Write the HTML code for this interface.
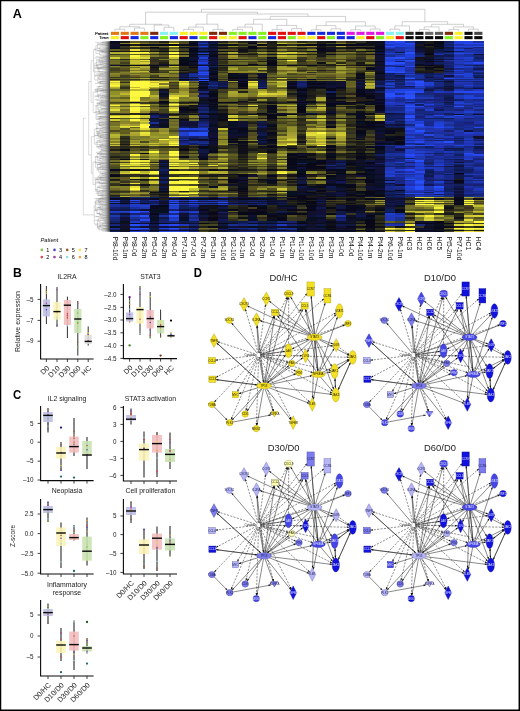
<!DOCTYPE html>
<html><head><meta charset="utf-8"><title>Figure</title>
<style>html,body{margin:0;padding:0;background:#fff;}body{width:520px;height:711px;overflow:hidden;font-family:"Liberation Sans",sans-serif;}svg{display:block;position:absolute;left:0;top:0;will-change:transform;}</style>
</head><body>
<svg width="520" height="711" viewBox="0 0 520 711" font-family="'Liberation Sans', sans-serif">
<rect x="0" y="0" width="520" height="711" fill="#fff"/>
<path d="M114.91 31.20V29.25H124.73V31.20M134.55 31.20V28.00H144.37V31.20M119.82 29.25V26.75H139.46V28.00M164.02 31.20V27.25H173.84V31.20M154.19 31.20V25.00H168.93V27.25M129.64 26.75V24.25H161.56V25.00M183.66 31.20V29.40H193.48V31.20M188.57 29.40V27.10H203.30V31.20M213.12 31.20V29.40H222.94V31.20M195.93 27.10V24.20H218.03V29.40M232.76 31.20V29.40H242.58V31.20M237.67 29.40V27.10H252.41V31.20M245.04 27.10V24.20H262.23V31.20M272.05 31.20V29.60H281.87V31.20M291.69 31.20V28.60H301.51V31.20M276.96 29.60V25.40H296.60V28.60M253.63 24.20V19.30H286.78V25.40M311.33 31.20V29.80H321.15V31.20M330.97 31.20V28.80H340.79V31.20M316.24 29.80V25.60H335.88V28.80M350.62 31.20V29.80H360.44V31.20M370.26 31.20V29.00H380.08V31.20M355.53 29.80V26.00H375.17V29.00M326.06 25.60V21.80H365.35V26.00M270.21 19.30V16.40H345.71V21.80M206.98 24.20V14.00H307.96V16.40M145.60 24.25V12.20H257.47V14.00M389.90 31.20V29.20H399.72V31.20M394.81 29.20V25.90H409.54V31.20M419.36 31.20V29.40H429.18V31.20M424.27 29.40V26.90H439.01V31.20M448.83 31.20V29.60H458.65V31.20M468.47 31.20V29.20H478.29V31.20M453.74 29.60V26.90H473.38V29.20M431.64 26.90V24.30H463.56V26.90M402.18 25.90V21.70H447.60V24.30M201.54 12.20V9.25H424.89V21.70" fill="none" stroke="#a9a9a9" stroke-width="0.55"/>
<defs><linearGradient id="rg" x1="0" x2="1" y1="0" y2="0"><stop offset="0" stop-color="#fff" stop-opacity="0"/><stop offset="0.5" stop-color="#aaa" stop-opacity="0.35"/><stop offset="1" stop-color="#2a2a2a" stop-opacity="0.95"/></linearGradient></defs>
<path d="M103.5 42.7H101.0V44.5H103.5M103.5 46.8H99.8V49.5H103.5M101.0 43.6H97.6V48.2H99.8M103.5 54.1H100.7V55.9H103.5M103.5 52.0H99.5V55.0H100.7M97.6 45.9H95.9V53.5H99.5M103.5 58.1H99.6V60.9H103.5M103.5 63.1H100.8V64.9H103.5M103.5 68.2H99.0V71.8H103.5M100.8 64.0H97.8V70.0H99.0M99.6 59.5H96.6V67.0H97.8M103.5 74.6H100.1V77.0H103.5M100.1 75.8H98.9V79.2H103.5M103.5 81.4H100.6V83.5H103.5M98.9 77.5H97.7V82.5H100.6M96.6 63.2H94.7V80.0H97.7M95.9 49.7H93.5V71.6H94.7M103.5 88.7H100.1V90.7H103.5M103.5 86.3H98.9V89.7H100.1M103.5 93.2H100.1V95.2H103.5M103.5 97.1H100.5V98.9H103.5M100.1 94.2H98.6V98.0H100.5M98.9 88.0H97.4V96.1H98.6M103.5 100.5H101.0V102.5H103.5M101.0 101.5H99.8V104.3H103.5M103.5 106.2H100.7V108.1H103.5M103.5 109.9H99.6V112.8H103.5M100.7 107.2H98.4V111.4H99.6M99.8 102.9H97.2V109.3H98.4M103.5 116.1H100.4V118.6H103.5M100.4 117.3H99.2V120.7H103.5M97.2 106.1H96.0V119.0H99.2M97.4 92.1H93.2V112.5H96.0M93.5 60.7H91.1V102.3H93.2M103.5 124.6H100.6V126.4H103.5M103.5 122.8H99.4V125.5H100.6M103.5 128.4H100.5V130.9H103.5M100.5 129.6H99.3V133.8H103.5M103.5 135.6H100.4V137.4H103.5M99.3 131.7H98.1V136.5H100.4M99.4 124.1H96.9V134.1H98.1M103.5 141.7H100.8V143.3H103.5M103.5 139.6H99.6V142.5H100.8M103.5 144.8H100.6V146.9H103.5M100.6 145.9H98.8V149.0H103.5M99.6 141.1H96.9V147.4H98.8M96.9 129.1H94.4V144.2H96.9M103.5 151.0H100.6V152.7H103.5M103.5 154.2H100.6V155.9H103.5M100.6 151.9H99.4V155.1H100.6M103.5 158.4H99.9V161.3H103.5M99.4 153.5H97.2V159.8H99.9M103.5 163.7H100.1V165.5H103.5M103.5 167.0H100.2V169.0H103.5M103.5 171.2H100.5V172.9H103.5M100.2 168.0H98.7V172.1H100.5M100.1 164.6H97.5V170.1H98.7M97.2 156.6H95.4V167.3H97.5M103.5 177.2H100.4V179.2H103.5M103.5 174.9H99.2V178.2H100.4M103.5 180.9H99.5V183.1H103.5M99.2 176.5H98.0V182.0H99.5M103.5 185.4H99.0V188.2H103.5M103.5 190.6H99.8V192.6H103.5M103.5 194.2H100.8V195.9H103.5M99.8 191.6H98.4V195.0H100.8M99.0 186.8H97.2V193.3H98.4M98.0 179.3H95.6V190.1H97.2M95.4 162.0H93.0V184.7H95.6M94.4 136.7H91.4V173.3H93.0M91.1 81.5H88.7V155.0H91.4M103.5 198.3H100.1V199.9H103.5M103.5 201.5H100.1V203.9H103.5M100.1 199.1H98.9V202.7H100.1M103.5 206.6H100.0V209.2H103.5M103.5 214.3H100.6V216.3H103.5M103.5 211.9H99.4V215.3H100.6M100.0 207.9H97.0V213.6H99.4M98.9 200.9H95.5V210.8H97.0M103.5 220.5H99.9V222.7H103.5M103.5 218.5H98.6V221.6H99.9M103.5 224.9H100.3V227.2H103.5M100.3 226.1H99.1V229.9H103.5M98.6 220.0H97.4V228.0H99.1M95.5 205.8H94.2V224.0H97.4M85.6 118.2H83.3V214.9H94.2" fill="none" stroke="#b4b4b4" stroke-width="0.5"/>
<path d="M102.1 42.6L110 41.9M102.1 41.8L110 42.6M95.3 42.3L110 43.4M101.9 43.0L110 44.1M97.5 44.4L110 44.9M98.2 45.1L110 45.6M103.2 44.6L110 46.4M94.0 49.3L110 47.1M102.8 50.3L110 47.9M98.3 50.9L110 48.6M103.3 48.0L110 49.4M101.5 51.8L110 50.1M100.6 50.9L110 50.9M96.9 50.8L110 51.6M96.3 50.2L110 52.4M99.9 52.0L110 53.1M102.1 51.6L110 53.9M103.0 55.6L110 54.6M103.2 57.3L110 55.4M103.0 56.5L110 56.1M94.1 58.1L110 56.9M95.7 56.6L110 57.6M100.6 58.5L110 58.4M98.1 61.3L110 59.1M100.1 59.1L110 59.9M96.5 62.4L110 60.6M98.8 62.8L110 61.4M97.5 60.6L110 62.1M99.3 64.4L110 62.9M95.7 65.1L110 63.6M103.2 65.9L110 64.3M102.2 62.6L110 65.1M100.3 67.7L110 65.8M94.5 65.5L110 66.6M96.7 67.5L110 67.3M98.2 68.0L110 68.1M101.8 66.4L110 68.8M94.5 67.7L110 69.6M95.2 68.2L110 70.3M103.7 72.9L110 71.1M94.9 71.9L110 71.8M97.2 71.7L110 72.6M97.5 74.1L110 73.3M99.9 73.4L110 74.1M95.9 74.0L110 74.8M95.2 75.9L110 75.6M101.2 75.8L110 76.3M94.8 75.5L110 77.1M97.7 78.4L110 77.8M101.8 78.0L110 78.6M102.0 80.0L110 79.3M98.3 79.5L110 80.1M99.0 81.9L110 80.8M98.2 82.6L110 81.6M98.6 81.1L110 82.3M99.4 84.1L110 83.1M94.7 83.5L110 83.8M98.3 86.5L110 84.6M103.4 84.7L110 85.3M103.0 87.6L110 86.1M96.6 86.7L110 86.8M95.2 89.2L110 87.6M100.6 90.3L110 88.3M101.9 89.9L110 89.1M101.3 90.2L110 89.8M95.0 91.0L110 90.6M94.0 89.6L110 91.3M101.7 89.8L110 92.1M94.9 90.8L110 92.8M102.8 92.0L110 93.6M94.2 96.1L110 94.3M95.2 96.8L110 95.1M100.7 97.5L110 95.8M103.5 97.0L110 96.6M102.0 95.0L110 97.3M101.7 98.2L110 98.1M101.2 96.9L110 98.8M101.5 101.8L110 99.6M94.6 99.5L110 100.3M99.6 102.7L110 101.1M96.4 100.2L110 101.8M96.5 103.2L110 102.6M101.5 102.8L110 103.3M97.7 103.6L110 104.1M97.5 104.4L110 104.8M94.8 105.6L110 105.6M103.7 105.9L110 106.3M101.5 105.4L110 107.1M100.9 109.1L110 107.8M100.7 108.7L110 108.6M98.8 110.1L110 109.3M103.0 108.3L110 110.1M95.0 112.1L110 110.8M103.2 111.7L110 111.6M98.4 113.4L110 112.3M95.9 111.9L110 113.1M96.0 114.3L110 113.8M97.1 113.3L110 114.6M100.9 117.6L110 115.3M97.0 117.1L110 116.1M98.1 118.6L110 116.8M99.8 116.4L110 117.6M96.2 116.0L110 118.3M98.8 118.5L110 119.1M95.7 119.2L110 119.8M97.2 122.0L110 120.6M95.4 123.8L110 121.3M98.8 122.6L110 122.1M98.7 124.5L110 122.8M102.2 123.9L110 123.6M98.8 125.5L110 124.3M102.6 124.6L110 125.1M101.3 128.2L110 125.8M98.7 125.2L110 126.6M96.3 128.4L110 127.3M100.8 130.4L110 128.1M102.5 127.6L110 128.8M95.9 128.4L110 129.6M95.9 131.4L110 130.3M102.6 133.1L110 131.1M96.6 133.7L110 131.8M97.1 132.2L110 132.6M101.3 131.3L110 133.3M94.9 135.8L110 134.1M96.9 134.1L110 134.8M99.8 136.5L110 135.6M94.1 135.5L110 136.3M98.4 137.0L110 137.1M96.1 138.3L110 137.8M103.6 138.1L110 138.6M99.4 137.4L110 139.3M96.7 140.9L110 140.1M95.1 142.8L110 140.8M103.1 139.6L110 141.6M103.4 141.7L110 142.3M101.7 144.4L110 143.1M97.0 144.7L110 143.8M100.5 146.1L110 144.6M96.7 146.6L110 145.3M103.6 147.0L110 146.1M99.4 144.9L110 146.8M98.9 146.9L110 147.6M101.2 149.2L110 148.3M99.7 147.5L110 149.1M100.5 150.5L110 149.8M95.8 152.5L110 150.6M100.6 149.5L110 151.3M103.3 150.3L110 152.1M97.3 154.0L110 152.8M100.0 153.9L110 153.6M100.5 154.1L110 154.3M97.1 153.5L110 155.1M94.7 156.9L110 155.8M101.5 156.8L110 156.6M101.4 156.6L110 157.3M96.7 157.5L110 158.1M102.7 156.6L110 158.8M99.0 158.3L110 159.6M101.7 159.6L110 160.3M97.3 160.6L110 161.1M99.4 163.2L110 161.8M97.5 164.3L110 162.6M95.1 162.2L110 163.3M95.0 162.2L110 164.1M101.8 166.0L110 164.8M95.8 164.0L110 165.6M98.2 167.6L110 166.3M102.2 168.3L110 167.1M99.9 166.1L110 167.8M98.0 167.1L110 168.6M99.3 169.7L110 169.3M96.0 168.9L110 170.1M101.8 168.5L110 170.8M102.0 173.6L110 171.6M103.5 171.8L110 172.3M99.5 173.5L110 173.1M100.3 176.2L110 173.8M100.9 173.6L110 174.6M102.6 175.3L110 175.3M100.0 177.2L110 176.1M94.0 178.2L110 176.8M100.6 177.6L110 177.6M99.2 178.2L110 178.3M95.9 179.2L110 179.1M94.4 179.9L110 179.8M100.5 180.3L110 180.6M99.7 183.6L110 181.3M102.9 180.3L110 182.1M101.9 183.5L110 182.8M94.5 182.9L110 183.6M96.3 182.2L110 184.3M99.4 187.2L110 185.1M97.2 187.7L110 185.8M100.9 184.8L110 186.6M102.6 187.9L110 187.3M103.3 189.2L110 188.1M101.4 188.1L110 188.8M102.1 191.8L110 189.6M102.6 190.0L110 190.3M101.6 191.0L110 191.1M95.1 189.6L110 191.8M94.8 191.1L110 192.6M95.6 193.3L110 193.3M101.0 194.3L110 194.1M98.2 195.6L110 194.8M97.0 195.4L110 195.6M101.6 195.9L110 196.3M95.8 199.1L110 197.1M101.2 197.2L110 197.8M97.7 198.7L110 198.6M100.0 198.0L110 199.3M94.0 198.6L110 200.1M101.8 199.1L110 200.8M98.6 200.1L110 201.6M96.1 200.7L110 202.3M98.0 201.4L110 203.1M94.3 201.9L110 203.8M95.7 204.6L110 204.6M94.6 203.0L110 205.3M98.5 205.6L110 206.1M101.0 204.6L110 206.8M98.0 207.1L110 207.6M94.3 210.7L110 208.3M96.2 207.1L110 209.1M98.7 208.2L110 209.8M100.2 209.8L110 210.6M95.2 209.1L110 211.3M101.3 211.0L110 212.1M101.9 212.7L110 212.8M103.3 212.6L110 213.6M96.5 213.2L110 214.3M102.1 215.7L110 215.1M97.4 213.8L110 215.8M100.8 218.9L110 216.6M99.9 214.9L110 217.3M94.3 216.1L110 218.1M95.7 216.5L110 218.8M94.5 220.4L110 219.6M103.0 218.9L110 220.3M103.7 221.0L110 221.1M102.0 223.9L110 221.8M103.4 220.3L110 222.6M97.0 223.9L110 223.3M103.5 222.0L110 224.1M96.9 226.6L110 224.8M95.1 225.0L110 225.6M97.3 227.3L110 226.3M103.3 225.5L110 227.1M101.4 229.0L110 227.8M102.4 228.9L110 228.6M103.2 228.7L110 229.3M98.1 228.7L110 230.1M101.8 230.8L110 230.8" fill="none" stroke="#444" stroke-width="0.35" opacity="0.6"/>
<rect x="99" y="41.25" width="11" height="190.5" fill="url(#rg)"/>
<g shape-rendering="crispEdges">
<rect x="110.0" y="41.25" width="373.20" height="190.50" fill="#101018"/>
<path fill="#080820" d="M110.0 41.25h10.1v2.20h-10.1zM188.6 43.25h10.1v3.20h-10.1zM335.9 44.25h10.1v2.20h-10.1zM355.5 44.25h10.1v2.20h-10.1zM375.2 46.25h10.1v1.20h-10.1zM434.1 46.25h10.1v1.20h-10.1zM247.5 47.25h10.1v1.20h-10.1zM110.0 48.25h10.1v1.20h-10.1zM188.6 49.25h10.1v2.20h-10.1zM316.2 49.25h10.1v2.20h-10.1zM306.4 51.25h10.1v1.20h-10.1zM424.3 61.25h10.1v1.20h-10.1zM149.3 65.25h10.1v1.20h-10.1zM267.1 65.25h10.1v1.20h-10.1zM414.5 65.25h10.1v1.20h-10.1zM365.3 68.25h10.1v2.20h-10.1zM208.2 78.25h10.1v1.20h-10.1zM355.5 78.25h10.1v1.20h-10.1zM306.4 79.25h10.1v1.20h-10.1zM286.8 81.25h10.1v1.20h-10.1zM286.8 83.25h10.1v2.20h-10.1zM286.8 86.25h10.1v1.20h-10.1zM335.9 87.25h10.1v1.20h-10.1zM198.4 88.25h10.1v1.20h-10.1zM355.5 89.25h10.1v4.20h-10.1zM355.5 95.25h10.1v2.20h-10.1zM335.9 97.25h10.1v2.20h-10.1zM365.3 97.25h10.1v2.20h-10.1zM375.2 99.25h10.1v2.20h-10.1zM208.2 101.25h10.1v1.20h-10.1zM355.5 102.25h10.1v1.20h-10.1zM375.2 102.25h10.1v2.20h-10.1zM326.1 103.25h10.1v2.20h-10.1zM267.1 107.25h10.1v2.20h-10.1zM375.2 109.25h10.1v2.20h-10.1zM326.1 113.25h10.1v1.20h-10.1zM267.1 114.25h10.1v1.20h-10.1zM355.5 115.25h10.1v1.20h-10.1zM198.4 118.25h10.1v1.20h-10.1zM355.5 118.25h10.1v1.20h-10.1zM227.9 121.25h10.1v1.20h-10.1zM355.5 121.25h10.1v1.20h-10.1zM365.3 124.25h10.1v2.20h-10.1zM326.1 127.25h10.1v1.20h-10.1zM365.3 127.25h10.1v1.20h-10.1zM227.9 128.25h10.1v2.20h-10.1zM237.7 130.25h10.1v2.20h-10.1zM385.0 130.25h10.1v4.20h-10.1zM267.1 132.25h10.1v2.20h-10.1zM394.8 138.25h10.1v1.20h-10.1zM208.2 140.25h10.1v1.20h-10.1zM227.9 141.25h10.1v2.20h-10.1zM375.2 143.25h10.1v1.20h-10.1zM394.8 144.25h10.1v1.20h-10.1zM237.7 145.25h10.1v1.20h-10.1zM365.3 146.25h10.1v2.20h-10.1zM375.2 146.25h10.1v2.20h-10.1zM198.4 148.25h10.1v1.20h-10.1zM286.8 148.25h10.1v1.20h-10.1zM296.6 153.25h10.1v1.20h-10.1zM326.1 153.25h10.1v1.20h-10.1zM198.4 158.25h10.1v1.20h-10.1zM316.2 160.25h10.1v2.20h-10.1zM286.8 162.25h10.1v1.20h-10.1zM365.3 162.25h10.1v1.20h-10.1zM365.3 166.25h10.1v1.20h-10.1zM286.8 167.25h10.1v2.20h-10.1zM110.0 169.25h10.1v2.20h-10.1zM326.1 169.25h10.1v2.20h-10.1zM365.3 174.25h10.1v1.20h-10.1zM267.1 175.25h10.1v2.20h-10.1zM296.6 175.25h10.1v2.20h-10.1zM365.3 179.25h10.1v1.20h-10.1zM227.9 180.25h10.1v1.20h-10.1zM335.9 180.25h10.1v1.20h-10.1zM453.7 181.25h10.1v2.20h-10.1zM326.1 184.25h10.1v2.20h-10.1zM345.7 184.25h10.1v2.20h-10.1zM316.2 186.25h10.1v2.20h-10.1zM316.2 190.25h10.1v1.20h-10.1zM375.2 190.25h10.1v1.20h-10.1zM296.6 195.25h10.1v1.20h-10.1zM355.5 196.25h10.1v1.20h-10.1zM110.0 198.25h10.1v2.20h-10.1zM149.3 198.25h10.1v2.20h-10.1zM208.2 198.25h10.1v2.20h-10.1zM237.7 198.25h10.1v2.20h-10.1zM286.8 198.25h10.1v2.20h-10.1zM119.8 203.25h10.1v1.20h-10.1zM453.7 203.25h10.1v2.20h-10.1zM149.3 205.25h10.1v4.20h-10.1zM345.7 205.25h10.1v4.20h-10.1zM306.4 207.25h10.1v2.20h-10.1zM355.5 207.25h10.1v2.20h-10.1zM335.9 209.25h10.1v2.20h-10.1zM394.8 209.25h10.1v3.20h-10.1zM247.5 213.25h10.1v2.20h-10.1zM277.0 213.25h10.1v2.20h-10.1zM326.1 221.25h10.1v2.20h-10.1zM414.5 223.25h10.1v1.20h-10.1zM434.1 223.25h10.1v1.20h-10.1zM345.7 226.25h10.1v2.20h-10.1zM434.1 226.25h10.1v2.20h-10.1zM443.9 226.25h10.1v2.20h-10.1zM296.6 229.25h10.1v1.20h-10.1zM129.6 230.25h10.1v1.20h-10.1zM316.2 230.25h10.1v1.20h-10.1zM335.9 230.25h10.1v1.20h-10.1zM345.7 230.25h10.1v1.20h-10.1zM424.3 230.25h10.1v1.20h-10.1zM434.1 231.25h10.1v0.70h-10.1z"/>
<path fill="#181818" d="M119.8 41.25h10.1v2.20h-10.1zM267.1 41.25h10.1v2.20h-10.1zM316.2 41.25h10.1v2.20h-10.1zM424.3 41.25h10.1v3.20h-10.1zM355.5 43.25h10.1v1.20h-10.1zM129.6 44.25h10.1v2.20h-10.1zM277.0 44.25h10.1v2.20h-10.1zM414.5 44.25h10.1v2.20h-10.1zM316.2 46.25h10.1v1.20h-10.1zM267.1 47.25h10.1v1.20h-10.1zM424.3 47.25h10.1v1.20h-10.1zM149.3 48.25h10.1v1.20h-10.1zM159.1 48.25h10.1v1.20h-10.1zM237.7 48.25h10.1v1.20h-10.1zM335.9 48.25h10.1v1.20h-10.1zM355.5 48.25h10.1v1.20h-10.1zM227.9 51.25h10.1v1.20h-10.1zM247.5 51.25h10.1v1.20h-10.1zM286.8 51.25h10.1v1.20h-10.1zM296.6 51.25h10.1v1.20h-10.1zM355.5 51.25h10.1v1.20h-10.1zM316.2 53.25h10.1v1.20h-10.1zM178.7 54.25h10.1v1.20h-10.1zM247.5 54.25h10.1v1.20h-10.1zM365.3 54.25h10.1v1.20h-10.1zM316.2 55.25h10.1v2.20h-10.1zM424.3 55.25h10.1v2.20h-10.1zM227.9 59.25h10.1v1.20h-10.1zM414.5 59.25h10.1v1.20h-10.1zM355.5 62.25h10.1v2.20h-10.1zM168.9 65.25h10.1v1.20h-10.1zM247.5 65.25h10.1v1.20h-10.1zM257.3 65.25h10.1v1.20h-10.1zM296.6 65.25h10.1v1.20h-10.1zM316.2 65.25h10.1v1.20h-10.1zM414.5 71.25h10.1v2.20h-10.1zM188.6 72.25h10.1v1.20h-10.1zM424.3 72.25h10.1v1.20h-10.1zM237.7 73.25h10.1v1.20h-10.1zM149.3 79.25h10.1v1.20h-10.1zM227.9 79.25h10.1v1.20h-10.1zM257.3 79.25h10.1v1.20h-10.1zM237.7 87.25h10.1v1.20h-10.1zM208.2 89.25h10.1v2.20h-10.1zM306.4 89.25h10.1v2.20h-10.1zM286.8 93.25h10.1v2.20h-10.1zM306.4 95.25h10.1v2.20h-10.1zM355.5 101.25h10.1v1.20h-10.1zM247.5 102.25h10.1v1.20h-10.1zM355.5 103.25h10.1v1.20h-10.1zM188.6 106.25h10.1v3.20h-10.1zM218.0 106.25h10.1v1.20h-10.1zM237.7 106.25h10.1v1.20h-10.1zM218.0 109.25h10.1v2.20h-10.1zM326.1 109.25h10.1v2.20h-10.1zM188.6 111.25h10.1v2.20h-10.1zM119.8 114.25h10.1v1.20h-10.1zM326.1 114.25h10.1v1.20h-10.1zM326.1 118.25h10.1v1.20h-10.1zM335.9 118.25h10.1v1.20h-10.1zM345.7 118.25h10.1v1.20h-10.1zM365.3 118.25h10.1v1.20h-10.1zM267.1 119.25h10.1v2.20h-10.1zM355.5 119.25h10.1v2.20h-10.1zM218.0 121.25h10.1v1.20h-10.1zM218.0 126.25h10.1v1.20h-10.1zM267.1 127.25h10.1v1.20h-10.1zM355.5 128.25h10.1v2.20h-10.1zM267.1 136.25h10.1v2.20h-10.1zM296.6 136.25h10.1v2.20h-10.1zM237.7 139.25h10.1v1.20h-10.1zM227.9 140.25h10.1v1.20h-10.1zM394.8 140.25h10.1v1.20h-10.1zM355.5 141.25h10.1v2.20h-10.1zM119.8 144.25h10.1v1.20h-10.1zM237.7 144.25h10.1v1.20h-10.1zM178.7 146.25h10.1v2.20h-10.1zM306.4 146.25h10.1v2.20h-10.1zM355.5 146.25h10.1v2.20h-10.1zM257.3 148.25h10.1v1.20h-10.1zM326.1 148.25h10.1v1.20h-10.1zM247.5 149.25h10.1v2.20h-10.1zM345.7 149.25h10.1v2.20h-10.1zM355.5 151.25h10.1v2.20h-10.1zM237.7 156.25h10.1v2.20h-10.1zM345.7 156.25h10.1v2.20h-10.1zM296.6 158.25h10.1v1.20h-10.1zM326.1 158.25h10.1v1.20h-10.1zM365.3 158.25h10.1v1.20h-10.1zM139.5 159.25h10.1v1.20h-10.1zM237.7 159.25h10.1v1.20h-10.1zM237.7 169.25h10.1v2.20h-10.1zM247.5 169.25h10.1v2.20h-10.1zM316.2 169.25h10.1v2.20h-10.1zM345.7 169.25h10.1v2.20h-10.1zM326.1 171.25h10.1v2.20h-10.1zM286.8 174.25h10.1v1.20h-10.1zM316.2 174.25h10.1v1.20h-10.1zM198.4 175.25h10.1v2.20h-10.1zM208.2 175.25h10.1v2.20h-10.1zM227.9 177.25h10.1v2.20h-10.1zM110.0 179.25h10.1v1.20h-10.1zM247.5 179.25h10.1v1.20h-10.1zM257.3 180.25h10.1v1.20h-10.1zM277.0 180.25h10.1v1.20h-10.1zM296.6 180.25h10.1v1.20h-10.1zM286.8 181.25h10.1v2.20h-10.1zM119.8 184.25h10.1v2.20h-10.1zM316.2 188.25h10.1v2.20h-10.1zM345.7 188.25h10.1v2.20h-10.1zM267.1 191.25h10.1v1.20h-10.1zM345.7 191.25h10.1v1.20h-10.1zM149.3 194.25h10.1v1.20h-10.1zM159.1 195.25h10.1v1.20h-10.1zM237.7 196.25h10.1v1.20h-10.1zM345.7 196.25h10.1v1.20h-10.1zM306.4 197.25h10.1v1.20h-10.1zM335.9 198.25h10.1v2.20h-10.1zM355.5 198.25h10.1v2.20h-10.1zM404.6 198.25h10.1v2.20h-10.1zM414.5 198.25h10.1v2.20h-10.1zM286.8 201.25h10.1v1.20h-10.1zM326.1 201.25h10.1v1.20h-10.1zM286.8 203.25h10.1v1.20h-10.1zM316.2 203.25h10.1v1.20h-10.1zM404.6 203.25h10.1v1.20h-10.1zM237.7 207.25h10.1v5.20h-10.1zM208.2 209.25h10.1v2.20h-10.1zM267.1 209.25h10.1v3.20h-10.1zM277.0 209.25h10.1v2.20h-10.1zM404.6 213.25h10.1v2.20h-10.1zM443.9 213.25h10.1v2.20h-10.1zM326.1 219.25h10.1v2.20h-10.1zM208.2 230.25h10.1v1.20h-10.1zM375.2 230.25h10.1v1.70h-10.1z"/>
<path fill="#605820" d="M129.6 41.25h10.1v2.20h-10.1zM159.1 55.25h10.1v2.20h-10.1zM247.5 57.25h10.1v2.20h-10.1zM306.4 57.25h10.1v2.20h-10.1zM119.8 61.25h10.1v1.20h-10.1zM227.9 61.25h10.1v1.20h-10.1zM326.1 71.25h10.1v1.20h-10.1zM345.7 74.25h10.1v1.20h-10.1zM326.1 75.25h10.1v2.20h-10.1zM316.2 78.25h10.1v1.20h-10.1zM218.0 80.25h10.1v1.20h-10.1zM188.6 87.25h10.1v1.20h-10.1zM345.7 101.25h10.1v1.20h-10.1zM227.9 109.25h10.1v2.20h-10.1zM247.5 111.25h10.1v2.20h-10.1zM306.4 127.25h10.1v1.20h-10.1zM149.3 130.25h10.1v2.20h-10.1zM326.1 130.25h10.1v2.20h-10.1zM119.8 132.25h10.1v2.20h-10.1zM247.5 136.25h10.1v2.20h-10.1zM110.0 151.25h10.1v2.20h-10.1zM208.2 158.25h10.1v1.20h-10.1zM247.5 158.25h10.1v1.20h-10.1zM227.9 163.25h10.1v1.20h-10.1zM257.3 164.25h10.1v1.20h-10.1zM168.9 166.25h10.1v1.20h-10.1zM119.8 177.25h10.1v3.20h-10.1zM306.4 177.25h10.1v2.20h-10.1zM218.0 180.25h10.1v1.20h-10.1zM277.0 181.25h10.1v2.20h-10.1zM218.0 183.25h10.1v1.20h-10.1zM129.6 191.25h10.1v1.20h-10.1zM129.6 195.25h10.1v1.20h-10.1zM404.6 215.25h10.1v2.20h-10.1zM463.6 223.25h10.1v1.20h-10.1z"/>
<path fill="#484820" d="M139.5 41.25h10.1v2.20h-10.1zM178.7 41.25h10.1v2.20h-10.1zM326.1 43.25h10.1v1.20h-10.1zM345.7 43.25h10.1v1.20h-10.1zM365.3 49.25h10.1v2.20h-10.1zM326.1 52.25h10.1v1.20h-10.1zM247.5 59.25h10.1v1.20h-10.1zM286.8 59.25h10.1v1.20h-10.1zM335.9 59.25h10.1v1.20h-10.1zM365.3 59.25h10.1v1.20h-10.1zM237.7 61.25h10.1v1.20h-10.1zM257.3 64.25h10.1v1.20h-10.1zM345.7 64.25h10.1v1.20h-10.1zM365.3 66.25h10.1v1.20h-10.1zM326.1 67.25h10.1v1.20h-10.1zM168.9 70.25h10.1v1.20h-10.1zM159.1 71.25h10.1v1.20h-10.1zM296.6 71.25h10.1v1.20h-10.1zM316.2 71.25h10.1v1.20h-10.1zM286.8 74.25h10.1v1.20h-10.1zM306.4 74.25h10.1v1.20h-10.1zM139.5 77.25h10.1v1.20h-10.1zM168.9 79.25h10.1v1.20h-10.1zM267.1 79.25h10.1v1.20h-10.1zM119.8 86.25h10.1v1.20h-10.1zM345.7 89.25h10.1v2.20h-10.1zM218.0 97.25h10.1v2.20h-10.1zM110.0 102.25h10.1v1.20h-10.1zM267.1 104.25h10.1v1.20h-10.1zM375.2 113.25h10.1v1.20h-10.1zM296.6 116.25h10.1v2.20h-10.1zM345.7 116.25h10.1v2.20h-10.1zM286.8 121.25h10.1v1.20h-10.1zM247.5 128.25h10.1v2.20h-10.1zM168.9 130.25h10.1v2.20h-10.1zM296.6 132.25h10.1v2.20h-10.1zM365.3 134.25h10.1v2.20h-10.1zM139.5 141.25h10.1v2.20h-10.1zM227.9 143.25h10.1v1.20h-10.1zM218.0 145.25h10.1v1.20h-10.1zM139.5 148.25h10.1v1.20h-10.1zM277.0 149.25h10.1v2.20h-10.1zM119.8 151.25h10.1v2.20h-10.1zM345.7 151.25h10.1v2.20h-10.1zM365.3 151.25h10.1v2.20h-10.1zM208.2 153.25h10.1v1.20h-10.1zM227.9 153.25h10.1v1.20h-10.1zM119.8 154.25h10.1v2.20h-10.1zM178.7 154.25h10.1v2.20h-10.1zM267.1 154.25h10.1v2.20h-10.1zM188.6 156.25h10.1v2.20h-10.1zM178.7 158.25h10.1v2.20h-10.1zM227.9 159.25h10.1v1.20h-10.1zM237.7 163.25h10.1v1.20h-10.1zM149.3 166.25h10.1v1.20h-10.1zM110.0 167.25h10.1v2.20h-10.1zM247.5 167.25h10.1v2.20h-10.1zM227.9 171.25h10.1v3.20h-10.1zM237.7 171.25h10.1v2.20h-10.1zM178.7 175.25h10.1v2.20h-10.1zM168.9 179.25h10.1v1.20h-10.1zM188.6 179.25h10.1v1.20h-10.1zM119.8 180.25h10.1v1.20h-10.1zM208.2 180.25h10.1v1.20h-10.1zM247.5 180.25h10.1v1.20h-10.1zM208.2 183.25h10.1v1.20h-10.1zM277.0 183.25h10.1v3.20h-10.1zM149.3 184.25h10.1v2.20h-10.1zM188.6 184.25h10.1v2.20h-10.1zM139.5 186.25h10.1v2.20h-10.1zM267.1 190.25h10.1v1.20h-10.1zM267.1 192.25h10.1v1.20h-10.1zM257.3 194.25h10.1v1.20h-10.1zM277.0 194.25h10.1v1.20h-10.1zM119.8 195.25h10.1v1.20h-10.1zM227.9 196.25h10.1v1.20h-10.1zM463.6 198.25h10.1v2.20h-10.1zM404.6 201.25h10.1v1.20h-10.1zM473.4 201.25h10.1v1.20h-10.1zM375.2 203.25h10.1v1.20h-10.1zM237.7 219.25h10.1v2.20h-10.1zM394.8 221.25h10.1v2.20h-10.1zM198.4 224.25h10.1v2.20h-10.1zM208.2 224.25h10.1v2.20h-10.1zM198.4 231.25h10.1v0.70h-10.1z"/>
<path fill="#383820" d="M149.3 41.25h10.1v2.20h-10.1zM306.4 41.25h10.1v2.20h-10.1zM247.5 44.25h10.1v2.20h-10.1zM119.8 46.25h10.1v1.20h-10.1zM326.1 46.25h10.1v1.20h-10.1zM365.3 46.25h10.1v1.20h-10.1zM159.1 47.25h10.1v1.20h-10.1zM296.6 47.25h10.1v1.20h-10.1zM306.4 48.25h10.1v1.20h-10.1zM345.7 49.25h10.1v2.20h-10.1zM110.0 54.25h10.1v1.20h-10.1zM149.3 54.25h10.1v1.20h-10.1zM335.9 54.25h10.1v1.20h-10.1zM149.3 57.25h10.1v2.20h-10.1zM159.1 57.25h10.1v2.20h-10.1zM218.0 57.25h10.1v2.20h-10.1zM296.6 57.25h10.1v2.20h-10.1zM237.7 59.25h10.1v1.20h-10.1zM257.3 59.25h10.1v1.20h-10.1zM316.2 59.25h10.1v1.20h-10.1zM345.7 59.25h10.1v1.20h-10.1zM355.5 60.25h10.1v1.20h-10.1zM365.3 60.25h10.1v2.20h-10.1zM296.6 64.25h10.1v1.20h-10.1zM316.2 64.25h10.1v1.20h-10.1zM178.7 71.25h10.1v1.20h-10.1zM355.5 71.25h10.1v1.20h-10.1zM159.1 72.25h10.1v1.20h-10.1zM218.0 72.25h10.1v1.20h-10.1zM247.5 74.25h10.1v1.20h-10.1zM110.0 77.25h10.1v1.20h-10.1zM277.0 77.25h10.1v1.20h-10.1zM345.7 78.25h10.1v1.20h-10.1zM119.8 79.25h10.1v1.20h-10.1zM326.1 79.25h10.1v1.20h-10.1zM218.0 91.25h10.1v2.20h-10.1zM286.8 91.25h10.1v2.20h-10.1zM267.1 97.25h10.1v4.20h-10.1zM257.3 101.25h10.1v1.20h-10.1zM139.5 103.25h10.1v1.20h-10.1zM257.3 103.25h10.1v1.20h-10.1zM286.8 103.25h10.1v1.20h-10.1zM306.4 104.25h10.1v1.20h-10.1zM355.5 104.25h10.1v1.20h-10.1zM365.3 106.25h10.1v1.20h-10.1zM335.9 111.25h10.1v2.20h-10.1zM139.5 113.25h10.1v1.20h-10.1zM247.5 113.25h10.1v1.20h-10.1zM178.7 115.25h10.1v3.20h-10.1zM365.3 116.25h10.1v2.20h-10.1zM110.0 118.25h10.1v1.20h-10.1zM188.6 118.25h10.1v1.20h-10.1zM227.9 118.25h10.1v1.20h-10.1zM345.7 119.25h10.1v2.20h-10.1zM296.6 127.25h10.1v1.20h-10.1zM345.7 130.25h10.1v2.20h-10.1zM345.7 139.25h10.1v1.20h-10.1zM119.8 140.25h10.1v1.20h-10.1zM326.1 141.25h10.1v2.20h-10.1zM296.6 143.25h10.1v1.20h-10.1zM345.7 143.25h10.1v1.20h-10.1zM110.0 146.25h10.1v2.20h-10.1zM188.6 148.25h10.1v1.20h-10.1zM277.0 148.25h10.1v1.20h-10.1zM227.9 149.25h10.1v2.20h-10.1zM296.6 149.25h10.1v2.20h-10.1zM316.2 149.25h10.1v2.20h-10.1zM218.0 151.25h10.1v2.20h-10.1zM110.0 153.25h10.1v1.20h-10.1zM119.8 153.25h10.1v1.20h-10.1zM119.8 158.25h10.1v1.20h-10.1zM267.1 158.25h10.1v1.20h-10.1zM247.5 159.25h10.1v1.20h-10.1zM335.9 159.25h10.1v1.20h-10.1zM218.0 162.25h10.1v1.20h-10.1zM227.9 162.25h10.1v1.20h-10.1zM267.1 162.25h10.1v1.20h-10.1zM267.1 165.25h10.1v1.20h-10.1zM227.9 167.25h10.1v2.20h-10.1zM257.3 169.25h10.1v2.20h-10.1zM110.0 171.25h10.1v2.20h-10.1zM188.6 174.25h10.1v1.20h-10.1zM149.3 175.25h10.1v2.20h-10.1zM257.3 175.25h10.1v2.20h-10.1zM286.8 177.25h10.1v2.20h-10.1zM178.7 179.25h10.1v1.20h-10.1zM168.9 180.25h10.1v1.20h-10.1zM286.8 180.25h10.1v1.20h-10.1zM208.2 181.25h10.1v2.20h-10.1zM110.0 183.25h10.1v1.20h-10.1zM286.8 183.25h10.1v1.20h-10.1zM129.6 184.25h10.1v2.20h-10.1zM257.3 190.25h10.1v1.20h-10.1zM149.3 191.25h10.1v1.20h-10.1zM227.9 192.25h10.1v1.20h-10.1zM149.3 195.25h10.1v1.20h-10.1zM267.1 196.25h10.1v1.20h-10.1zM404.6 197.25h10.1v1.20h-10.1zM277.0 198.25h10.1v2.20h-10.1zM326.1 202.25h10.1v1.20h-10.1zM335.9 202.25h10.1v1.20h-10.1zM443.9 203.25h10.1v1.20h-10.1zM453.7 205.25h10.1v2.20h-10.1zM345.7 213.25h10.1v2.20h-10.1zM414.5 213.25h10.1v2.20h-10.1zM237.7 215.25h10.1v2.20h-10.1zM286.8 217.25h10.1v4.20h-10.1zM326.1 217.25h10.1v2.20h-10.1zM257.3 219.25h10.1v2.20h-10.1zM198.4 221.25h10.1v2.20h-10.1zM443.9 221.25h10.1v2.20h-10.1zM473.4 223.25h10.1v1.20h-10.1zM414.5 226.25h10.1v2.20h-10.1zM375.2 228.25h10.1v1.20h-10.1z"/>
<path fill="#202018" d="M159.1 41.25h10.1v2.20h-10.1zM218.0 41.25h10.1v2.20h-10.1zM237.7 41.25h10.1v2.20h-10.1zM345.7 41.25h10.1v2.20h-10.1zM267.1 43.25h10.1v3.20h-10.1zM316.2 43.25h10.1v1.20h-10.1zM218.0 47.25h10.1v1.20h-10.1zM237.7 47.25h10.1v1.20h-10.1zM119.8 48.25h10.1v1.20h-10.1zM257.3 48.25h10.1v1.20h-10.1zM345.7 51.25h10.1v1.20h-10.1zM237.7 52.25h10.1v1.20h-10.1zM159.1 54.25h10.1v1.20h-10.1zM296.6 54.25h10.1v1.20h-10.1zM306.4 54.25h10.1v1.20h-10.1zM316.2 54.25h10.1v1.20h-10.1zM355.5 54.25h10.1v1.20h-10.1zM218.0 59.25h10.1v1.20h-10.1zM267.1 59.25h10.1v1.20h-10.1zM257.3 61.25h10.1v1.20h-10.1zM159.1 62.25h10.1v2.20h-10.1zM326.1 64.25h10.1v2.20h-10.1zM355.5 64.25h10.1v1.20h-10.1zM277.0 65.25h10.1v1.20h-10.1zM335.9 65.25h10.1v1.20h-10.1zM149.3 66.25h10.1v1.20h-10.1zM188.6 66.25h10.1v1.20h-10.1zM424.3 66.25h10.1v1.20h-10.1zM218.0 67.25h10.1v1.20h-10.1zM267.1 67.25h10.1v1.20h-10.1zM149.3 68.25h10.1v3.20h-10.1zM188.6 68.25h10.1v2.20h-10.1zM267.1 70.25h10.1v1.20h-10.1zM316.2 70.25h10.1v1.20h-10.1zM424.3 70.25h10.1v1.20h-10.1zM188.6 71.25h10.1v1.20h-10.1zM149.3 72.25h10.1v1.20h-10.1zM178.7 72.25h10.1v1.20h-10.1zM159.1 77.25h10.1v1.20h-10.1zM247.5 77.25h10.1v1.20h-10.1zM247.5 79.25h10.1v1.20h-10.1zM286.8 79.25h10.1v1.20h-10.1zM345.7 79.25h10.1v1.20h-10.1zM355.5 79.25h10.1v1.20h-10.1zM286.8 89.25h10.1v2.20h-10.1zM237.7 91.25h10.1v2.20h-10.1zM306.4 91.25h10.1v4.20h-10.1zM335.9 93.25h10.1v2.20h-10.1zM159.1 97.25h10.1v2.20h-10.1zM306.4 97.25h10.1v2.20h-10.1zM345.7 97.25h10.1v2.20h-10.1zM355.5 97.25h10.1v2.20h-10.1zM247.5 99.25h10.1v2.20h-10.1zM365.3 99.25h10.1v2.20h-10.1zM267.1 101.25h10.1v1.20h-10.1zM178.7 102.25h10.1v1.20h-10.1zM237.7 102.25h10.1v1.20h-10.1zM306.4 103.25h10.1v1.20h-10.1zM355.5 105.25h10.1v1.20h-10.1zM178.7 106.25h10.1v1.20h-10.1zM326.1 107.25h10.1v2.20h-10.1zM218.0 111.25h10.1v2.20h-10.1zM178.7 113.25h10.1v1.20h-10.1zM296.6 113.25h10.1v1.20h-10.1zM227.9 114.25h10.1v1.20h-10.1zM237.7 114.25h10.1v1.20h-10.1zM316.2 114.25h10.1v1.20h-10.1zM326.1 115.25h10.1v1.20h-10.1zM178.7 118.25h10.1v1.20h-10.1zM257.3 118.25h10.1v1.20h-10.1zM296.6 118.25h10.1v1.20h-10.1zM218.0 122.25h10.1v4.20h-10.1zM247.5 122.25h10.1v2.20h-10.1zM267.1 122.25h10.1v2.20h-10.1zM345.7 124.25h10.1v2.20h-10.1zM247.5 130.25h10.1v2.20h-10.1zM267.1 130.25h10.1v2.20h-10.1zM394.8 132.25h10.1v4.20h-10.1zM119.8 138.25h10.1v1.20h-10.1zM267.1 138.25h10.1v1.20h-10.1zM296.6 138.25h10.1v1.20h-10.1zM345.7 138.25h10.1v1.20h-10.1zM355.5 138.25h10.1v1.20h-10.1zM375.2 140.25h10.1v1.20h-10.1zM247.5 141.25h10.1v2.20h-10.1zM345.7 141.25h10.1v2.20h-10.1zM365.3 141.25h10.1v2.20h-10.1zM355.5 143.25h10.1v2.20h-10.1zM365.3 144.25h10.1v1.20h-10.1zM178.7 145.25h10.1v1.20h-10.1zM188.6 146.25h10.1v2.20h-10.1zM277.0 146.25h10.1v2.20h-10.1zM286.8 146.25h10.1v2.20h-10.1zM218.0 148.25h10.1v1.20h-10.1zM247.5 148.25h10.1v1.20h-10.1zM267.1 148.25h10.1v1.20h-10.1zM110.0 149.25h10.1v2.20h-10.1zM257.3 149.25h10.1v4.20h-10.1zM365.3 149.25h10.1v2.20h-10.1zM237.7 154.25h10.1v2.20h-10.1zM335.9 154.25h10.1v2.20h-10.1zM345.7 154.25h10.1v2.20h-10.1zM365.3 154.25h10.1v2.20h-10.1zM110.0 156.25h10.1v2.20h-10.1zM306.4 156.25h10.1v2.20h-10.1zM365.3 159.25h10.1v1.20h-10.1zM149.3 162.25h10.1v1.20h-10.1zM237.7 162.25h10.1v1.20h-10.1zM227.9 166.25h10.1v1.20h-10.1zM267.1 166.25h10.1v1.20h-10.1zM345.7 166.25h10.1v1.20h-10.1zM237.7 167.25h10.1v2.20h-10.1zM119.8 169.25h10.1v2.20h-10.1zM139.5 169.25h10.1v2.20h-10.1zM168.9 169.25h10.1v2.20h-10.1zM218.0 169.25h10.1v2.20h-10.1zM208.2 174.25h10.1v1.20h-10.1zM267.1 174.25h10.1v1.20h-10.1zM139.5 175.25h10.1v2.20h-10.1zM227.9 175.25h10.1v2.20h-10.1zM267.1 177.25h10.1v2.20h-10.1zM218.0 179.25h10.1v1.20h-10.1zM453.7 179.25h10.1v1.20h-10.1zM139.5 180.25h10.1v1.20h-10.1zM345.7 180.25h10.1v3.20h-10.1zM257.3 181.25h10.1v2.20h-10.1zM227.9 183.25h10.1v1.20h-10.1zM198.4 184.25h10.1v2.20h-10.1zM218.0 184.25h10.1v2.20h-10.1zM267.1 184.25h10.1v2.20h-10.1zM286.8 184.25h10.1v2.20h-10.1zM306.4 184.25h10.1v2.20h-10.1zM227.9 188.25h10.1v2.20h-10.1zM178.7 191.25h10.1v1.20h-10.1zM218.0 191.25h10.1v1.20h-10.1zM277.0 191.25h10.1v1.20h-10.1zM306.4 191.25h10.1v1.20h-10.1zM237.7 194.25h10.1v1.20h-10.1zM355.5 194.25h10.1v1.20h-10.1zM110.0 195.25h10.1v1.20h-10.1zM208.2 195.25h10.1v1.20h-10.1zM267.1 195.25h10.1v1.20h-10.1zM316.2 195.25h10.1v1.20h-10.1zM326.1 197.25h10.1v1.20h-10.1zM345.7 197.25h10.1v1.20h-10.1zM355.5 197.25h10.1v1.20h-10.1zM159.1 198.25h10.1v2.20h-10.1zM286.8 200.25h10.1v1.20h-10.1zM306.4 200.25h10.1v1.20h-10.1zM227.9 201.25h10.1v1.20h-10.1zM345.7 201.25h10.1v2.20h-10.1zM355.5 201.25h10.1v2.20h-10.1zM365.3 201.25h10.1v1.20h-10.1zM296.6 202.25h10.1v1.20h-10.1zM326.1 203.25h10.1v1.20h-10.1zM335.9 203.25h10.1v1.20h-10.1zM286.8 204.25h10.1v1.20h-10.1zM345.7 204.25h10.1v1.20h-10.1zM355.5 204.25h10.1v1.20h-10.1zM237.7 205.25h10.1v2.20h-10.1zM326.1 205.25h10.1v2.20h-10.1zM375.2 205.25h10.1v2.20h-10.1zM443.9 205.25h10.1v2.20h-10.1zM267.1 207.25h10.1v2.20h-10.1zM365.3 207.25h10.1v4.20h-10.1zM394.8 207.25h10.1v2.20h-10.1zM326.1 209.25h10.1v3.20h-10.1zM286.8 211.25h10.1v1.20h-10.1zM227.9 212.25h10.1v1.20h-10.1zM267.1 212.25h10.1v1.20h-10.1zM375.2 212.25h10.1v1.20h-10.1zM453.7 213.25h10.1v2.20h-10.1zM404.6 217.25h10.1v2.20h-10.1zM375.2 219.25h10.1v2.20h-10.1zM208.2 223.25h10.1v1.20h-10.1zM198.4 226.25h10.1v2.20h-10.1zM404.6 230.25h10.1v1.20h-10.1z"/>
<path fill="#706828" d="M168.9 41.25h10.1v2.20h-10.1zM365.3 57.25h10.1v2.20h-10.1zM129.6 73.25h10.1v1.20h-10.1zM119.8 74.25h10.1v1.20h-10.1zM326.1 74.25h10.1v1.20h-10.1zM149.3 78.25h10.1v1.20h-10.1zM267.1 85.25h10.1v1.20h-10.1zM345.7 86.25h10.1v1.20h-10.1zM188.6 95.25h10.1v2.20h-10.1zM247.5 104.25h10.1v1.20h-10.1zM237.7 105.25h10.1v1.20h-10.1zM149.3 107.25h10.1v2.20h-10.1zM335.9 107.25h10.1v2.20h-10.1zM237.7 109.25h10.1v2.20h-10.1zM257.3 119.25h10.1v2.20h-10.1zM335.9 141.25h10.1v2.20h-10.1zM129.6 144.25h10.1v1.20h-10.1zM218.0 149.25h10.1v2.20h-10.1zM149.3 165.25h10.1v1.20h-10.1zM129.6 166.25h10.1v1.20h-10.1zM257.3 186.25h10.1v2.20h-10.1zM110.0 188.25h10.1v2.20h-10.1zM168.9 191.25h10.1v1.20h-10.1zM129.6 194.25h10.1v1.20h-10.1zM188.6 194.25h10.1v1.20h-10.1zM198.4 196.25h10.1v1.20h-10.1zM218.0 196.25h10.1v1.20h-10.1zM375.2 197.25h10.1v1.20h-10.1zM473.4 197.25h10.1v1.20h-10.1zM365.3 204.25h10.1v1.20h-10.1zM414.5 207.25h10.1v2.20h-10.1z"/>
<path fill="#101018" d="M188.6 41.25h10.1v2.20h-10.1zM326.1 41.25h10.1v2.20h-10.1zM365.3 41.25h10.1v5.20h-10.1zM110.0 43.25h10.1v1.20h-10.1zM178.7 44.25h10.1v2.20h-10.1zM227.9 44.25h10.1v2.20h-10.1zM296.6 44.25h10.1v2.20h-10.1zM316.2 47.25h10.1v1.20h-10.1zM345.7 47.25h10.1v2.20h-10.1zM365.3 47.25h10.1v1.20h-10.1zM434.1 47.25h10.1v1.20h-10.1zM218.0 48.25h10.1v1.20h-10.1zM267.1 48.25h10.1v1.20h-10.1zM296.6 48.25h10.1v1.20h-10.1zM424.3 48.25h10.1v5.20h-10.1zM237.7 49.25h10.1v3.20h-10.1zM326.1 49.25h10.1v2.20h-10.1zM110.0 51.25h10.1v1.20h-10.1zM149.3 51.25h10.1v1.20h-10.1zM178.7 51.25h10.1v1.20h-10.1zM316.2 51.25h10.1v2.20h-10.1zM218.0 54.25h10.1v1.20h-10.1zM237.7 54.25h10.1v1.20h-10.1zM267.1 61.25h10.1v1.20h-10.1zM316.2 62.25h10.1v2.20h-10.1zM247.5 64.25h10.1v1.20h-10.1zM159.1 65.25h10.1v1.20h-10.1zM218.0 65.25h10.1v1.20h-10.1zM237.7 65.25h10.1v1.20h-10.1zM365.3 65.25h10.1v1.20h-10.1zM375.2 65.25h10.1v1.20h-10.1zM434.1 65.25h10.1v2.20h-10.1zM149.3 67.25h10.1v1.20h-10.1zM365.3 67.25h10.1v1.20h-10.1zM414.5 67.25h10.1v1.20h-10.1zM424.3 68.25h10.1v2.20h-10.1zM178.7 70.25h10.1v1.20h-10.1zM355.5 73.25h10.1v1.20h-10.1zM355.5 75.25h10.1v2.20h-10.1zM375.2 79.25h10.1v1.20h-10.1zM306.4 88.25h10.1v1.20h-10.1zM316.2 88.25h10.1v1.20h-10.1zM159.1 89.25h10.1v2.20h-10.1zM365.3 93.25h10.1v2.20h-10.1zM198.4 99.25h10.1v2.20h-10.1zM296.6 99.25h10.1v2.20h-10.1zM326.1 99.25h10.1v3.20h-10.1zM188.6 102.25h10.1v1.20h-10.1zM257.3 102.25h10.1v1.20h-10.1zM267.1 102.25h10.1v2.20h-10.1zM286.8 102.25h10.1v1.20h-10.1zM159.1 103.25h10.1v1.20h-10.1zM208.2 103.25h10.1v1.20h-10.1zM345.7 103.25h10.1v2.20h-10.1zM335.9 104.25h10.1v1.20h-10.1zM188.6 105.25h10.1v1.20h-10.1zM159.1 106.25h10.1v1.20h-10.1zM345.7 106.25h10.1v1.20h-10.1zM355.5 106.25h10.1v3.20h-10.1zM267.1 109.25h10.1v2.20h-10.1zM355.5 111.25h10.1v2.20h-10.1zM218.0 113.25h10.1v1.20h-10.1zM345.7 113.25h10.1v1.20h-10.1zM365.3 113.25h10.1v1.20h-10.1zM168.9 114.25h10.1v1.20h-10.1zM178.7 114.25h10.1v1.20h-10.1zM188.6 114.25h10.1v1.20h-10.1zM257.3 114.25h10.1v1.20h-10.1zM277.0 114.25h10.1v2.20h-10.1zM218.0 115.25h10.1v1.20h-10.1zM168.9 118.25h10.1v1.20h-10.1zM218.0 118.25h10.1v1.20h-10.1zM178.7 119.25h10.1v2.20h-10.1zM326.1 121.25h10.1v1.20h-10.1zM355.5 124.25h10.1v2.20h-10.1zM218.0 127.25h10.1v1.20h-10.1zM267.1 128.25h10.1v2.20h-10.1zM365.3 128.25h10.1v2.20h-10.1zM385.0 128.25h10.1v2.20h-10.1zM394.8 128.25h10.1v4.20h-10.1zM267.1 134.25h10.1v2.20h-10.1zM237.7 136.25h10.1v2.20h-10.1zM227.9 138.25h10.1v1.20h-10.1zM326.1 138.25h10.1v1.20h-10.1zM375.2 138.25h10.1v1.20h-10.1zM296.6 141.25h10.1v2.20h-10.1zM237.7 143.25h10.1v1.20h-10.1zM267.1 143.25h10.1v1.20h-10.1zM326.1 145.25h10.1v1.20h-10.1zM208.2 146.25h10.1v3.20h-10.1zM237.7 146.25h10.1v8.20h-10.1zM257.3 146.25h10.1v2.20h-10.1zM345.7 146.25h10.1v2.20h-10.1zM267.1 149.25h10.1v2.20h-10.1zM355.5 149.25h10.1v2.20h-10.1zM286.8 153.25h10.1v1.20h-10.1zM306.4 153.25h10.1v3.20h-10.1zM345.7 153.25h10.1v1.20h-10.1zM355.5 154.25h10.1v2.20h-10.1zM286.8 156.25h10.1v2.20h-10.1zM365.3 156.25h10.1v2.20h-10.1zM306.4 158.25h10.1v1.20h-10.1zM326.1 159.25h10.1v1.20h-10.1zM355.5 159.25h10.1v1.20h-10.1zM306.4 160.25h10.1v2.20h-10.1zM345.7 160.25h10.1v2.20h-10.1zM296.6 164.25h10.1v1.20h-10.1zM345.7 165.25h10.1v1.20h-10.1zM355.5 166.25h10.1v1.20h-10.1zM345.7 167.25h10.1v2.20h-10.1zM129.6 169.25h10.1v2.20h-10.1zM227.9 169.25h10.1v2.20h-10.1zM286.8 169.25h10.1v2.20h-10.1zM306.4 169.25h10.1v2.20h-10.1zM110.0 174.25h10.1v1.20h-10.1zM218.0 174.25h10.1v1.20h-10.1zM227.9 174.25h10.1v1.20h-10.1zM247.5 174.25h10.1v1.20h-10.1zM306.4 174.25h10.1v1.20h-10.1zM129.6 179.25h10.1v1.20h-10.1zM139.5 179.25h10.1v1.20h-10.1zM208.2 179.25h10.1v1.20h-10.1zM345.7 179.25h10.1v1.20h-10.1zM267.1 183.25h10.1v1.20h-10.1zM139.5 184.25h10.1v2.20h-10.1zM237.7 184.25h10.1v2.20h-10.1zM316.2 184.25h10.1v2.20h-10.1zM365.3 184.25h10.1v2.20h-10.1zM227.9 190.25h10.1v1.20h-10.1zM237.7 190.25h10.1v1.20h-10.1zM365.3 190.25h10.1v1.20h-10.1zM296.6 191.25h10.1v1.20h-10.1zM149.3 192.25h10.1v1.20h-10.1zM159.1 192.25h10.1v1.20h-10.1zM345.7 192.25h10.1v1.20h-10.1zM237.7 193.25h10.1v1.20h-10.1zM159.1 194.25h10.1v1.20h-10.1zM267.1 194.25h10.1v1.20h-10.1zM296.6 194.25h10.1v1.20h-10.1zM375.2 194.25h10.1v1.20h-10.1zM237.7 195.25h10.1v1.20h-10.1zM306.4 195.25h10.1v1.20h-10.1zM316.2 196.25h10.1v1.20h-10.1zM375.2 198.25h10.1v2.20h-10.1zM434.1 198.25h10.1v2.20h-10.1zM473.4 198.25h10.1v2.20h-10.1zM296.6 200.25h10.1v2.20h-10.1zM345.7 200.25h10.1v1.20h-10.1zM453.7 202.25h10.1v1.20h-10.1zM345.7 203.25h10.1v1.20h-10.1zM296.6 204.25h10.1v1.20h-10.1zM306.4 204.25h10.1v1.20h-10.1zM198.4 205.25h10.1v2.20h-10.1zM208.2 205.25h10.1v4.20h-10.1zM375.2 207.25h10.1v2.20h-10.1zM443.9 207.25h10.1v2.20h-10.1zM257.3 209.25h10.1v2.20h-10.1zM296.6 209.25h10.1v2.20h-10.1zM208.2 211.25h10.1v1.20h-10.1zM247.5 211.25h10.1v1.20h-10.1zM277.0 215.25h10.1v2.20h-10.1zM237.7 217.25h10.1v2.20h-10.1zM267.1 217.25h10.1v2.20h-10.1zM453.7 217.25h10.1v2.20h-10.1zM119.8 223.25h10.1v1.20h-10.1zM227.9 223.25h10.1v1.20h-10.1zM306.4 223.25h10.1v1.20h-10.1zM326.1 223.25h10.1v3.20h-10.1zM345.7 223.25h10.1v1.20h-10.1zM355.5 223.25h10.1v1.20h-10.1zM375.2 223.25h10.1v1.20h-10.1zM257.3 226.25h10.1v2.20h-10.1zM355.5 226.25h10.1v2.20h-10.1zM375.2 226.25h10.1v2.20h-10.1zM394.8 226.25h10.1v2.20h-10.1zM424.3 226.25h10.1v2.20h-10.1zM326.1 228.25h10.1v1.20h-10.1zM335.9 228.25h10.1v1.20h-10.1zM365.3 228.25h10.1v1.20h-10.1zM434.1 229.25h10.1v1.20h-10.1zM119.8 230.25h10.1v1.20h-10.1zM326.1 230.25h10.1v1.20h-10.1zM443.9 230.25h10.1v1.20h-10.1zM473.4 230.25h10.1v1.20h-10.1z"/>
<path fill="#102068" d="M198.4 41.25h10.1v2.20h-10.1zM443.9 44.25h10.1v2.20h-10.1zM443.9 49.25h10.1v2.20h-10.1zM443.9 52.25h10.1v1.20h-10.1zM414.5 54.25h10.1v1.20h-10.1zM443.9 54.25h10.1v1.20h-10.1zM473.4 57.25h10.1v2.20h-10.1zM443.9 65.25h10.1v1.20h-10.1zM385.0 74.25h10.1v3.20h-10.1zM434.1 74.25h10.1v1.20h-10.1zM178.7 78.25h10.1v1.20h-10.1zM424.3 79.25h10.1v1.20h-10.1zM208.2 83.25h10.1v2.20h-10.1zM394.8 83.25h10.1v2.20h-10.1zM257.3 85.25h10.1v1.20h-10.1zM218.0 86.25h10.1v1.20h-10.1zM424.3 88.25h10.1v1.20h-10.1zM326.1 91.25h10.1v2.20h-10.1zM404.6 102.25h10.1v1.20h-10.1zM414.5 105.25h10.1v1.20h-10.1zM443.9 106.25h10.1v1.20h-10.1zM149.3 115.25h10.1v1.20h-10.1zM394.8 115.25h10.1v1.20h-10.1zM424.3 118.25h10.1v1.20h-10.1zM385.0 119.25h10.1v2.20h-10.1zM178.7 127.25h10.1v1.20h-10.1zM453.7 138.25h10.1v1.20h-10.1zM434.1 140.25h10.1v1.20h-10.1zM473.4 140.25h10.1v1.20h-10.1zM188.6 143.25h10.1v2.20h-10.1zM473.4 144.25h10.1v1.20h-10.1zM198.4 145.25h10.1v1.20h-10.1zM375.2 145.25h10.1v1.20h-10.1zM385.0 146.25h10.1v2.20h-10.1zM424.3 146.25h10.1v2.20h-10.1zM443.9 149.25h10.1v2.20h-10.1zM385.0 151.25h10.1v2.20h-10.1zM385.0 159.25h10.1v1.20h-10.1zM443.9 159.25h10.1v1.20h-10.1zM335.9 163.25h10.1v1.20h-10.1zM424.3 169.25h10.1v2.20h-10.1zM453.7 171.25h10.1v2.20h-10.1zM463.6 175.25h10.1v2.20h-10.1zM159.1 181.25h10.1v2.20h-10.1zM385.0 184.25h10.1v2.20h-10.1zM443.9 191.25h10.1v1.20h-10.1zM385.0 193.25h10.1v1.20h-10.1zM385.0 196.25h10.1v1.20h-10.1zM110.0 197.25h10.1v1.20h-10.1zM149.3 197.25h10.1v1.20h-10.1zM257.3 197.25h10.1v1.20h-10.1zM227.9 202.25h10.1v1.20h-10.1zM257.3 202.25h10.1v1.20h-10.1zM188.6 207.25h10.1v2.20h-10.1zM129.6 209.25h10.1v2.20h-10.1zM385.0 211.25h10.1v1.20h-10.1zM119.8 215.25h10.1v2.20h-10.1zM335.9 217.25h10.1v2.20h-10.1zM237.7 223.25h10.1v1.20h-10.1zM267.1 224.25h10.1v2.20h-10.1z"/>
<path fill="#101038" d="M208.2 41.25h10.1v2.20h-10.1zM188.6 47.25h10.1v1.20h-10.1zM198.4 48.25h10.1v1.20h-10.1zM414.5 49.25h10.1v2.20h-10.1zM375.2 55.25h10.1v2.20h-10.1zM188.6 59.25h10.1v1.20h-10.1zM375.2 60.25h10.1v1.20h-10.1zM414.5 60.25h10.1v1.20h-10.1zM424.3 62.25h10.1v2.20h-10.1zM110.0 65.25h10.1v1.20h-10.1zM198.4 65.25h10.1v1.20h-10.1zM375.2 66.25h10.1v2.20h-10.1zM257.3 75.25h10.1v2.20h-10.1zM443.9 75.25h10.1v2.20h-10.1zM424.3 77.25h10.1v1.20h-10.1zM375.2 80.25h10.1v1.20h-10.1zM335.9 82.25h10.1v1.20h-10.1zM286.8 85.25h10.1v1.20h-10.1zM335.9 85.25h10.1v1.20h-10.1zM326.1 86.25h10.1v1.20h-10.1zM355.5 86.25h10.1v1.20h-10.1zM443.9 86.25h10.1v1.20h-10.1zM375.2 89.25h10.1v2.20h-10.1zM365.3 91.25h10.1v2.20h-10.1zM198.4 93.25h10.1v2.20h-10.1zM198.4 97.25h10.1v2.20h-10.1zM375.2 97.25h10.1v2.20h-10.1zM296.6 101.25h10.1v1.20h-10.1zM375.2 101.25h10.1v1.20h-10.1zM335.9 102.25h10.1v1.20h-10.1zM198.4 106.25h10.1v1.20h-10.1zM375.2 111.25h10.1v2.20h-10.1zM277.0 113.25h10.1v1.20h-10.1zM149.3 114.25h10.1v1.20h-10.1zM159.1 114.25h10.1v2.20h-10.1zM159.1 121.25h10.1v1.20h-10.1zM178.7 122.25h10.1v4.20h-10.1zM188.6 122.25h10.1v2.20h-10.1zM394.8 124.25h10.1v2.20h-10.1zM208.2 127.25h10.1v1.20h-10.1zM463.6 130.25h10.1v2.20h-10.1zM375.2 132.25h10.1v2.20h-10.1zM188.6 139.25h10.1v1.20h-10.1zM375.2 141.25h10.1v2.20h-10.1zM385.0 141.25h10.1v2.20h-10.1zM198.4 154.25h10.1v2.20h-10.1zM375.2 156.25h10.1v2.20h-10.1zM159.1 160.25h10.1v2.20h-10.1zM326.1 160.25h10.1v2.20h-10.1zM375.2 160.25h10.1v2.20h-10.1zM326.1 163.25h10.1v1.20h-10.1zM375.2 165.25h10.1v1.20h-10.1zM335.9 166.25h10.1v1.20h-10.1zM453.7 166.25h10.1v1.20h-10.1zM296.6 167.25h10.1v2.20h-10.1zM375.2 167.25h10.1v2.20h-10.1zM375.2 171.25h10.1v2.20h-10.1zM453.7 174.25h10.1v1.20h-10.1zM247.5 175.25h10.1v2.20h-10.1zM355.5 175.25h10.1v2.20h-10.1zM375.2 175.25h10.1v2.20h-10.1zM326.1 180.25h10.1v1.20h-10.1zM335.9 183.25h10.1v1.20h-10.1zM394.8 184.25h10.1v2.20h-10.1zM335.9 188.25h10.1v2.20h-10.1zM453.7 188.25h10.1v2.20h-10.1zM326.1 190.25h10.1v1.20h-10.1zM385.0 191.25h10.1v1.20h-10.1zM453.7 191.25h10.1v1.20h-10.1zM326.1 193.25h10.1v1.20h-10.1zM453.7 194.25h10.1v1.20h-10.1zM335.9 196.25h10.1v1.20h-10.1zM365.3 196.25h10.1v1.20h-10.1zM453.7 196.25h10.1v1.20h-10.1zM208.2 197.25h10.1v1.20h-10.1zM237.7 197.25h10.1v1.20h-10.1zM316.2 197.25h10.1v1.20h-10.1zM129.6 198.25h10.1v2.20h-10.1zM139.5 198.25h10.1v2.20h-10.1zM267.1 200.25h10.1v1.20h-10.1zM385.0 200.25h10.1v1.20h-10.1zM227.9 203.25h10.1v1.20h-10.1zM394.8 203.25h10.1v1.20h-10.1zM267.1 204.25h10.1v1.20h-10.1zM286.8 207.25h10.1v2.20h-10.1zM198.4 211.25h10.1v1.20h-10.1zM218.0 211.25h10.1v1.20h-10.1zM316.2 211.25h10.1v1.20h-10.1zM355.5 211.25h10.1v1.20h-10.1zM345.7 212.25h10.1v1.20h-10.1zM178.7 215.25h10.1v2.20h-10.1zM306.4 215.25h10.1v2.20h-10.1zM119.8 217.25h10.1v4.20h-10.1zM198.4 219.25h10.1v2.20h-10.1zM316.2 219.25h10.1v2.20h-10.1zM168.9 223.25h10.1v1.20h-10.1zM119.8 224.25h10.1v2.20h-10.1zM227.9 226.25h10.1v2.20h-10.1zM335.9 226.25h10.1v2.20h-10.1zM414.5 228.25h10.1v1.20h-10.1zM335.9 229.25h10.1v1.20h-10.1zM168.9 230.25h10.1v1.20h-10.1z"/>
<path fill="#484020" d="M227.9 41.25h10.1v2.20h-10.1zM335.9 41.25h10.1v2.20h-10.1zM345.7 46.25h10.1v1.20h-10.1zM277.0 47.25h10.1v1.20h-10.1zM326.1 53.25h10.1v1.20h-10.1zM218.0 55.25h10.1v2.20h-10.1zM247.5 62.25h10.1v2.20h-10.1zM316.2 67.25h10.1v1.20h-10.1zM119.8 70.25h10.1v1.20h-10.1zM355.5 70.25h10.1v1.20h-10.1zM345.7 73.25h10.1v1.20h-10.1zM286.8 97.25h10.1v2.20h-10.1zM159.1 99.25h10.1v2.20h-10.1zM316.2 106.25h10.1v1.20h-10.1zM326.1 119.25h10.1v2.20h-10.1zM188.6 145.25h10.1v1.20h-10.1zM267.1 160.25h10.1v2.20h-10.1zM208.2 166.25h10.1v1.20h-10.1zM247.5 192.25h10.1v1.20h-10.1zM326.1 200.25h10.1v1.20h-10.1zM404.6 200.25h10.1v1.20h-10.1zM463.6 205.25h10.1v2.20h-10.1zM247.5 207.25h10.1v2.20h-10.1zM463.6 209.25h10.1v2.20h-10.1z"/>
<path fill="#101028" d="M247.5 41.25h10.1v2.20h-10.1zM375.2 43.25h10.1v1.20h-10.1zM110.0 44.25h10.1v3.20h-10.1zM208.2 48.25h10.1v1.20h-10.1zM414.5 48.25h10.1v1.20h-10.1zM208.2 52.25h10.1v2.20h-10.1zM208.2 59.25h10.1v1.20h-10.1zM375.2 59.25h10.1v1.20h-10.1zM188.6 62.25h10.1v2.20h-10.1zM375.2 71.25h10.1v1.20h-10.1zM375.2 74.25h10.1v1.20h-10.1zM208.2 75.25h10.1v3.20h-10.1zM375.2 77.25h10.1v2.20h-10.1zM188.6 79.25h10.1v1.20h-10.1zM355.5 80.25h10.1v2.20h-10.1zM335.9 81.25h10.1v1.20h-10.1zM286.8 82.25h10.1v1.20h-10.1zM335.9 83.25h10.1v2.20h-10.1zM355.5 83.25h10.1v2.20h-10.1zM306.4 85.25h10.1v1.20h-10.1zM198.4 86.25h10.1v1.20h-10.1zM218.0 87.25h10.1v2.20h-10.1zM257.3 88.25h10.1v1.20h-10.1zM355.5 88.25h10.1v1.20h-10.1zM375.2 93.25h10.1v2.20h-10.1zM208.2 97.25h10.1v2.20h-10.1zM237.7 101.25h10.1v1.20h-10.1zM129.6 102.25h10.1v1.20h-10.1zM326.1 102.25h10.1v1.20h-10.1zM365.3 102.25h10.1v1.20h-10.1zM375.2 104.25h10.1v1.20h-10.1zM208.2 105.25h10.1v1.20h-10.1zM178.7 111.25h10.1v2.20h-10.1zM198.4 113.25h10.1v1.20h-10.1zM296.6 114.25h10.1v1.20h-10.1zM149.3 118.25h10.1v1.20h-10.1zM208.2 119.25h10.1v2.20h-10.1zM159.1 122.25h10.1v2.20h-10.1zM326.1 122.25h10.1v2.20h-10.1zM227.9 127.25h10.1v1.20h-10.1zM257.3 128.25h10.1v2.20h-10.1zM375.2 134.25h10.1v2.20h-10.1zM227.9 136.25h10.1v2.20h-10.1zM355.5 136.25h10.1v2.20h-10.1zM375.2 139.25h10.1v1.20h-10.1zM227.9 144.25h10.1v1.20h-10.1zM375.2 144.25h10.1v1.20h-10.1zM208.2 145.25h10.1v1.20h-10.1zM267.1 145.25h10.1v1.20h-10.1zM198.4 153.25h10.1v1.20h-10.1zM296.6 154.25h10.1v2.20h-10.1zM355.5 160.25h10.1v3.20h-10.1zM326.1 162.25h10.1v1.20h-10.1zM316.2 164.25h10.1v1.20h-10.1zM365.3 164.25h10.1v1.20h-10.1zM296.6 165.25h10.1v1.20h-10.1zM159.1 175.25h10.1v2.20h-10.1zM335.9 175.25h10.1v4.20h-10.1zM237.7 179.25h10.1v1.20h-10.1zM159.1 180.25h10.1v1.20h-10.1zM237.7 181.25h10.1v2.20h-10.1zM365.3 183.25h10.1v1.20h-10.1zM227.9 184.25h10.1v2.20h-10.1zM306.4 194.25h10.1v1.20h-10.1zM316.2 194.25h10.1v1.20h-10.1zM227.9 198.25h10.1v2.20h-10.1zM316.2 198.25h10.1v2.20h-10.1zM110.0 203.25h10.1v1.20h-10.1zM159.1 203.25h10.1v1.20h-10.1zM316.2 205.25h10.1v2.20h-10.1zM198.4 207.25h10.1v2.20h-10.1zM306.4 211.25h10.1v1.20h-10.1zM149.3 212.25h10.1v1.20h-10.1zM198.4 212.25h10.1v1.20h-10.1zM355.5 212.25h10.1v1.20h-10.1zM306.4 213.25h10.1v2.20h-10.1zM365.3 213.25h10.1v2.20h-10.1zM345.7 215.25h10.1v2.20h-10.1zM198.4 217.25h10.1v2.20h-10.1zM345.7 219.25h10.1v2.20h-10.1zM306.4 221.25h10.1v2.20h-10.1zM110.0 223.25h10.1v1.20h-10.1zM178.7 223.25h10.1v1.20h-10.1zM286.8 223.25h10.1v1.20h-10.1zM119.8 226.25h10.1v3.20h-10.1zM139.5 226.25h10.1v2.20h-10.1zM237.7 226.25h10.1v2.20h-10.1zM277.0 226.25h10.1v2.20h-10.1zM306.4 226.25h10.1v2.20h-10.1zM345.7 228.25h10.1v2.20h-10.1zM306.4 229.25h10.1v1.20h-10.1zM316.2 229.25h10.1v1.20h-10.1zM178.7 230.25h10.1v1.20h-10.1zM237.7 230.25h10.1v1.20h-10.1zM247.5 230.25h10.1v1.20h-10.1zM286.8 230.25h10.1v1.20h-10.1zM424.3 231.25h10.1v0.70h-10.1z"/>
<path fill="#403820" d="M257.3 41.25h10.1v2.20h-10.1zM218.0 46.25h10.1v1.20h-10.1zM277.0 48.25h10.1v1.20h-10.1zM286.8 48.25h10.1v1.20h-10.1zM316.2 57.25h10.1v2.20h-10.1zM326.1 59.25h10.1v1.20h-10.1zM218.0 60.25h10.1v1.20h-10.1zM345.7 61.25h10.1v1.20h-10.1zM355.5 61.25h10.1v1.20h-10.1zM149.3 62.25h10.1v2.20h-10.1zM355.5 67.25h10.1v1.20h-10.1zM129.6 77.25h10.1v1.20h-10.1zM267.1 77.25h10.1v1.20h-10.1zM168.9 82.25h10.1v1.20h-10.1zM168.9 85.25h10.1v1.20h-10.1zM316.2 95.25h10.1v2.20h-10.1zM247.5 97.25h10.1v2.20h-10.1zM345.7 99.25h10.1v2.20h-10.1zM139.5 102.25h10.1v1.20h-10.1zM188.6 103.25h10.1v1.20h-10.1zM149.3 111.25h10.1v2.20h-10.1zM159.1 118.25h10.1v1.20h-10.1zM247.5 124.25h10.1v2.20h-10.1zM365.3 140.25h10.1v1.20h-10.1zM227.9 165.25h10.1v1.20h-10.1zM198.4 166.25h10.1v1.20h-10.1zM139.5 174.25h10.1v1.20h-10.1zM277.0 175.25h10.1v2.20h-10.1zM247.5 181.25h10.1v2.20h-10.1zM355.5 184.25h10.1v2.20h-10.1zM139.5 195.25h10.1v1.20h-10.1zM365.3 205.25h10.1v2.20h-10.1zM365.3 212.25h10.1v1.20h-10.1zM208.2 229.25h10.1v1.20h-10.1zM463.6 230.25h10.1v1.20h-10.1z"/>
<path fill="#606020" d="M277.0 41.25h10.1v2.20h-10.1zM159.1 43.25h10.1v1.20h-10.1zM168.9 48.25h10.1v1.20h-10.1zM110.0 49.25h10.1v2.20h-10.1zM218.0 52.25h10.1v1.20h-10.1zM129.6 54.25h10.1v1.20h-10.1zM306.4 55.25h10.1v2.20h-10.1zM345.7 55.25h10.1v2.20h-10.1zM326.1 57.25h10.1v2.20h-10.1zM139.5 59.25h10.1v1.20h-10.1zM119.8 60.25h10.1v1.20h-10.1zM277.0 61.25h10.1v4.20h-10.1zM227.9 62.25h10.1v2.20h-10.1zM257.3 62.25h10.1v2.20h-10.1zM296.6 67.25h10.1v1.20h-10.1zM306.4 67.25h10.1v1.20h-10.1zM237.7 70.25h10.1v1.20h-10.1zM345.7 70.25h10.1v1.20h-10.1zM119.8 71.25h10.1v1.20h-10.1zM218.0 73.25h10.1v2.20h-10.1zM286.8 75.25h10.1v2.20h-10.1zM316.2 75.25h10.1v2.20h-10.1zM345.7 75.25h10.1v2.20h-10.1zM306.4 77.25h10.1v1.20h-10.1zM335.9 77.25h10.1v1.20h-10.1zM119.8 78.25h10.1v1.20h-10.1zM159.1 78.25h10.1v1.20h-10.1zM168.9 78.25h10.1v1.20h-10.1zM267.1 78.25h10.1v1.20h-10.1zM267.1 80.25h10.1v1.20h-10.1zM277.0 80.25h10.1v1.20h-10.1zM365.3 80.25h10.1v1.20h-10.1zM119.8 81.25h10.1v1.20h-10.1zM345.7 82.25h10.1v1.20h-10.1zM119.8 85.25h10.1v1.20h-10.1zM188.6 85.25h10.1v1.20h-10.1zM267.1 87.25h10.1v1.20h-10.1zM119.8 89.25h10.1v2.20h-10.1zM119.8 97.25h10.1v2.20h-10.1zM227.9 97.25h10.1v4.20h-10.1zM119.8 103.25h10.1v1.20h-10.1zM218.0 104.25h10.1v1.20h-10.1zM335.9 105.25h10.1v1.20h-10.1zM237.7 107.25h10.1v2.20h-10.1zM365.3 109.25h10.1v2.20h-10.1zM237.7 115.25h10.1v1.20h-10.1zM365.3 115.25h10.1v1.20h-10.1zM247.5 119.25h10.1v2.20h-10.1zM277.0 119.25h10.1v2.20h-10.1zM168.9 121.25h10.1v1.20h-10.1zM286.8 122.25h10.1v2.20h-10.1zM277.0 124.25h10.1v2.20h-10.1zM129.6 127.25h10.1v1.20h-10.1zM247.5 127.25h10.1v1.20h-10.1zM277.0 127.25h10.1v1.20h-10.1zM168.9 128.25h10.1v2.20h-10.1zM119.8 130.25h10.1v2.20h-10.1zM218.0 130.25h10.1v2.20h-10.1zM326.1 143.25h10.1v1.20h-10.1zM168.9 149.25h10.1v2.20h-10.1zM188.6 151.25h10.1v2.20h-10.1zM286.8 151.25h10.1v2.20h-10.1zM227.9 154.25h10.1v2.20h-10.1zM139.5 156.25h10.1v2.20h-10.1zM218.0 156.25h10.1v2.20h-10.1zM277.0 156.25h10.1v2.20h-10.1zM198.4 160.25h10.1v2.20h-10.1zM257.3 162.25h10.1v1.20h-10.1zM277.0 162.25h10.1v1.20h-10.1zM267.1 163.25h10.1v1.20h-10.1zM110.0 164.25h10.1v1.20h-10.1zM208.2 164.25h10.1v1.20h-10.1zM198.4 165.25h10.1v1.20h-10.1zM139.5 166.25h10.1v1.20h-10.1zM316.2 171.25h10.1v2.20h-10.1zM139.5 181.25h10.1v3.20h-10.1zM306.4 183.25h10.1v1.20h-10.1zM178.7 184.25h10.1v2.20h-10.1zM286.8 188.25h10.1v2.20h-10.1zM119.8 190.25h10.1v1.20h-10.1zM208.2 190.25h10.1v1.20h-10.1zM218.0 190.25h10.1v1.20h-10.1zM188.6 191.25h10.1v1.20h-10.1zM198.4 192.25h10.1v1.20h-10.1zM257.3 192.25h10.1v1.20h-10.1zM110.0 193.25h10.1v1.20h-10.1zM208.2 193.25h10.1v1.20h-10.1zM247.5 196.25h10.1v1.20h-10.1zM424.3 203.25h10.1v1.20h-10.1zM404.6 209.25h10.1v2.20h-10.1zM227.9 211.25h10.1v1.20h-10.1zM424.3 213.25h10.1v2.20h-10.1zM227.9 215.25h10.1v2.20h-10.1zM326.1 215.25h10.1v2.20h-10.1zM443.9 215.25h10.1v2.20h-10.1zM385.0 221.25h10.1v2.20h-10.1zM443.9 228.25h10.1v1.20h-10.1z"/>
<path fill="#585820" d="M286.8 41.25h10.1v2.20h-10.1zM218.0 43.25h10.1v1.20h-10.1zM237.7 43.25h10.1v1.20h-10.1zM286.8 49.25h10.1v2.20h-10.1zM247.5 52.25h10.1v1.20h-10.1zM237.7 53.25h10.1v1.20h-10.1zM267.1 53.25h10.1v1.20h-10.1zM345.7 53.25h10.1v1.20h-10.1zM267.1 55.25h10.1v2.20h-10.1zM345.7 62.25h10.1v2.20h-10.1zM168.9 64.25h10.1v1.20h-10.1zM237.7 64.25h10.1v1.20h-10.1zM119.8 66.25h10.1v1.20h-10.1zM316.2 66.25h10.1v1.20h-10.1zM110.0 67.25h10.1v1.20h-10.1zM355.5 68.25h10.1v2.20h-10.1zM110.0 72.25h10.1v1.20h-10.1zM168.9 73.25h10.1v1.20h-10.1zM218.0 78.25h10.1v1.20h-10.1zM326.1 78.25h10.1v1.20h-10.1zM149.3 80.25h10.1v1.20h-10.1zM286.8 80.25h10.1v1.20h-10.1zM227.9 85.25h10.1v2.20h-10.1zM345.7 87.25h10.1v1.20h-10.1zM267.1 88.25h10.1v1.20h-10.1zM218.0 95.25h10.1v2.20h-10.1zM237.7 97.25h10.1v2.20h-10.1zM277.0 99.25h10.1v2.20h-10.1zM178.7 101.25h10.1v1.20h-10.1zM218.0 101.25h10.1v1.20h-10.1zM110.0 103.25h10.1v1.20h-10.1zM345.7 105.25h10.1v1.20h-10.1zM139.5 106.25h10.1v1.20h-10.1zM286.8 106.25h10.1v1.20h-10.1zM159.1 107.25h10.1v2.20h-10.1zM257.3 116.25h10.1v2.20h-10.1zM277.0 128.25h10.1v2.20h-10.1zM218.0 139.25h10.1v1.20h-10.1zM326.1 139.25h10.1v1.20h-10.1zM316.2 148.25h10.1v1.20h-10.1zM247.5 154.25h10.1v2.20h-10.1zM227.9 158.25h10.1v1.20h-10.1zM218.0 166.25h10.1v1.20h-10.1zM267.1 173.25h10.1v1.20h-10.1zM316.2 173.25h10.1v1.20h-10.1zM110.0 177.25h10.1v2.20h-10.1zM355.5 183.25h10.1v1.20h-10.1zM286.8 186.25h10.1v2.20h-10.1zM247.5 193.25h10.1v1.20h-10.1zM168.9 195.25h10.1v1.20h-10.1zM178.7 195.25h10.1v1.20h-10.1zM365.3 197.25h10.1v1.20h-10.1zM443.9 219.25h10.1v2.20h-10.1zM355.5 229.25h10.1v1.20h-10.1z"/>
<path fill="#282818" d="M296.6 41.25h10.1v2.20h-10.1zM237.7 44.25h10.1v2.20h-10.1zM267.1 46.25h10.1v1.20h-10.1zM424.3 46.25h10.1v1.20h-10.1zM227.9 47.25h10.1v1.20h-10.1zM335.9 47.25h10.1v1.20h-10.1zM139.5 48.25h10.1v1.20h-10.1zM159.1 49.25h10.1v2.20h-10.1zM247.5 49.25h10.1v2.20h-10.1zM129.6 51.25h10.1v1.20h-10.1zM139.5 51.25h10.1v1.20h-10.1zM257.3 51.25h10.1v1.20h-10.1zM227.9 54.25h10.1v1.20h-10.1zM119.8 59.25h10.1v1.20h-10.1zM277.0 59.25h10.1v1.20h-10.1zM355.5 59.25h10.1v1.20h-10.1zM345.7 60.25h10.1v1.20h-10.1zM296.6 61.25h10.1v1.20h-10.1zM335.9 62.25h10.1v2.20h-10.1zM267.1 66.25h10.1v1.20h-10.1zM178.7 67.25h10.1v3.20h-10.1zM218.0 68.25h10.1v3.20h-10.1zM267.1 68.25h10.1v2.20h-10.1zM434.1 68.25h10.1v2.20h-10.1zM188.6 70.25h10.1v1.20h-10.1zM414.5 70.25h10.1v1.20h-10.1zM267.1 71.25h10.1v1.20h-10.1zM355.5 72.25h10.1v1.20h-10.1zM247.5 73.25h10.1v1.20h-10.1zM149.3 77.25h10.1v1.20h-10.1zM159.1 79.25h10.1v1.20h-10.1zM247.5 80.25h10.1v1.20h-10.1zM188.6 88.25h10.1v1.20h-10.1zM316.2 91.25h10.1v4.20h-10.1zM335.9 91.25h10.1v2.20h-10.1zM286.8 101.25h10.1v1.20h-10.1zM149.3 102.25h10.1v1.20h-10.1zM277.0 102.25h10.1v2.20h-10.1zM316.2 102.25h10.1v1.20h-10.1zM178.7 103.25h10.1v1.20h-10.1zM159.1 104.25h10.1v1.20h-10.1zM306.4 106.25h10.1v1.20h-10.1zM335.9 106.25h10.1v1.20h-10.1zM345.7 107.25h10.1v2.20h-10.1zM129.6 113.25h10.1v1.20h-10.1zM159.1 113.25h10.1v1.20h-10.1zM267.1 113.25h10.1v1.20h-10.1zM110.0 114.25h10.1v1.20h-10.1zM296.6 115.25h10.1v1.20h-10.1zM237.7 118.25h10.1v1.20h-10.1zM277.0 118.25h10.1v1.20h-10.1zM286.8 118.25h10.1v1.20h-10.1zM306.4 118.25h10.1v1.20h-10.1zM296.6 119.25h10.1v2.20h-10.1zM267.1 121.25h10.1v1.20h-10.1zM296.6 124.25h10.1v2.20h-10.1zM326.1 124.25h10.1v2.20h-10.1zM345.7 126.25h10.1v1.20h-10.1zM296.6 130.25h10.1v2.20h-10.1zM296.6 134.25h10.1v2.20h-10.1zM385.0 134.25h10.1v2.20h-10.1zM237.7 138.25h10.1v1.20h-10.1zM296.6 139.25h10.1v1.20h-10.1zM119.8 141.25h10.1v2.20h-10.1zM267.1 144.25h10.1v1.20h-10.1zM296.6 144.25h10.1v1.20h-10.1zM227.9 145.25h10.1v3.20h-10.1zM355.5 145.25h10.1v1.20h-10.1zM119.8 146.25h10.1v3.20h-10.1zM139.5 146.25h10.1v2.20h-10.1zM345.7 148.25h10.1v1.20h-10.1zM188.6 149.25h10.1v2.20h-10.1zM286.8 149.25h10.1v2.20h-10.1zM178.7 153.25h10.1v1.20h-10.1zM335.9 153.25h10.1v1.20h-10.1zM119.8 156.25h10.1v2.20h-10.1zM110.0 162.25h10.1v1.20h-10.1zM237.7 164.25h10.1v1.20h-10.1zM277.0 169.25h10.1v2.20h-10.1zM355.5 171.25h10.1v2.20h-10.1zM119.8 175.25h10.1v2.20h-10.1zM218.0 175.25h10.1v2.20h-10.1zM355.5 180.25h10.1v1.20h-10.1zM247.5 184.25h10.1v2.20h-10.1zM257.3 184.25h10.1v2.20h-10.1zM355.5 186.25h10.1v2.20h-10.1zM257.3 191.25h10.1v1.20h-10.1zM326.1 191.25h10.1v1.20h-10.1zM159.1 193.25h10.1v1.20h-10.1zM335.9 197.25h10.1v1.20h-10.1zM443.9 198.25h10.1v2.20h-10.1zM335.9 201.25h10.1v1.20h-10.1zM267.1 205.25h10.1v2.20h-10.1zM227.9 207.25h10.1v2.20h-10.1zM443.9 212.25h10.1v1.20h-10.1zM453.7 215.25h10.1v2.20h-10.1zM375.2 217.25h10.1v2.20h-10.1zM355.5 221.25h10.1v2.20h-10.1zM375.2 224.25h10.1v2.20h-10.1zM473.4 226.25h10.1v2.20h-10.1zM198.4 230.25h10.1v1.20h-10.1zM208.2 231.25h10.1v0.70h-10.1z"/>
<path fill="#303020" d="M355.5 41.25h10.1v2.20h-10.1zM286.8 44.25h10.1v2.20h-10.1zM286.8 47.25h10.1v1.20h-10.1zM129.6 48.25h10.1v1.20h-10.1zM178.7 48.25h10.1v1.20h-10.1zM168.9 51.25h10.1v1.20h-10.1zM277.0 51.25h10.1v1.20h-10.1zM257.3 54.25h10.1v1.20h-10.1zM355.5 57.25h10.1v2.20h-10.1zM149.3 59.25h10.1v1.20h-10.1zM296.6 60.25h10.1v1.20h-10.1zM149.3 61.25h10.1v1.20h-10.1zM218.0 61.25h10.1v1.20h-10.1zM414.5 66.25h10.1v1.20h-10.1zM414.5 68.25h10.1v2.20h-10.1zM326.1 70.25h10.1v1.20h-10.1zM267.1 72.25h10.1v1.20h-10.1zM306.4 72.25h10.1v1.20h-10.1zM129.6 79.25h10.1v1.20h-10.1zM218.0 79.25h10.1v1.20h-10.1zM316.2 79.25h10.1v1.20h-10.1zM227.9 82.25h10.1v1.20h-10.1zM119.8 87.25h10.1v2.20h-10.1zM227.9 88.25h10.1v1.20h-10.1zM316.2 89.25h10.1v2.20h-10.1zM286.8 95.25h10.1v2.20h-10.1zM335.9 95.25h10.1v2.20h-10.1zM149.3 103.25h10.1v1.20h-10.1zM218.0 103.25h10.1v1.20h-10.1zM227.9 103.25h10.1v1.20h-10.1zM237.7 104.25h10.1v1.20h-10.1zM257.3 106.25h10.1v1.20h-10.1zM110.0 113.25h10.1v1.20h-10.1zM188.6 113.25h10.1v1.20h-10.1zM237.7 113.25h10.1v1.20h-10.1zM345.7 115.25h10.1v1.20h-10.1zM326.1 116.25h10.1v2.20h-10.1zM345.7 122.25h10.1v2.20h-10.1zM365.3 130.25h10.1v4.20h-10.1zM345.7 132.25h10.1v2.20h-10.1zM119.8 136.25h10.1v2.20h-10.1zM345.7 145.25h10.1v1.20h-10.1zM316.2 146.25h10.1v2.20h-10.1zM227.9 148.25h10.1v1.20h-10.1zM139.5 149.25h10.1v2.20h-10.1zM227.9 151.25h10.1v2.20h-10.1zM247.5 151.25h10.1v2.20h-10.1zM316.2 156.25h10.1v2.20h-10.1zM345.7 158.25h10.1v2.20h-10.1zM198.4 164.25h10.1v1.20h-10.1zM267.1 164.25h10.1v1.20h-10.1zM237.7 165.25h10.1v1.20h-10.1zM267.1 167.25h10.1v2.20h-10.1zM149.3 169.25h10.1v2.20h-10.1zM188.6 169.25h10.1v2.20h-10.1zM277.0 174.25h10.1v1.20h-10.1zM129.6 175.25h10.1v2.20h-10.1zM168.9 175.25h10.1v2.20h-10.1zM345.7 177.25h10.1v2.20h-10.1zM149.3 179.25h10.1v1.20h-10.1zM355.5 181.25h10.1v2.20h-10.1zM345.7 183.25h10.1v1.20h-10.1zM227.9 186.25h10.1v2.20h-10.1zM139.5 190.25h10.1v1.20h-10.1zM119.8 191.25h10.1v1.20h-10.1zM198.4 191.25h10.1v1.20h-10.1zM227.9 191.25h10.1v1.20h-10.1zM247.5 191.25h10.1v1.20h-10.1zM198.4 195.25h10.1v1.20h-10.1zM110.0 196.25h10.1v1.20h-10.1zM149.3 196.25h10.1v1.20h-10.1zM355.5 203.25h10.1v1.20h-10.1zM326.1 204.25h10.1v1.20h-10.1zM404.6 204.25h10.1v1.20h-10.1zM227.9 205.25h10.1v2.20h-10.1zM296.6 205.25h10.1v2.20h-10.1zM453.7 209.25h10.1v2.20h-10.1zM326.1 212.25h10.1v1.20h-10.1zM434.1 213.25h10.1v2.20h-10.1zM375.2 215.25h10.1v2.20h-10.1zM296.6 219.25h10.1v2.20h-10.1zM453.7 219.25h10.1v2.20h-10.1zM208.2 221.25h10.1v2.20h-10.1zM404.6 226.25h10.1v2.20h-10.1zM443.9 229.25h10.1v1.20h-10.1zM385.0 230.25h10.1v1.20h-10.1zM394.8 230.25h10.1v1.20h-10.1z"/>
<path fill="#081020" d="M375.2 41.25h10.1v2.20h-10.1zM149.3 44.25h10.1v2.20h-10.1zM208.2 44.25h10.1v2.20h-10.1zM218.0 44.25h10.1v2.20h-10.1zM326.1 44.25h10.1v2.20h-10.1zM375.2 44.25h10.1v2.20h-10.1zM434.1 44.25h10.1v2.20h-10.1zM110.0 47.25h10.1v1.20h-10.1zM178.7 47.25h10.1v1.20h-10.1zM208.2 47.25h10.1v1.20h-10.1zM414.5 47.25h10.1v1.20h-10.1zM434.1 48.25h10.1v1.20h-10.1zM198.4 51.25h10.1v1.20h-10.1zM443.9 51.25h10.1v1.20h-10.1zM188.6 52.25h10.1v1.20h-10.1zM198.4 54.25h10.1v1.20h-10.1zM208.2 54.25h10.1v1.20h-10.1zM326.1 54.25h10.1v1.20h-10.1zM188.6 55.25h10.1v2.20h-10.1zM178.7 57.25h10.1v3.20h-10.1zM267.1 57.25h10.1v2.20h-10.1zM424.3 59.25h10.1v1.20h-10.1zM178.7 61.25h10.1v1.20h-10.1zM414.5 64.25h10.1v1.20h-10.1zM227.9 65.25h10.1v1.20h-10.1zM208.2 68.25h10.1v2.20h-10.1zM375.2 72.25h10.1v1.20h-10.1zM227.9 74.25h10.1v3.20h-10.1zM237.7 75.25h10.1v2.20h-10.1zM355.5 77.25h10.1v1.20h-10.1zM237.7 78.25h10.1v1.20h-10.1zM316.2 81.25h10.1v1.20h-10.1zM306.4 86.25h10.1v1.20h-10.1zM316.2 86.25h10.1v1.20h-10.1zM296.6 88.25h10.1v1.20h-10.1zM335.9 88.25h10.1v1.20h-10.1zM375.2 88.25h10.1v1.20h-10.1zM365.3 89.25h10.1v2.20h-10.1zM208.2 91.25h10.1v2.20h-10.1zM159.1 93.25h10.1v2.20h-10.1zM296.6 93.25h10.1v2.20h-10.1zM208.2 102.25h10.1v1.20h-10.1zM306.4 102.25h10.1v1.20h-10.1zM365.3 103.25h10.1v1.20h-10.1zM296.6 104.25h10.1v2.20h-10.1zM267.1 106.25h10.1v1.20h-10.1zM326.1 106.25h10.1v1.20h-10.1zM208.2 107.25h10.1v2.20h-10.1zM267.1 111.25h10.1v2.20h-10.1zM149.3 113.25h10.1v1.20h-10.1zM208.2 113.25h10.1v1.20h-10.1zM247.5 114.25h10.1v1.20h-10.1zM345.7 114.25h10.1v1.20h-10.1zM453.7 114.25h10.1v1.20h-10.1zM218.0 116.25h10.1v2.20h-10.1zM355.5 116.25h10.1v2.20h-10.1zM208.2 118.25h10.1v1.20h-10.1zM159.1 124.25h10.1v3.20h-10.1zM208.2 124.25h10.1v3.20h-10.1zM227.9 124.25h10.1v3.20h-10.1zM267.1 124.25h10.1v2.20h-10.1zM237.7 127.25h10.1v1.20h-10.1zM375.2 127.25h10.1v1.20h-10.1zM237.7 132.25h10.1v2.20h-10.1zM355.5 134.25h10.1v2.20h-10.1zM385.0 136.25h10.1v2.20h-10.1zM198.4 139.25h10.1v1.20h-10.1zM355.5 139.25h10.1v1.20h-10.1zM257.3 140.25h10.1v1.20h-10.1zM267.1 141.25h10.1v2.20h-10.1zM385.0 143.25h10.1v2.20h-10.1zM208.2 149.25h10.1v2.20h-10.1zM375.2 149.25h10.1v2.20h-10.1zM365.3 153.25h10.1v1.20h-10.1zM375.2 153.25h10.1v1.20h-10.1zM326.1 154.25h10.1v2.20h-10.1zM375.2 159.25h10.1v1.20h-10.1zM296.6 160.25h10.1v3.20h-10.1zM159.1 162.25h10.1v1.20h-10.1zM355.5 163.25h10.1v1.20h-10.1zM159.1 166.25h10.1v1.20h-10.1zM286.8 166.25h10.1v1.20h-10.1zM375.2 166.25h10.1v1.20h-10.1zM355.5 167.25h10.1v4.20h-10.1zM296.6 169.25h10.1v4.20h-10.1zM335.9 171.25h10.1v2.20h-10.1zM375.2 174.25h10.1v1.20h-10.1zM365.3 175.25h10.1v4.20h-10.1zM326.1 177.25h10.1v3.20h-10.1zM257.3 179.25h10.1v1.20h-10.1zM306.4 179.25h10.1v1.20h-10.1zM375.2 180.25h10.1v1.20h-10.1zM267.1 181.25h10.1v2.20h-10.1zM237.7 183.25h10.1v1.20h-10.1zM326.1 183.25h10.1v1.20h-10.1zM208.2 186.25h10.1v2.20h-10.1zM237.7 186.25h10.1v2.20h-10.1zM306.4 186.25h10.1v2.20h-10.1zM335.9 186.25h10.1v2.20h-10.1zM286.8 191.25h10.1v2.20h-10.1zM335.9 191.25h10.1v1.20h-10.1zM375.2 191.25h10.1v1.20h-10.1zM296.6 192.25h10.1v1.20h-10.1zM355.5 192.25h10.1v2.20h-10.1zM306.4 193.25h10.1v1.20h-10.1zM316.2 193.25h10.1v1.20h-10.1zM286.8 194.25h10.1v2.20h-10.1zM326.1 194.25h10.1v1.20h-10.1zM453.7 197.25h10.1v1.20h-10.1zM119.8 198.25h10.1v2.20h-10.1zM198.4 198.25h10.1v2.20h-10.1zM257.3 198.25h10.1v2.20h-10.1zM267.1 198.25h10.1v2.20h-10.1zM267.1 201.25h10.1v1.20h-10.1zM453.7 201.25h10.1v1.20h-10.1zM257.3 205.25h10.1v2.20h-10.1zM277.0 205.25h10.1v2.20h-10.1zM286.8 205.25h10.1v2.20h-10.1zM355.5 205.25h10.1v2.20h-10.1zM394.8 205.25h10.1v2.20h-10.1zM159.1 207.25h10.1v6.20h-10.1zM149.3 209.25h10.1v2.20h-10.1zM218.0 209.25h10.1v2.20h-10.1zM345.7 211.25h10.1v1.20h-10.1zM394.8 212.25h10.1v1.20h-10.1zM198.4 213.25h10.1v2.20h-10.1zM375.2 213.25h10.1v2.20h-10.1zM149.3 217.25h10.1v2.20h-10.1zM306.4 217.25h10.1v4.20h-10.1zM316.2 217.25h10.1v2.20h-10.1zM345.7 217.25h10.1v2.20h-10.1zM267.1 219.25h10.1v2.20h-10.1zM355.5 219.25h10.1v2.20h-10.1zM119.8 221.25h10.1v2.20h-10.1zM296.6 221.25h10.1v2.20h-10.1zM159.1 223.25h10.1v1.20h-10.1zM247.5 223.25h10.1v1.20h-10.1zM257.3 223.25h10.1v1.20h-10.1zM277.0 223.25h10.1v1.20h-10.1zM316.2 223.25h10.1v1.20h-10.1zM434.1 224.25h10.1v2.20h-10.1zM110.0 226.25h10.1v2.20h-10.1zM218.0 226.25h10.1v2.20h-10.1zM247.5 226.25h10.1v2.20h-10.1zM286.8 226.25h10.1v2.20h-10.1zM296.6 226.25h10.1v2.20h-10.1zM316.2 226.25h10.1v2.20h-10.1zM119.8 229.25h10.1v1.20h-10.1zM227.9 229.25h10.1v2.20h-10.1zM365.3 229.25h10.1v2.20h-10.1zM110.0 230.25h10.1v1.20h-10.1zM159.1 230.25h10.1v1.20h-10.1zM188.6 230.25h10.1v1.20h-10.1zM296.6 230.25h10.1v1.70h-10.1zM306.4 230.25h10.1v1.20h-10.1zM434.1 230.25h10.1v1.20h-10.1zM345.7 231.25h10.1v0.70h-10.1z"/>
<path fill="#2040d8" d="M385.0 41.25h10.1v2.20h-10.1zM394.8 43.25h10.1v3.20h-10.1zM453.7 43.25h10.1v1.20h-10.1zM453.7 49.25h10.1v2.20h-10.1zM463.6 53.25h10.1v1.20h-10.1zM394.8 60.25h10.1v1.20h-10.1zM463.6 60.25h10.1v1.20h-10.1zM404.6 61.25h10.1v1.20h-10.1zM463.6 62.25h10.1v2.20h-10.1zM394.8 67.25h10.1v1.20h-10.1zM463.6 73.25h10.1v1.20h-10.1zM463.6 75.25h10.1v2.20h-10.1zM385.0 102.25h10.1v1.20h-10.1zM453.7 103.25h10.1v1.20h-10.1zM414.5 127.25h10.1v1.20h-10.1zM198.4 128.25h10.1v2.20h-10.1zM434.1 141.25h10.1v2.20h-10.1zM453.7 145.25h10.1v1.20h-10.1zM414.5 154.25h10.1v2.20h-10.1zM394.8 162.25h10.1v1.20h-10.1zM414.5 163.25h10.1v1.20h-10.1zM434.1 188.25h10.1v3.20h-10.1zM434.1 192.25h10.1v1.20h-10.1zM168.9 207.25h10.1v2.20h-10.1zM188.6 212.25h10.1v1.20h-10.1zM168.9 219.25h10.1v2.20h-10.1zM159.1 224.25h10.1v2.20h-10.1zM129.6 229.25h10.1v1.20h-10.1zM139.5 231.25h10.1v0.70h-10.1z"/>
<path fill="#2848f8" d="M394.8 41.25h10.1v2.20h-10.1zM463.6 43.25h10.1v1.20h-10.1zM473.4 43.25h10.1v1.20h-10.1zM198.4 66.25h10.1v1.20h-10.1zM385.0 72.25h10.1v1.20h-10.1zM198.4 78.25h10.1v1.20h-10.1zM414.5 91.25h10.1v2.20h-10.1zM434.1 127.25h10.1v1.20h-10.1zM414.5 141.25h10.1v2.20h-10.1zM404.6 169.25h10.1v2.20h-10.1zM404.6 193.25h10.1v1.20h-10.1zM414.5 193.25h10.1v1.20h-10.1zM188.6 200.25h10.1v1.20h-10.1zM139.5 211.25h10.1v1.20h-10.1zM168.9 224.25h10.1v2.20h-10.1z"/>
<path fill="#183098" d="M404.6 41.25h10.1v2.20h-10.1zM453.7 48.25h10.1v1.20h-10.1zM394.8 51.25h10.1v1.20h-10.1zM463.6 51.25h10.1v1.20h-10.1zM385.0 66.25h10.1v1.20h-10.1zM463.6 68.25h10.1v2.20h-10.1zM198.4 70.25h10.1v1.20h-10.1zM404.6 70.25h10.1v1.20h-10.1zM463.6 72.25h10.1v1.20h-10.1zM198.4 75.25h10.1v2.20h-10.1zM404.6 75.25h10.1v2.20h-10.1zM414.5 77.25h10.1v2.20h-10.1zM473.4 78.25h10.1v1.20h-10.1zM453.7 85.25h10.1v1.20h-10.1zM463.6 87.25h10.1v1.20h-10.1zM414.5 88.25h10.1v1.20h-10.1zM463.6 89.25h10.1v2.20h-10.1zM463.6 93.25h10.1v2.20h-10.1zM463.6 99.25h10.1v2.20h-10.1zM394.8 101.25h10.1v1.20h-10.1zM385.0 105.25h10.1v1.20h-10.1zM453.7 107.25h10.1v2.20h-10.1zM385.0 111.25h10.1v2.20h-10.1zM463.6 113.25h10.1v2.20h-10.1zM414.5 114.25h10.1v1.20h-10.1zM443.9 115.25h10.1v1.20h-10.1zM424.3 119.25h10.1v2.20h-10.1zM434.1 119.25h10.1v2.20h-10.1zM473.4 119.25h10.1v2.20h-10.1zM443.9 121.25h10.1v1.20h-10.1zM443.9 124.25h10.1v2.20h-10.1zM463.6 126.25h10.1v1.20h-10.1zM414.5 134.25h10.1v2.20h-10.1zM463.6 136.25h10.1v2.20h-10.1zM404.6 140.25h10.1v1.20h-10.1zM463.6 140.25h10.1v1.20h-10.1zM414.5 143.25h10.1v1.20h-10.1zM453.7 144.25h10.1v1.20h-10.1zM463.6 149.25h10.1v2.20h-10.1zM394.8 153.25h10.1v1.20h-10.1zM385.0 154.25h10.1v2.20h-10.1zM385.0 158.25h10.1v1.20h-10.1zM443.9 158.25h10.1v1.20h-10.1zM453.7 158.25h10.1v1.20h-10.1zM473.4 162.25h10.1v1.20h-10.1zM453.7 163.25h10.1v1.20h-10.1zM385.0 164.25h10.1v1.20h-10.1zM463.6 179.25h10.1v1.20h-10.1zM404.6 180.25h10.1v1.20h-10.1zM463.6 181.25h10.1v2.20h-10.1zM394.8 186.25h10.1v2.20h-10.1zM404.6 192.25h10.1v1.20h-10.1zM463.6 193.25h10.1v1.20h-10.1zM414.5 194.25h10.1v1.20h-10.1zM198.4 200.25h10.1v1.20h-10.1zM218.0 200.25h10.1v1.20h-10.1zM178.7 202.25h10.1v1.20h-10.1zM149.3 204.25h10.1v1.20h-10.1zM159.1 215.25h10.1v2.20h-10.1zM129.6 217.25h10.1v2.20h-10.1zM247.5 228.25h10.1v1.20h-10.1zM286.8 228.25h10.1v1.20h-10.1z"/>
<path fill="#081028" d="M414.5 41.25h10.1v2.20h-10.1zM375.2 49.25h10.1v2.20h-10.1zM267.1 54.25h10.1v1.20h-10.1zM188.6 60.25h10.1v1.20h-10.1zM188.6 64.25h10.1v1.20h-10.1zM375.2 64.25h10.1v1.20h-10.1zM208.2 65.25h10.1v1.20h-10.1zM208.2 71.25h10.1v2.20h-10.1zM257.3 74.25h10.1v1.20h-10.1zM208.2 80.25h10.1v1.20h-10.1zM306.4 82.25h10.1v1.20h-10.1zM198.4 83.25h10.1v2.20h-10.1zM326.1 83.25h10.1v2.20h-10.1zM326.1 95.25h10.1v2.20h-10.1zM296.6 97.25h10.1v2.20h-10.1zM198.4 103.25h10.1v1.20h-10.1zM208.2 109.25h10.1v2.20h-10.1zM198.4 114.25h10.1v1.20h-10.1zM355.5 114.25h10.1v1.20h-10.1zM159.1 119.25h10.1v2.20h-10.1zM227.9 122.25h10.1v2.20h-10.1zM355.5 122.25h10.1v2.20h-10.1zM208.2 130.25h10.1v2.20h-10.1zM375.2 130.25h10.1v2.20h-10.1zM227.9 132.25h10.1v2.20h-10.1zM257.3 136.25h10.1v2.20h-10.1zM198.4 156.25h10.1v2.20h-10.1zM306.4 162.25h10.1v1.20h-10.1zM345.7 162.25h10.1v1.20h-10.1zM355.5 165.25h10.1v1.20h-10.1zM365.3 171.25h10.1v3.20h-10.1zM159.1 174.25h10.1v1.20h-10.1zM335.9 174.25h10.1v1.20h-10.1zM375.2 179.25h10.1v1.20h-10.1zM375.2 183.25h10.1v5.20h-10.1zM375.2 192.25h10.1v2.20h-10.1zM286.8 193.25h10.1v1.20h-10.1zM188.6 198.25h10.1v2.20h-10.1zM316.2 201.25h10.1v1.20h-10.1zM139.5 203.25h10.1v1.20h-10.1zM247.5 203.25h10.1v1.20h-10.1zM267.1 203.25h10.1v1.20h-10.1zM355.5 209.25h10.1v2.20h-10.1zM149.3 211.25h10.1v1.20h-10.1zM286.8 212.25h10.1v1.20h-10.1zM267.1 213.25h10.1v2.20h-10.1zM178.7 217.25h10.1v4.20h-10.1zM247.5 217.25h10.1v4.20h-10.1zM365.3 217.25h10.1v2.20h-10.1zM149.3 219.25h10.1v2.20h-10.1zM129.6 223.25h10.1v1.20h-10.1zM267.1 223.25h10.1v1.20h-10.1zM335.9 223.25h10.1v1.20h-10.1zM296.6 228.25h10.1v1.20h-10.1zM424.3 228.25h10.1v1.20h-10.1zM326.1 231.25h10.1v0.70h-10.1zM335.9 231.25h10.1v0.70h-10.1z"/>
<path fill="#080818" d="M434.1 41.25h10.1v3.20h-10.1zM247.5 43.25h10.1v1.20h-10.1zM119.8 44.25h10.1v2.20h-10.1zM139.5 44.25h10.1v2.20h-10.1zM159.1 44.25h10.1v2.20h-10.1zM168.9 44.25h10.1v2.20h-10.1zM257.3 44.25h10.1v2.20h-10.1zM306.4 44.25h10.1v2.20h-10.1zM316.2 44.25h10.1v2.20h-10.1zM345.7 44.25h10.1v2.20h-10.1zM424.3 44.25h10.1v2.20h-10.1zM247.5 46.25h10.1v1.20h-10.1zM149.3 47.25h10.1v1.20h-10.1zM355.5 47.25h10.1v1.20h-10.1zM375.2 47.25h10.1v2.20h-10.1zM188.6 48.25h10.1v1.20h-10.1zM247.5 48.25h10.1v1.20h-10.1zM316.2 48.25h10.1v1.20h-10.1zM365.3 48.25h10.1v1.20h-10.1zM159.1 51.25h10.1v1.20h-10.1zM188.6 51.25h10.1v1.20h-10.1zM208.2 51.25h10.1v1.20h-10.1zM218.0 51.25h10.1v1.20h-10.1zM267.1 51.25h10.1v1.20h-10.1zM326.1 51.25h10.1v1.20h-10.1zM365.3 51.25h10.1v1.20h-10.1zM375.2 51.25h10.1v1.20h-10.1zM424.3 53.25h10.1v2.20h-10.1zM188.6 54.25h10.1v1.20h-10.1zM375.2 54.25h10.1v1.20h-10.1zM208.2 55.25h10.1v2.20h-10.1zM178.7 60.25h10.1v1.20h-10.1zM267.1 60.25h10.1v1.20h-10.1zM188.6 61.25h10.1v1.20h-10.1zM375.2 61.25h10.1v1.20h-10.1zM178.7 62.25h10.1v4.20h-10.1zM267.1 62.25h10.1v3.20h-10.1zM119.8 65.25h10.1v1.20h-10.1zM129.6 65.25h10.1v1.20h-10.1zM188.6 65.25h10.1v1.20h-10.1zM286.8 65.25h10.1v1.20h-10.1zM306.4 65.25h10.1v1.20h-10.1zM355.5 65.25h10.1v1.20h-10.1zM424.3 65.25h10.1v1.20h-10.1zM188.6 67.25h10.1v1.20h-10.1zM424.3 67.25h10.1v1.20h-10.1zM434.1 67.25h10.1v1.20h-10.1zM434.1 70.25h10.1v1.20h-10.1zM208.2 73.25h10.1v2.20h-10.1zM227.9 73.25h10.1v1.20h-10.1zM375.2 73.25h10.1v1.20h-10.1zM355.5 74.25h10.1v1.20h-10.1zM227.9 77.25h10.1v2.20h-10.1zM237.7 77.25h10.1v1.20h-10.1zM257.3 77.25h10.1v1.20h-10.1zM178.7 79.25h10.1v1.20h-10.1zM208.2 79.25h10.1v1.20h-10.1zM227.9 80.25h10.1v1.20h-10.1zM198.4 81.25h10.1v1.20h-10.1zM237.7 81.25h10.1v1.20h-10.1zM306.4 81.25h10.1v1.20h-10.1zM237.7 83.25h10.1v4.20h-10.1zM306.4 83.25h10.1v2.20h-10.1zM316.2 83.25h10.1v2.20h-10.1zM198.4 87.25h10.1v1.20h-10.1zM286.8 87.25h10.1v2.20h-10.1zM306.4 87.25h10.1v1.20h-10.1zM316.2 87.25h10.1v1.20h-10.1zM237.7 88.25h10.1v1.20h-10.1zM326.1 88.25h10.1v3.20h-10.1zM296.6 89.25h10.1v2.20h-10.1zM208.2 93.25h10.1v4.20h-10.1zM326.1 93.25h10.1v2.20h-10.1zM355.5 93.25h10.1v2.20h-10.1zM296.6 95.25h10.1v2.20h-10.1zM365.3 95.25h10.1v2.20h-10.1zM326.1 97.25h10.1v2.20h-10.1zM208.2 99.25h10.1v2.20h-10.1zM159.1 101.25h10.1v2.20h-10.1zM306.4 101.25h10.1v1.20h-10.1zM335.9 101.25h10.1v1.20h-10.1zM365.3 101.25h10.1v1.20h-10.1zM218.0 102.25h10.1v1.20h-10.1zM227.9 102.25h10.1v1.20h-10.1zM296.6 102.25h10.1v1.20h-10.1zM345.7 102.25h10.1v1.20h-10.1zM335.9 103.25h10.1v1.20h-10.1zM208.2 104.25h10.1v1.20h-10.1zM365.3 104.25h10.1v1.20h-10.1zM267.1 105.25h10.1v1.20h-10.1zM326.1 105.25h10.1v1.20h-10.1zM375.2 105.25h10.1v4.20h-10.1zM208.2 106.25h10.1v1.20h-10.1zM296.6 106.25h10.1v7.20h-10.1zM178.7 107.25h10.1v4.20h-10.1zM188.6 109.25h10.1v2.20h-10.1zM257.3 113.25h10.1v1.20h-10.1zM355.5 113.25h10.1v1.20h-10.1zM139.5 114.25h10.1v1.20h-10.1zM208.2 114.25h10.1v1.20h-10.1zM218.0 114.25h10.1v1.20h-10.1zM286.8 114.25h10.1v1.20h-10.1zM306.4 114.25h10.1v1.20h-10.1zM365.3 114.25h10.1v1.20h-10.1zM267.1 115.25h10.1v4.20h-10.1zM218.0 119.25h10.1v2.20h-10.1zM365.3 121.25h10.1v3.20h-10.1zM375.2 122.25h10.1v2.20h-10.1zM267.1 126.25h10.1v1.20h-10.1zM326.1 126.25h10.1v1.20h-10.1zM355.5 126.25h10.1v2.20h-10.1zM365.3 126.25h10.1v1.20h-10.1zM375.2 126.25h10.1v1.20h-10.1zM237.7 128.25h10.1v2.20h-10.1zM355.5 130.25h10.1v4.20h-10.1zM394.8 136.25h10.1v2.20h-10.1zM208.2 138.25h10.1v1.20h-10.1zM385.0 138.25h10.1v3.20h-10.1zM227.9 139.25h10.1v1.20h-10.1zM267.1 139.25h10.1v2.20h-10.1zM394.8 139.25h10.1v1.20h-10.1zM237.7 141.25h10.1v2.20h-10.1zM394.8 141.25h10.1v3.20h-10.1zM198.4 146.25h10.1v2.20h-10.1zM267.1 146.25h10.1v2.20h-10.1zM326.1 146.25h10.1v2.20h-10.1zM375.2 148.25h10.1v1.20h-10.1zM119.8 149.25h10.1v2.20h-10.1zM178.7 149.25h10.1v2.20h-10.1zM326.1 149.25h10.1v2.20h-10.1zM208.2 151.25h10.1v2.20h-10.1zM267.1 151.25h10.1v2.20h-10.1zM139.5 153.25h10.1v1.20h-10.1zM355.5 153.25h10.1v1.20h-10.1zM286.8 154.25h10.1v2.20h-10.1zM178.7 156.25h10.1v2.20h-10.1zM296.6 156.25h10.1v2.20h-10.1zM326.1 156.25h10.1v2.20h-10.1zM355.5 156.25h10.1v3.20h-10.1zM286.8 158.25h10.1v4.20h-10.1zM119.8 159.25h10.1v1.20h-10.1zM198.4 159.25h10.1v1.20h-10.1zM296.6 159.25h10.1v1.20h-10.1zM306.4 159.25h10.1v1.20h-10.1zM316.2 162.25h10.1v2.20h-10.1zM286.8 163.25h10.1v3.20h-10.1zM306.4 163.25h10.1v6.20h-10.1zM345.7 163.25h10.1v2.20h-10.1zM365.3 163.25h10.1v1.20h-10.1zM296.6 166.25h10.1v1.20h-10.1zM316.2 166.25h10.1v3.20h-10.1zM208.2 169.25h10.1v2.20h-10.1zM267.1 169.25h10.1v2.20h-10.1zM335.9 169.25h10.1v2.20h-10.1zM365.3 169.25h10.1v2.20h-10.1zM296.6 173.25h10.1v2.20h-10.1zM326.1 173.25h10.1v1.20h-10.1zM335.9 173.25h10.1v1.20h-10.1zM355.5 173.25h10.1v2.20h-10.1zM453.7 173.25h10.1v1.20h-10.1zM237.7 174.25h10.1v3.20h-10.1zM345.7 174.25h10.1v1.20h-10.1zM110.0 175.25h10.1v2.20h-10.1zM326.1 175.25h10.1v2.20h-10.1zM227.9 179.25h10.1v1.20h-10.1zM286.8 179.25h10.1v1.20h-10.1zM316.2 179.25h10.1v1.20h-10.1zM355.5 179.25h10.1v1.20h-10.1zM237.7 180.25h10.1v1.20h-10.1zM267.1 180.25h10.1v1.20h-10.1zM365.3 180.25h10.1v3.20h-10.1zM453.7 180.25h10.1v1.20h-10.1zM227.9 181.25h10.1v2.20h-10.1zM296.6 184.25h10.1v2.20h-10.1zM335.9 184.25h10.1v2.20h-10.1zM345.7 186.25h10.1v2.20h-10.1zM237.7 188.25h10.1v2.20h-10.1zM345.7 190.25h10.1v1.20h-10.1zM394.8 190.25h10.1v1.20h-10.1zM159.1 191.25h10.1v1.20h-10.1zM237.7 191.25h10.1v1.20h-10.1zM316.2 191.25h10.1v1.20h-10.1zM355.5 191.25h10.1v1.20h-10.1zM365.3 191.25h10.1v5.20h-10.1zM306.4 192.25h10.1v1.20h-10.1zM345.7 194.25h10.1v2.20h-10.1zM355.5 195.25h10.1v1.20h-10.1zM375.2 195.25h10.1v2.20h-10.1zM286.8 196.25h10.1v1.20h-10.1zM296.6 196.25h10.1v4.20h-10.1zM326.1 196.25h10.1v1.20h-10.1zM178.7 198.25h10.1v2.20h-10.1zM247.5 198.25h10.1v2.20h-10.1zM306.4 198.25h10.1v2.20h-10.1zM326.1 198.25h10.1v2.20h-10.1zM345.7 198.25h10.1v2.20h-10.1zM365.3 198.25h10.1v2.20h-10.1zM453.7 198.25h10.1v3.20h-10.1zM306.4 201.25h10.1v3.20h-10.1zM296.6 203.25h10.1v1.20h-10.1zM159.1 205.25h10.1v2.20h-10.1zM247.5 205.25h10.1v2.20h-10.1zM306.4 205.25h10.1v2.20h-10.1zM257.3 207.25h10.1v2.20h-10.1zM326.1 207.25h10.1v2.20h-10.1zM198.4 209.25h10.1v2.20h-10.1zM227.9 209.25h10.1v2.20h-10.1zM286.8 209.25h10.1v2.20h-10.1zM306.4 209.25h10.1v2.20h-10.1zM345.7 209.25h10.1v2.20h-10.1zM375.2 209.25h10.1v2.20h-10.1zM257.3 211.25h10.1v4.20h-10.1zM208.2 212.25h10.1v3.20h-10.1zM237.7 212.25h10.1v3.20h-10.1zM247.5 212.25h10.1v1.20h-10.1zM149.3 213.25h10.1v2.20h-10.1zM286.8 213.25h10.1v2.20h-10.1zM296.6 213.25h10.1v2.20h-10.1zM326.1 213.25h10.1v2.20h-10.1zM267.1 215.25h10.1v2.20h-10.1zM365.3 215.25h10.1v2.20h-10.1zM208.2 217.25h10.1v4.20h-10.1zM277.0 217.25h10.1v4.20h-10.1zM365.3 219.25h10.1v9.20h-10.1zM434.1 221.25h10.1v2.20h-10.1zM149.3 223.25h10.1v1.20h-10.1zM198.4 223.25h10.1v1.20h-10.1zM218.0 223.25h10.1v1.20h-10.1zM296.6 223.25h10.1v1.20h-10.1zM424.3 223.25h10.1v1.20h-10.1zM443.9 223.25h10.1v1.20h-10.1zM208.2 226.25h10.1v2.20h-10.1zM326.1 226.25h10.1v2.20h-10.1zM434.1 228.25h10.1v1.20h-10.1zM326.1 229.25h10.1v1.20h-10.1zM149.3 230.25h10.1v1.20h-10.1zM218.0 230.25h10.1v1.20h-10.1zM257.3 230.25h10.1v1.20h-10.1zM267.1 230.25h10.1v1.20h-10.1zM277.0 230.25h10.1v1.20h-10.1zM355.5 230.25h10.1v1.20h-10.1zM414.5 230.25h10.1v1.20h-10.1zM453.7 230.25h10.1v1.20h-10.1zM365.3 231.25h10.1v0.70h-10.1z"/>
<path fill="#102058" d="M443.9 41.25h10.1v2.20h-10.1zM198.4 49.25h10.1v2.20h-10.1zM434.1 52.25h10.1v1.20h-10.1zM414.5 53.25h10.1v1.20h-10.1zM473.4 65.25h10.1v1.20h-10.1zM208.2 66.25h10.1v1.20h-10.1zM385.0 73.25h10.1v1.20h-10.1zM473.4 73.25h10.1v1.20h-10.1zM424.3 74.25h10.1v1.20h-10.1zM394.8 81.25h10.1v1.20h-10.1zM443.9 83.25h10.1v3.20h-10.1zM443.9 95.25h10.1v2.20h-10.1zM414.5 104.25h10.1v1.20h-10.1zM198.4 109.25h10.1v2.20h-10.1zM443.9 114.25h10.1v1.20h-10.1zM434.1 118.25h10.1v1.20h-10.1zM443.9 118.25h10.1v1.20h-10.1zM453.7 140.25h10.1v1.20h-10.1zM453.7 149.25h10.1v2.20h-10.1zM394.8 158.25h10.1v1.20h-10.1zM424.3 163.25h10.1v1.20h-10.1zM335.9 164.25h10.1v1.20h-10.1zM335.9 167.25h10.1v2.20h-10.1zM424.3 173.25h10.1v1.20h-10.1zM443.9 174.25h10.1v1.20h-10.1zM453.7 184.25h10.1v2.20h-10.1zM443.9 188.25h10.1v2.20h-10.1zM453.7 190.25h10.1v1.20h-10.1zM394.8 192.25h10.1v1.20h-10.1zM443.9 194.25h10.1v1.20h-10.1zM394.8 195.25h10.1v1.20h-10.1zM110.0 201.25h10.1v1.20h-10.1zM218.0 203.25h10.1v1.20h-10.1zM178.7 205.25h10.1v4.20h-10.1zM119.8 207.25h10.1v2.20h-10.1zM385.0 209.25h10.1v2.20h-10.1zM277.0 211.25h10.1v1.20h-10.1zM110.0 213.25h10.1v2.20h-10.1zM188.6 221.25h10.1v2.20h-10.1zM129.6 226.25h10.1v2.20h-10.1zM218.0 229.25h10.1v1.20h-10.1zM149.3 231.25h10.1v0.70h-10.1z"/>
<path fill="#2040e0" d="M453.7 41.25h10.1v2.20h-10.1zM404.6 44.25h10.1v2.20h-10.1zM198.4 46.25h10.1v1.20h-10.1zM198.4 57.25h10.1v2.20h-10.1zM385.0 59.25h10.1v1.20h-10.1zM198.4 62.25h10.1v2.20h-10.1zM394.8 64.25h10.1v1.20h-10.1zM453.7 67.25h10.1v1.20h-10.1zM394.8 68.25h10.1v3.20h-10.1zM385.0 70.25h10.1v1.20h-10.1zM453.7 70.25h10.1v1.20h-10.1zM404.6 85.25h10.1v1.20h-10.1zM463.6 85.25h10.1v1.20h-10.1zM394.8 89.25h10.1v2.20h-10.1zM404.6 89.25h10.1v2.20h-10.1zM385.0 91.25h10.1v2.20h-10.1zM385.0 97.25h10.1v2.20h-10.1zM463.6 97.25h10.1v2.20h-10.1zM473.4 97.25h10.1v2.20h-10.1zM404.6 104.25h10.1v1.20h-10.1zM424.3 104.25h10.1v1.20h-10.1zM404.6 107.25h10.1v2.20h-10.1zM434.1 124.25h10.1v2.20h-10.1zM188.6 128.25h10.1v2.20h-10.1zM414.5 132.25h10.1v2.20h-10.1zM414.5 139.25h10.1v1.20h-10.1zM404.6 141.25h10.1v2.20h-10.1zM463.6 154.25h10.1v2.20h-10.1zM404.6 156.25h10.1v2.20h-10.1zM414.5 164.25h10.1v1.20h-10.1zM414.5 167.25h10.1v2.20h-10.1zM404.6 173.25h10.1v1.20h-10.1zM414.5 175.25h10.1v2.20h-10.1zM188.6 202.25h10.1v1.20h-10.1zM188.6 204.25h10.1v1.20h-10.1zM139.5 224.25h10.1v2.20h-10.1zM159.1 228.25h10.1v1.20h-10.1zM129.6 231.25h10.1v0.70h-10.1z"/>
<path fill="#2040e8" d="M463.6 41.25h10.1v2.20h-10.1zM394.8 46.25h10.1v1.20h-10.1zM404.6 55.25h10.1v2.20h-10.1zM385.0 61.25h10.1v1.20h-10.1zM414.5 121.25h10.1v1.20h-10.1zM434.1 126.25h10.1v1.20h-10.1zM434.1 165.25h10.1v1.20h-10.1zM404.6 186.25h10.1v2.20h-10.1zM178.7 231.25h10.1v0.70h-10.1z"/>
<path fill="#1830a0" d="M473.4 41.25h10.1v2.20h-10.1zM394.8 47.25h10.1v1.20h-10.1zM473.4 49.25h10.1v4.20h-10.1zM385.0 51.25h10.1v2.20h-10.1zM385.0 54.25h10.1v1.20h-10.1zM463.6 55.25h10.1v2.20h-10.1zM453.7 59.25h10.1v1.20h-10.1zM473.4 61.25h10.1v1.20h-10.1zM463.6 70.25h10.1v1.20h-10.1zM453.7 73.25h10.1v1.20h-10.1zM188.6 74.25h10.1v1.20h-10.1zM414.5 75.25h10.1v2.20h-10.1zM453.7 77.25h10.1v1.20h-10.1zM385.0 82.25h10.1v1.20h-10.1zM473.4 85.25h10.1v1.20h-10.1zM424.3 86.25h10.1v1.20h-10.1zM463.6 86.25h10.1v1.20h-10.1zM385.0 87.25h10.1v1.20h-10.1zM394.8 93.25h10.1v2.20h-10.1zM414.5 95.25h10.1v2.20h-10.1zM473.4 95.25h10.1v2.20h-10.1zM404.6 99.25h10.1v2.20h-10.1zM463.6 101.25h10.1v1.20h-10.1zM473.4 101.25h10.1v1.20h-10.1zM434.1 104.25h10.1v1.20h-10.1zM385.0 106.25h10.1v1.20h-10.1zM394.8 111.25h10.1v2.20h-10.1zM434.1 111.25h10.1v2.20h-10.1zM424.3 115.25h10.1v1.20h-10.1zM434.1 116.25h10.1v2.20h-10.1zM473.4 116.25h10.1v2.20h-10.1zM414.5 119.25h10.1v2.20h-10.1zM453.7 119.25h10.1v2.20h-10.1zM443.9 128.25h10.1v2.20h-10.1zM463.6 128.25h10.1v2.20h-10.1zM198.4 130.25h10.1v2.20h-10.1zM434.1 132.25h10.1v2.20h-10.1zM404.6 138.25h10.1v1.20h-10.1zM424.3 138.25h10.1v1.20h-10.1zM178.7 139.25h10.1v1.20h-10.1zM178.7 144.25h10.1v1.20h-10.1zM404.6 144.25h10.1v1.20h-10.1zM424.3 149.25h10.1v2.20h-10.1zM434.1 151.25h10.1v2.20h-10.1zM385.0 153.25h10.1v1.20h-10.1zM394.8 154.25h10.1v2.20h-10.1zM434.1 159.25h10.1v1.20h-10.1zM385.0 162.25h10.1v1.20h-10.1zM434.1 162.25h10.1v1.20h-10.1zM443.9 163.25h10.1v1.20h-10.1zM424.3 165.25h10.1v1.20h-10.1zM473.4 169.25h10.1v2.20h-10.1zM443.9 173.25h10.1v1.20h-10.1zM404.6 174.25h10.1v1.20h-10.1zM434.1 183.25h10.1v1.20h-10.1zM414.5 192.25h10.1v1.20h-10.1zM473.4 196.25h10.1v1.20h-10.1zM110.0 204.25h10.1v3.20h-10.1zM198.4 204.25h10.1v1.20h-10.1zM129.6 207.25h10.1v2.20h-10.1zM394.8 213.25h10.1v2.20h-10.1z"/>
<path fill="#888028" d="M119.8 43.25h10.1v1.20h-10.1zM257.3 46.25h10.1v1.20h-10.1zM296.6 52.25h10.1v1.20h-10.1zM149.3 53.25h10.1v1.20h-10.1zM257.3 55.25h10.1v2.20h-10.1zM286.8 62.25h10.1v2.20h-10.1zM227.9 71.25h10.1v1.20h-10.1zM306.4 71.25h10.1v1.20h-10.1zM247.5 72.25h10.1v1.20h-10.1zM110.0 74.25h10.1v1.20h-10.1zM178.7 89.25h10.1v2.20h-10.1zM139.5 99.25h10.1v2.20h-10.1zM178.7 104.25h10.1v1.20h-10.1zM335.9 115.25h10.1v1.20h-10.1zM129.6 122.25h10.1v2.20h-10.1zM110.0 128.25h10.1v2.20h-10.1zM326.1 128.25h10.1v2.20h-10.1zM110.0 138.25h10.1v1.20h-10.1zM306.4 138.25h10.1v1.20h-10.1zM306.4 151.25h10.1v2.20h-10.1zM257.3 171.25h10.1v2.20h-10.1zM198.4 173.25h10.1v1.20h-10.1zM227.9 193.25h10.1v1.20h-10.1zM188.6 195.25h10.1v1.20h-10.1zM473.4 200.25h10.1v1.20h-10.1zM414.5 203.25h10.1v1.20h-10.1zM375.2 204.25h10.1v1.20h-10.1zM473.4 204.25h10.1v1.20h-10.1z"/>
<path fill="#d0c830" d="M129.6 43.25h10.1v1.20h-10.1zM277.0 93.25h10.1v2.20h-10.1zM110.0 119.25h10.1v2.20h-10.1zM218.0 128.25h10.1v2.20h-10.1zM335.9 134.25h10.1v2.20h-10.1zM168.9 159.25h10.1v1.20h-10.1zM139.5 173.25h10.1v1.20h-10.1zM149.3 183.25h10.1v1.20h-10.1zM277.0 188.25h10.1v2.20h-10.1zM463.6 215.25h10.1v2.20h-10.1zM385.0 231.25h10.1v0.70h-10.1z"/>
<path fill="#807828" d="M139.5 43.25h10.1v1.20h-10.1zM296.6 55.25h10.1v2.20h-10.1zM129.6 70.25h10.1v1.20h-10.1zM149.3 73.25h10.1v1.20h-10.1zM326.1 73.25h10.1v1.20h-10.1zM159.1 74.25h10.1v1.20h-10.1zM335.9 74.25h10.1v3.20h-10.1zM168.9 75.25h10.1v2.20h-10.1zM296.6 78.25h10.1v1.20h-10.1zM159.1 83.25h10.1v2.20h-10.1zM149.3 88.25h10.1v1.20h-10.1zM178.7 88.25h10.1v1.20h-10.1zM247.5 89.25h10.1v2.20h-10.1zM247.5 95.25h10.1v2.20h-10.1zM227.9 107.25h10.1v2.20h-10.1zM149.3 109.25h10.1v2.20h-10.1zM119.8 111.25h10.1v2.20h-10.1zM306.4 130.25h10.1v2.20h-10.1zM149.3 140.25h10.1v1.20h-10.1zM277.0 153.25h10.1v1.20h-10.1zM139.5 162.25h10.1v1.20h-10.1zM110.0 163.25h10.1v1.20h-10.1zM208.2 167.25h10.1v2.20h-10.1zM218.0 181.25h10.1v2.20h-10.1zM316.2 183.25h10.1v1.20h-10.1zM119.8 188.25h10.1v2.20h-10.1zM149.3 188.25h10.1v2.20h-10.1zM365.3 211.25h10.1v1.20h-10.1zM463.6 211.25h10.1v1.20h-10.1z"/>
<path fill="#686020" d="M149.3 43.25h10.1v1.20h-10.1zM149.3 46.25h10.1v1.20h-10.1zM168.9 47.25h10.1v1.20h-10.1zM178.7 52.25h10.1v1.20h-10.1zM306.4 53.25h10.1v1.20h-10.1zM365.3 55.25h10.1v2.20h-10.1zM355.5 66.25h10.1v1.20h-10.1zM119.8 67.25h10.1v1.20h-10.1zM277.0 70.25h10.1v1.20h-10.1zM335.9 70.25h10.1v1.20h-10.1zM257.3 71.25h10.1v1.20h-10.1zM129.6 75.25h10.1v2.20h-10.1zM296.6 75.25h10.1v2.20h-10.1zM267.1 82.25h10.1v1.20h-10.1zM345.7 83.25h10.1v3.20h-10.1zM168.9 89.25h10.1v4.20h-10.1zM267.1 89.25h10.1v2.20h-10.1zM218.0 99.25h10.1v2.20h-10.1zM227.9 111.25h10.1v2.20h-10.1zM375.2 118.25h10.1v1.20h-10.1zM159.1 159.25h10.1v1.20h-10.1zM149.3 167.25h10.1v2.20h-10.1zM473.4 202.25h10.1v1.20h-10.1z"/>
<path fill="#e0e038" d="M168.9 43.25h10.1v1.20h-10.1zM139.5 53.25h10.1v1.20h-10.1zM149.3 85.25h10.1v1.20h-10.1zM159.1 85.25h10.1v1.20h-10.1zM257.3 93.25h10.1v2.20h-10.1zM110.0 109.25h10.1v2.20h-10.1zM119.8 126.25h10.1v1.20h-10.1zM306.4 134.25h10.1v2.20h-10.1zM257.3 153.25h10.1v1.20h-10.1zM178.7 160.25h10.1v2.20h-10.1zM208.2 165.25h10.1v1.20h-10.1zM129.6 167.25h10.1v2.20h-10.1zM139.5 167.25h10.1v2.20h-10.1zM168.9 167.25h10.1v2.20h-10.1zM463.6 219.25h10.1v2.20h-10.1z"/>
<path fill="#585020" d="M178.7 43.25h10.1v1.20h-10.1zM168.9 54.25h10.1v1.20h-10.1zM345.7 57.25h10.1v2.20h-10.1zM306.4 61.25h10.1v3.20h-10.1zM119.8 68.25h10.1v2.20h-10.1zM316.2 68.25h10.1v2.20h-10.1zM110.0 71.25h10.1v1.20h-10.1zM267.1 73.25h10.1v1.20h-10.1zM227.9 83.25h10.1v2.20h-10.1zM188.6 89.25h10.1v2.20h-10.1zM227.9 89.25h10.1v2.20h-10.1zM345.7 95.25h10.1v2.20h-10.1zM335.9 114.25h10.1v1.20h-10.1zM247.5 138.25h10.1v1.20h-10.1zM129.6 148.25h10.1v1.20h-10.1zM188.6 166.25h10.1v1.20h-10.1zM188.6 175.25h10.1v2.20h-10.1zM355.5 177.25h10.1v2.20h-10.1zM129.6 181.25h10.1v2.20h-10.1zM247.5 183.25h10.1v1.20h-10.1zM247.5 186.25h10.1v4.20h-10.1zM110.0 194.25h10.1v1.20h-10.1zM139.5 194.25h10.1v1.20h-10.1z"/>
<path fill="#2038b8" d="M198.4 43.25h10.1v1.20h-10.1zM473.4 44.25h10.1v2.20h-10.1zM463.6 47.25h10.1v1.20h-10.1zM404.6 51.25h10.1v1.20h-10.1zM473.4 53.25h10.1v1.20h-10.1zM394.8 55.25h10.1v2.20h-10.1zM463.6 59.25h10.1v1.20h-10.1zM198.4 60.25h10.1v1.20h-10.1zM394.8 65.25h10.1v1.20h-10.1zM453.7 65.25h10.1v1.20h-10.1zM473.4 71.25h10.1v1.20h-10.1zM453.7 72.25h10.1v1.20h-10.1zM414.5 80.25h10.1v1.20h-10.1zM453.7 80.25h10.1v1.20h-10.1zM463.6 80.25h10.1v1.20h-10.1zM453.7 82.25h10.1v1.20h-10.1zM463.6 82.25h10.1v1.20h-10.1zM404.6 83.25h10.1v2.20h-10.1zM414.5 97.25h10.1v2.20h-10.1zM453.7 97.25h10.1v2.20h-10.1zM473.4 111.25h10.1v2.20h-10.1zM453.7 113.25h10.1v1.20h-10.1zM473.4 115.25h10.1v1.20h-10.1zM424.3 116.25h10.1v2.20h-10.1zM453.7 116.25h10.1v2.20h-10.1zM463.6 116.25h10.1v2.20h-10.1zM404.6 118.25h10.1v1.20h-10.1zM434.1 121.25h10.1v1.20h-10.1zM424.3 126.25h10.1v1.20h-10.1zM434.1 128.25h10.1v2.20h-10.1zM424.3 130.25h10.1v2.20h-10.1zM424.3 143.25h10.1v2.20h-10.1zM434.1 143.25h10.1v1.20h-10.1zM473.4 145.25h10.1v1.20h-10.1zM424.3 151.25h10.1v2.20h-10.1zM443.9 151.25h10.1v2.20h-10.1zM424.3 154.25h10.1v2.20h-10.1zM463.6 156.25h10.1v2.20h-10.1zM414.5 162.25h10.1v1.20h-10.1zM414.5 166.25h10.1v1.20h-10.1zM385.0 167.25h10.1v4.20h-10.1zM414.5 169.25h10.1v2.20h-10.1zM414.5 174.25h10.1v1.20h-10.1zM473.4 181.25h10.1v2.20h-10.1zM414.5 190.25h10.1v1.20h-10.1zM414.5 196.25h10.1v1.20h-10.1zM208.2 200.25h10.1v1.20h-10.1zM208.2 202.25h10.1v1.20h-10.1zM188.6 211.25h10.1v1.20h-10.1zM110.0 212.25h10.1v1.20h-10.1zM385.0 217.25h10.1v4.20h-10.1z"/>
<path fill="#101850" d="M208.2 43.25h10.1v1.20h-10.1zM443.9 48.25h10.1v1.20h-10.1zM414.5 52.25h10.1v1.20h-10.1zM443.9 55.25h10.1v2.20h-10.1zM443.9 59.25h10.1v1.20h-10.1zM178.7 74.25h10.1v1.20h-10.1zM257.3 82.25h10.1v3.20h-10.1zM375.2 82.25h10.1v1.20h-10.1zM218.0 85.25h10.1v1.20h-10.1zM404.6 86.25h10.1v1.20h-10.1zM296.6 87.25h10.1v1.20h-10.1zM198.4 105.25h10.1v1.20h-10.1zM394.8 113.25h10.1v2.20h-10.1zM198.4 119.25h10.1v2.20h-10.1zM188.6 121.25h10.1v1.20h-10.1zM257.3 127.25h10.1v1.20h-10.1zM394.8 127.25h10.1v1.20h-10.1zM257.3 134.25h10.1v2.20h-10.1zM188.6 138.25h10.1v1.20h-10.1zM178.7 140.25h10.1v1.20h-10.1zM198.4 144.25h10.1v1.20h-10.1zM473.4 146.25h10.1v3.20h-10.1zM394.8 148.25h10.1v1.20h-10.1zM443.9 148.25h10.1v1.20h-10.1zM453.7 159.25h10.1v1.20h-10.1zM326.1 167.25h10.1v2.20h-10.1zM453.7 169.25h10.1v2.20h-10.1zM424.3 171.25h10.1v2.20h-10.1zM159.1 173.25h10.1v1.20h-10.1zM424.3 175.25h10.1v2.20h-10.1zM453.7 175.25h10.1v2.20h-10.1zM443.9 183.25h10.1v1.20h-10.1zM326.1 186.25h10.1v2.20h-10.1zM453.7 186.25h10.1v2.20h-10.1zM306.4 190.25h10.1v1.20h-10.1zM453.7 193.25h10.1v1.20h-10.1zM385.0 194.25h10.1v1.20h-10.1zM227.9 197.25h10.1v1.20h-10.1zM394.8 197.25h10.1v1.20h-10.1zM159.1 200.25h10.1v1.20h-10.1zM227.9 200.25h10.1v1.20h-10.1zM237.7 200.25h10.1v1.20h-10.1zM316.2 200.25h10.1v1.20h-10.1zM394.8 200.25h10.1v1.20h-10.1zM277.0 202.25h10.1v1.20h-10.1zM316.2 202.25h10.1v1.20h-10.1zM129.6 203.25h10.1v1.20h-10.1zM149.3 203.25h10.1v1.20h-10.1zM178.7 203.25h10.1v1.20h-10.1zM385.0 203.25h10.1v1.20h-10.1zM277.0 204.25h10.1v1.20h-10.1zM394.8 204.25h10.1v1.20h-10.1zM316.2 207.25h10.1v2.20h-10.1zM188.6 209.25h10.1v2.20h-10.1zM335.9 212.25h10.1v1.20h-10.1zM385.0 212.25h10.1v1.20h-10.1zM159.1 213.25h10.1v2.20h-10.1zM355.5 215.25h10.1v2.20h-10.1zM178.7 221.25h10.1v2.20h-10.1zM227.9 221.25h10.1v2.20h-10.1zM237.7 221.25h10.1v2.20h-10.1zM149.3 224.25h10.1v2.20h-10.1zM296.6 224.25h10.1v2.20h-10.1zM335.9 224.25h10.1v2.20h-10.1zM267.1 228.25h10.1v1.20h-10.1zM316.2 228.25h10.1v1.20h-10.1zM188.6 229.25h10.1v1.20h-10.1zM237.7 229.25h10.1v1.20h-10.1zM218.0 231.25h10.1v0.70h-10.1zM257.3 231.25h10.1v0.70h-10.1z"/>
<path fill="#888828" d="M227.9 43.25h10.1v1.20h-10.1zM277.0 49.25h10.1v2.20h-10.1zM277.0 60.25h10.1v1.20h-10.1zM227.9 67.25h10.1v1.20h-10.1zM237.7 71.25h10.1v1.20h-10.1zM296.6 72.25h10.1v1.20h-10.1zM159.1 73.25h10.1v1.20h-10.1zM335.9 73.25h10.1v1.20h-10.1zM159.1 75.25h10.1v2.20h-10.1zM129.6 78.25h10.1v1.20h-10.1zM168.9 81.25h10.1v1.20h-10.1zM365.3 88.25h10.1v1.20h-10.1zM188.6 97.25h10.1v2.20h-10.1zM316.2 104.25h10.1v1.20h-10.1zM110.0 106.25h10.1v1.20h-10.1zM335.9 124.25h10.1v2.20h-10.1zM139.5 130.25h10.1v2.20h-10.1zM159.1 130.25h10.1v2.20h-10.1zM218.0 132.25h10.1v2.20h-10.1zM326.1 134.25h10.1v2.20h-10.1zM149.3 138.25h10.1v1.20h-10.1zM139.5 139.25h10.1v1.20h-10.1zM218.0 140.25h10.1v3.20h-10.1zM149.3 141.25h10.1v2.20h-10.1zM139.5 144.25h10.1v1.20h-10.1zM149.3 144.25h10.1v1.20h-10.1zM257.3 159.25h10.1v3.20h-10.1zM218.0 160.25h10.1v2.20h-10.1zM257.3 163.25h10.1v1.20h-10.1zM257.3 165.25h10.1v1.20h-10.1zM198.4 171.25h10.1v2.20h-10.1zM306.4 171.25h10.1v2.20h-10.1zM119.8 193.25h10.1v1.20h-10.1zM129.6 196.25h10.1v1.20h-10.1z"/>
<path fill="#989030" d="M257.3 43.25h10.1v1.20h-10.1zM296.6 43.25h10.1v1.20h-10.1zM335.9 64.25h10.1v1.20h-10.1zM286.8 67.25h10.1v1.20h-10.1zM139.5 68.25h10.1v2.20h-10.1zM286.8 71.25h10.1v1.20h-10.1zM129.6 74.25h10.1v1.20h-10.1zM247.5 82.25h10.1v1.20h-10.1zM247.5 88.25h10.1v1.20h-10.1zM110.0 99.25h10.1v2.20h-10.1zM247.5 109.25h10.1v2.20h-10.1zM139.5 111.25h10.1v2.20h-10.1zM159.1 128.25h10.1v2.20h-10.1zM149.3 139.25h10.1v1.20h-10.1zM306.4 140.25h10.1v1.20h-10.1zM277.0 177.25h10.1v2.20h-10.1zM139.5 193.25h10.1v1.20h-10.1zM443.9 202.25h10.1v1.20h-10.1z"/>
<path fill="#c0c030" d="M277.0 43.25h10.1v1.20h-10.1zM286.8 53.25h10.1v1.20h-10.1zM129.6 61.25h10.1v1.20h-10.1zM168.9 66.25h10.1v1.20h-10.1zM139.5 71.25h10.1v1.20h-10.1zM178.7 85.25h10.1v1.20h-10.1zM139.5 89.25h10.1v2.20h-10.1zM178.7 95.25h10.1v2.20h-10.1zM168.9 99.25h10.1v2.20h-10.1zM316.2 116.25h10.1v2.20h-10.1zM375.2 116.25h10.1v2.20h-10.1zM316.2 119.25h10.1v2.20h-10.1zM168.9 144.25h10.1v1.20h-10.1zM178.7 163.25h10.1v1.20h-10.1zM208.2 171.25h10.1v2.20h-10.1zM473.4 205.25h10.1v2.20h-10.1zM404.6 211.25h10.1v1.20h-10.1z"/>
<path fill="#909028" d="M286.8 43.25h10.1v1.20h-10.1zM227.9 46.25h10.1v1.20h-10.1zM257.3 53.25h10.1v1.20h-10.1zM119.8 57.25h10.1v2.20h-10.1zM277.0 57.25h10.1v2.20h-10.1zM286.8 61.25h10.1v1.20h-10.1zM129.6 64.25h10.1v1.20h-10.1zM247.5 66.25h10.1v1.20h-10.1zM168.9 68.25h10.1v2.20h-10.1zM335.9 71.25h10.1v1.20h-10.1zM168.9 72.25h10.1v1.20h-10.1zM257.3 72.25h10.1v1.20h-10.1zM277.0 72.25h10.1v1.20h-10.1zM139.5 80.25h10.1v1.20h-10.1zM365.3 81.25h10.1v1.20h-10.1zM267.1 83.25h10.1v2.20h-10.1zM159.1 87.25h10.1v1.20h-10.1zM257.3 89.25h10.1v2.20h-10.1zM110.0 91.25h10.1v4.20h-10.1zM237.7 93.25h10.1v2.20h-10.1zM119.8 95.25h10.1v2.20h-10.1zM257.3 99.25h10.1v2.20h-10.1zM119.8 101.25h10.1v1.20h-10.1zM129.6 103.25h10.1v1.20h-10.1zM277.0 104.25h10.1v1.20h-10.1zM306.4 109.25h10.1v2.20h-10.1zM168.9 111.25h10.1v2.20h-10.1zM286.8 116.25h10.1v2.20h-10.1zM335.9 119.25h10.1v2.20h-10.1zM286.8 128.25h10.1v4.20h-10.1zM149.3 132.25h10.1v4.20h-10.1zM159.1 134.25h10.1v2.20h-10.1zM277.0 138.25h10.1v2.20h-10.1zM139.5 140.25h10.1v1.20h-10.1zM247.5 140.25h10.1v1.20h-10.1zM129.6 141.25h10.1v2.20h-10.1zM218.0 143.25h10.1v1.20h-10.1zM306.4 144.25h10.1v1.20h-10.1zM139.5 145.25h10.1v1.20h-10.1zM139.5 151.25h10.1v2.20h-10.1zM277.0 151.25h10.1v2.20h-10.1zM257.3 154.25h10.1v2.20h-10.1zM129.6 156.25h10.1v2.20h-10.1zM149.3 156.25h10.1v2.20h-10.1zM139.5 177.25h10.1v2.20h-10.1zM257.3 188.25h10.1v2.20h-10.1zM218.0 193.25h10.1v1.20h-10.1zM434.1 197.25h10.1v1.20h-10.1zM463.6 201.25h10.1v1.20h-10.1zM473.4 207.25h10.1v2.20h-10.1zM434.1 209.25h10.1v2.20h-10.1zM453.7 212.25h10.1v1.20h-10.1zM394.8 231.25h10.1v0.70h-10.1z"/>
<path fill="#686820" d="M306.4 43.25h10.1v1.20h-10.1zM267.1 52.25h10.1v1.20h-10.1zM306.4 52.25h10.1v1.20h-10.1zM365.3 52.25h10.1v1.20h-10.1zM335.9 53.25h10.1v1.20h-10.1zM335.9 61.25h10.1v1.20h-10.1zM237.7 67.25h10.1v3.20h-10.1zM247.5 67.25h10.1v1.20h-10.1zM306.4 68.25h10.1v2.20h-10.1zM227.9 70.25h10.1v1.20h-10.1zM316.2 74.25h10.1v1.20h-10.1zM110.0 78.25h10.1v1.20h-10.1zM345.7 81.25h10.1v1.20h-10.1zM365.3 82.25h10.1v1.20h-10.1zM237.7 89.25h10.1v2.20h-10.1zM149.3 105.25h10.1v1.20h-10.1zM277.0 126.25h10.1v1.20h-10.1zM129.6 130.25h10.1v2.20h-10.1zM188.6 162.25h10.1v1.20h-10.1zM218.0 165.25h10.1v1.20h-10.1zM119.8 166.25h10.1v1.20h-10.1zM149.3 180.25h10.1v1.20h-10.1zM110.0 181.25h10.1v2.20h-10.1zM168.9 184.25h10.1v2.20h-10.1zM149.3 190.25h10.1v1.20h-10.1zM277.0 193.25h10.1v1.20h-10.1zM257.3 196.25h10.1v1.20h-10.1zM434.1 201.25h10.1v1.20h-10.1zM453.7 211.25h10.1v1.20h-10.1z"/>
<path fill="#808028" d="M335.9 43.25h10.1v1.20h-10.1zM139.5 46.25h10.1v1.20h-10.1zM296.6 46.25h10.1v1.20h-10.1zM306.4 49.25h10.1v2.20h-10.1zM345.7 52.25h10.1v1.20h-10.1zM110.0 55.25h10.1v2.20h-10.1zM237.7 60.25h10.1v1.20h-10.1zM306.4 60.25h10.1v1.20h-10.1zM139.5 64.25h10.1v1.20h-10.1zM110.0 66.25h10.1v1.20h-10.1zM227.9 66.25h10.1v1.20h-10.1zM345.7 68.25h10.1v2.20h-10.1zM119.8 72.25h10.1v1.20h-10.1zM139.5 74.25h10.1v1.20h-10.1zM277.0 74.25h10.1v1.20h-10.1zM277.0 89.25h10.1v2.20h-10.1zM149.3 91.25h10.1v4.20h-10.1zM267.1 91.25h10.1v2.20h-10.1zM247.5 93.25h10.1v2.20h-10.1zM178.7 99.25h10.1v2.20h-10.1zM110.0 101.25h10.1v1.20h-10.1zM149.3 104.25h10.1v1.20h-10.1zM188.6 104.25h10.1v1.20h-10.1zM286.8 104.25h10.1v1.20h-10.1zM286.8 109.25h10.1v2.20h-10.1zM277.0 111.25h10.1v2.20h-10.1zM188.6 115.25h10.1v1.20h-10.1zM237.7 116.25h10.1v2.20h-10.1zM119.8 121.25h10.1v1.20h-10.1zM316.2 122.25h10.1v2.20h-10.1zM306.4 124.25h10.1v2.20h-10.1zM286.8 126.25h10.1v1.20h-10.1zM110.0 127.25h10.1v1.20h-10.1zM316.2 130.25h10.1v2.20h-10.1zM110.0 132.25h10.1v2.20h-10.1zM119.8 134.25h10.1v2.20h-10.1zM168.9 134.25h10.1v2.20h-10.1zM129.6 136.25h10.1v3.20h-10.1zM139.5 138.25h10.1v1.20h-10.1zM159.1 138.25h10.1v1.20h-10.1zM218.0 138.25h10.1v1.20h-10.1zM326.1 140.25h10.1v1.20h-10.1zM110.0 141.25h10.1v2.20h-10.1zM306.4 141.25h10.1v2.20h-10.1zM159.1 144.25h10.1v1.20h-10.1zM335.9 144.25h10.1v2.20h-10.1zM149.3 149.25h10.1v2.20h-10.1zM159.1 154.25h10.1v2.20h-10.1zM149.3 159.25h10.1v1.20h-10.1zM247.5 160.25h10.1v2.20h-10.1zM168.9 162.25h10.1v1.20h-10.1zM178.7 166.25h10.1v1.20h-10.1zM277.0 167.25h10.1v2.20h-10.1zM110.0 186.25h10.1v2.20h-10.1zM119.8 186.25h10.1v2.20h-10.1zM267.1 186.25h10.1v2.20h-10.1zM129.6 192.25h10.1v1.20h-10.1zM139.5 192.25h10.1v1.20h-10.1zM257.3 193.25h10.1v1.20h-10.1zM139.5 196.25h10.1v1.20h-10.1zM463.6 203.25h10.1v1.20h-10.1zM424.3 207.25h10.1v2.20h-10.1zM443.9 217.25h10.1v2.20h-10.1zM414.5 219.25h10.1v2.20h-10.1z"/>
<path fill="#2848f0" d="M385.0 43.25h10.1v1.20h-10.1zM453.7 53.25h10.1v1.20h-10.1zM473.4 62.25h10.1v2.20h-10.1zM404.6 66.25h10.1v1.20h-10.1zM385.0 67.25h10.1v1.20h-10.1zM453.7 74.25h10.1v1.20h-10.1zM443.9 78.25h10.1v1.20h-10.1zM414.5 83.25h10.1v2.20h-10.1zM473.4 91.25h10.1v2.20h-10.1zM404.6 105.25h10.1v1.20h-10.1zM414.5 106.25h10.1v1.20h-10.1zM473.4 127.25h10.1v1.20h-10.1zM178.7 128.25h10.1v2.20h-10.1zM424.3 145.25h10.1v1.20h-10.1zM473.4 154.25h10.1v2.20h-10.1zM404.6 159.25h10.1v1.20h-10.1zM414.5 171.25h10.1v2.20h-10.1zM414.5 183.25h10.1v1.20h-10.1zM129.6 200.25h10.1v1.20h-10.1zM168.9 200.25h10.1v1.20h-10.1zM218.0 202.25h10.1v1.20h-10.1zM139.5 219.25h10.1v2.20h-10.1z"/>
<path fill="#2850ff" d="M404.6 43.25h10.1v1.20h-10.1zM385.0 46.25h10.1v1.20h-10.1zM404.6 52.25h10.1v2.20h-10.1zM394.8 57.25h10.1v2.20h-10.1zM404.6 60.25h10.1v1.20h-10.1zM385.0 62.25h10.1v3.20h-10.1zM394.8 62.25h10.1v2.20h-10.1zM385.0 71.25h10.1v1.20h-10.1zM394.8 72.25h10.1v1.20h-10.1zM404.6 78.25h10.1v1.20h-10.1zM198.4 80.25h10.1v1.20h-10.1zM414.5 81.25h10.1v2.20h-10.1zM414.5 85.25h10.1v1.20h-10.1zM404.6 91.25h10.1v2.20h-10.1zM385.0 93.25h10.1v4.20h-10.1zM404.6 95.25h10.1v4.20h-10.1zM404.6 106.25h10.1v1.20h-10.1zM453.7 106.25h10.1v1.20h-10.1zM453.7 115.25h10.1v1.20h-10.1zM404.6 116.25h10.1v2.20h-10.1zM414.5 124.25h10.1v2.20h-10.1zM414.5 130.25h10.1v2.20h-10.1zM188.6 132.25h10.1v4.20h-10.1zM198.4 132.25h10.1v4.20h-10.1zM443.9 141.25h10.1v2.20h-10.1zM404.6 145.25h10.1v1.20h-10.1zM414.5 145.25h10.1v1.20h-10.1zM414.5 160.25h10.1v2.20h-10.1zM404.6 179.25h10.1v1.20h-10.1zM414.5 181.25h10.1v2.20h-10.1zM414.5 186.25h10.1v4.20h-10.1zM434.1 186.25h10.1v2.20h-10.1zM168.9 204.25h10.1v1.20h-10.1zM129.6 211.25h10.1v2.20h-10.1zM168.9 211.25h10.1v2.20h-10.1zM139.5 215.25h10.1v2.20h-10.1zM168.9 215.25h10.1v2.20h-10.1zM129.6 224.25h10.1v2.20h-10.1zM129.6 228.25h10.1v1.20h-10.1zM139.5 228.25h10.1v1.20h-10.1zM168.9 228.25h10.1v1.20h-10.1z"/>
<path fill="#101030" d="M414.5 43.25h10.1v1.20h-10.1zM414.5 46.25h10.1v1.20h-10.1zM326.1 48.25h10.1v1.20h-10.1zM414.5 51.25h10.1v1.20h-10.1zM188.6 53.25h10.1v1.20h-10.1zM473.4 54.25h10.1v1.20h-10.1zM188.6 57.25h10.1v2.20h-10.1zM375.2 57.25h10.1v2.20h-10.1zM424.3 57.25h10.1v2.20h-10.1zM434.1 59.25h10.1v1.20h-10.1zM208.2 60.25h10.1v2.20h-10.1zM424.3 60.25h10.1v1.20h-10.1zM414.5 61.25h10.1v1.20h-10.1zM434.1 61.25h10.1v1.20h-10.1zM375.2 62.25h10.1v2.20h-10.1zM159.1 64.25h10.1v1.20h-10.1zM208.2 64.25h10.1v1.20h-10.1zM208.2 67.25h10.1v1.20h-10.1zM375.2 68.25h10.1v3.20h-10.1zM208.2 70.25h10.1v1.20h-10.1zM178.7 73.25h10.1v1.20h-10.1zM257.3 73.25h10.1v1.20h-10.1zM237.7 74.25h10.1v1.20h-10.1zM375.2 75.25h10.1v2.20h-10.1zM178.7 77.25h10.1v1.20h-10.1zM257.3 78.25h10.1v1.20h-10.1zM237.7 79.25h10.1v2.20h-10.1zM326.1 81.25h10.1v2.20h-10.1zM443.9 81.25h10.1v1.20h-10.1zM237.7 82.25h10.1v1.20h-10.1zM316.2 82.25h10.1v1.20h-10.1zM316.2 85.25h10.1v1.20h-10.1zM326.1 85.25h10.1v1.20h-10.1zM335.9 86.25h10.1v1.20h-10.1zM326.1 87.25h10.1v1.20h-10.1zM355.5 87.25h10.1v1.20h-10.1zM375.2 87.25h10.1v1.20h-10.1zM443.9 88.25h10.1v1.20h-10.1zM198.4 89.25h10.1v2.20h-10.1zM296.6 91.25h10.1v2.20h-10.1zM159.1 95.25h10.1v2.20h-10.1zM375.2 95.25h10.1v2.20h-10.1zM198.4 101.25h10.1v2.20h-10.1zM296.6 103.25h10.1v1.20h-10.1zM326.1 111.25h10.1v2.20h-10.1zM473.4 114.25h10.1v1.20h-10.1zM208.2 115.25h10.1v3.20h-10.1zM208.2 121.25h10.1v3.20h-10.1zM237.7 121.25h10.1v5.20h-10.1zM375.2 121.25h10.1v1.20h-10.1zM149.3 124.25h10.1v2.20h-10.1zM188.6 124.25h10.1v2.20h-10.1zM375.2 124.25h10.1v2.20h-10.1zM159.1 127.25h10.1v1.20h-10.1zM208.2 128.25h10.1v2.20h-10.1zM375.2 128.25h10.1v2.20h-10.1zM227.9 130.25h10.1v2.20h-10.1zM257.3 130.25h10.1v2.20h-10.1zM208.2 132.25h10.1v4.20h-10.1zM227.9 134.25h10.1v2.20h-10.1zM237.7 134.25h10.1v2.20h-10.1zM375.2 136.25h10.1v2.20h-10.1zM473.4 136.25h10.1v3.20h-10.1zM257.3 138.25h10.1v1.20h-10.1zM208.2 139.25h10.1v1.20h-10.1zM208.2 141.25h10.1v4.20h-10.1zM257.3 143.25h10.1v2.20h-10.1zM375.2 151.25h10.1v2.20h-10.1zM375.2 158.25h10.1v1.20h-10.1zM335.9 162.25h10.1v1.20h-10.1zM375.2 162.25h10.1v1.20h-10.1zM453.7 162.25h10.1v1.20h-10.1zM159.1 164.25h10.1v1.20h-10.1zM355.5 164.25h10.1v1.20h-10.1zM326.1 166.25h10.1v1.20h-10.1zM375.2 169.25h10.1v2.20h-10.1zM375.2 173.25h10.1v1.20h-10.1zM237.7 177.25h10.1v2.20h-10.1zM375.2 177.25h10.1v2.20h-10.1zM159.1 179.25h10.1v1.20h-10.1zM267.1 179.25h10.1v1.20h-10.1zM296.6 179.25h10.1v1.20h-10.1zM335.9 179.25h10.1v1.20h-10.1zM385.0 180.25h10.1v1.20h-10.1zM326.1 181.25h10.1v2.20h-10.1zM375.2 181.25h10.1v2.20h-10.1zM453.7 183.25h10.1v1.20h-10.1zM159.1 188.25h10.1v2.20h-10.1zM296.6 188.25h10.1v3.20h-10.1zM306.4 188.25h10.1v2.20h-10.1zM365.3 188.25h10.1v2.20h-10.1zM335.9 190.25h10.1v1.20h-10.1zM326.1 192.25h10.1v1.20h-10.1zM345.7 193.25h10.1v1.20h-10.1zM335.9 194.25h10.1v1.20h-10.1zM326.1 195.25h10.1v1.20h-10.1zM119.8 197.25h10.1v1.20h-10.1zM159.1 197.25h10.1v1.20h-10.1zM267.1 197.25h10.1v1.20h-10.1zM277.0 197.25h10.1v1.20h-10.1zM168.9 198.25h10.1v2.20h-10.1zM218.0 198.25h10.1v2.20h-10.1zM385.0 198.25h10.1v2.20h-10.1zM394.8 198.25h10.1v2.20h-10.1zM277.0 200.25h10.1v2.20h-10.1zM119.8 201.25h10.1v1.20h-10.1zM159.1 201.25h10.1v2.20h-10.1zM178.7 201.25h10.1v1.20h-10.1zM247.5 201.25h10.1v1.20h-10.1zM257.3 201.25h10.1v1.20h-10.1zM394.8 201.25h10.1v1.20h-10.1zM385.0 202.25h10.1v1.20h-10.1zM237.7 203.25h10.1v1.20h-10.1zM277.0 203.25h10.1v1.20h-10.1zM218.0 205.25h10.1v2.20h-10.1zM277.0 207.25h10.1v2.20h-10.1zM139.5 209.25h10.1v2.20h-10.1zM316.2 209.25h10.1v2.20h-10.1zM306.4 212.25h10.1v1.20h-10.1zM119.8 213.25h10.1v2.20h-10.1zM178.7 213.25h10.1v2.20h-10.1zM218.0 213.25h10.1v2.20h-10.1zM316.2 213.25h10.1v2.20h-10.1zM149.3 215.25h10.1v2.20h-10.1zM247.5 215.25h10.1v2.20h-10.1zM218.0 217.25h10.1v2.20h-10.1zM355.5 217.25h10.1v2.20h-10.1zM316.2 221.25h10.1v2.20h-10.1zM335.9 221.25h10.1v2.20h-10.1zM345.7 221.25h10.1v2.20h-10.1zM414.5 221.25h10.1v2.20h-10.1zM424.3 221.25h10.1v2.20h-10.1zM139.5 223.25h10.1v1.20h-10.1zM188.6 223.25h10.1v1.20h-10.1zM306.4 224.25h10.1v2.20h-10.1zM424.3 224.25h10.1v2.20h-10.1zM149.3 226.25h10.1v2.20h-10.1zM188.6 226.25h10.1v2.20h-10.1zM267.1 226.25h10.1v2.20h-10.1zM218.0 228.25h10.1v1.20h-10.1zM257.3 229.25h10.1v1.20h-10.1zM414.5 229.25h10.1v1.20h-10.1zM424.3 229.25h10.1v1.20h-10.1zM119.8 231.25h10.1v0.70h-10.1zM306.4 231.25h10.1v0.70h-10.1zM316.2 231.25h10.1v0.70h-10.1zM414.5 231.25h10.1v0.70h-10.1z"/>
<path fill="#182880" d="M443.9 43.25h10.1v1.20h-10.1zM443.9 46.25h10.1v1.20h-10.1zM385.0 49.25h10.1v2.20h-10.1zM414.5 55.25h10.1v2.20h-10.1zM473.4 59.25h10.1v1.20h-10.1zM198.4 64.25h10.1v1.20h-10.1zM443.9 64.25h10.1v1.20h-10.1zM473.4 67.25h10.1v1.20h-10.1zM473.4 72.25h10.1v1.20h-10.1zM404.6 79.25h10.1v1.20h-10.1zM453.7 79.25h10.1v1.20h-10.1zM463.6 79.25h10.1v1.20h-10.1zM453.7 81.25h10.1v1.20h-10.1zM463.6 81.25h10.1v1.20h-10.1zM394.8 82.25h10.1v1.20h-10.1zM434.1 83.25h10.1v4.20h-10.1zM394.8 85.25h10.1v1.20h-10.1zM375.2 86.25h10.1v1.20h-10.1zM257.3 87.25h10.1v1.20h-10.1zM424.3 87.25h10.1v1.20h-10.1zM434.1 89.25h10.1v2.20h-10.1zM198.4 91.25h10.1v2.20h-10.1zM424.3 91.25h10.1v2.20h-10.1zM414.5 99.25h10.1v2.20h-10.1zM434.1 101.25h10.1v1.20h-10.1zM414.5 102.25h10.1v1.20h-10.1zM434.1 105.25h10.1v1.20h-10.1zM463.6 105.25h10.1v1.20h-10.1zM424.3 106.25h10.1v1.20h-10.1zM473.4 106.25h10.1v1.20h-10.1zM394.8 107.25h10.1v2.20h-10.1zM385.0 109.25h10.1v2.20h-10.1zM443.9 109.25h10.1v2.20h-10.1zM473.4 109.25h10.1v2.20h-10.1zM414.5 111.25h10.1v2.20h-10.1zM424.3 111.25h10.1v2.20h-10.1zM473.4 113.25h10.1v1.20h-10.1zM198.4 115.25h10.1v1.20h-10.1zM414.5 118.25h10.1v1.20h-10.1zM443.9 119.25h10.1v2.20h-10.1zM385.0 122.25h10.1v2.20h-10.1zM453.7 124.25h10.1v2.20h-10.1zM473.4 124.25h10.1v2.20h-10.1zM178.7 130.25h10.1v2.20h-10.1zM424.3 132.25h10.1v2.20h-10.1zM443.9 134.25h10.1v2.20h-10.1zM178.7 136.25h10.1v2.20h-10.1zM198.4 141.25h10.1v2.20h-10.1zM473.4 143.25h10.1v1.20h-10.1zM424.3 148.25h10.1v1.20h-10.1zM424.3 153.25h10.1v1.20h-10.1zM443.9 153.25h10.1v1.20h-10.1zM453.7 153.25h10.1v1.20h-10.1zM473.4 153.25h10.1v1.20h-10.1zM434.1 154.25h10.1v2.20h-10.1zM385.0 156.25h10.1v2.20h-10.1zM424.3 156.25h10.1v2.20h-10.1zM394.8 159.25h10.1v1.20h-10.1zM424.3 160.25h10.1v2.20h-10.1zM463.6 162.25h10.1v1.20h-10.1zM473.4 163.25h10.1v1.20h-10.1zM326.1 165.25h10.1v1.20h-10.1zM463.6 165.25h10.1v1.20h-10.1zM443.9 167.25h10.1v2.20h-10.1zM434.1 171.25h10.1v2.20h-10.1zM443.9 179.25h10.1v1.20h-10.1zM394.8 181.25h10.1v2.20h-10.1zM424.3 183.25h10.1v1.20h-10.1zM394.8 188.25h10.1v2.20h-10.1zM463.6 190.25h10.1v2.20h-10.1zM394.8 193.25h10.1v1.20h-10.1zM404.6 196.25h10.1v1.20h-10.1zM247.5 202.25h10.1v1.20h-10.1zM227.9 204.25h10.1v1.20h-10.1zM257.3 204.25h10.1v1.20h-10.1zM178.7 212.25h10.1v1.20h-10.1zM110.0 217.25h10.1v2.20h-10.1zM129.6 219.25h10.1v2.20h-10.1zM277.0 221.25h10.1v2.20h-10.1zM385.0 223.25h10.1v1.20h-10.1zM110.0 224.25h10.1v2.20h-10.1zM237.7 224.25h10.1v2.20h-10.1zM414.5 224.25h10.1v2.20h-10.1zM159.1 229.25h10.1v1.20h-10.1z"/>
<path fill="#102060" d="M198.4 44.25h10.1v2.20h-10.1zM198.4 47.25h10.1v1.20h-10.1zM463.6 48.25h10.1v1.20h-10.1zM453.7 51.25h10.1v1.20h-10.1zM198.4 52.25h10.1v1.20h-10.1zM434.1 57.25h10.1v2.20h-10.1zM434.1 60.25h10.1v1.20h-10.1zM394.8 61.25h10.1v1.20h-10.1zM434.1 62.25h10.1v2.20h-10.1zM414.5 73.25h10.1v1.20h-10.1zM424.3 75.25h10.1v2.20h-10.1zM473.4 75.25h10.1v2.20h-10.1zM394.8 77.25h10.1v1.20h-10.1zM385.0 78.25h10.1v1.20h-10.1zM414.5 79.25h10.1v1.20h-10.1zM394.8 80.25h10.1v1.20h-10.1zM424.3 80.25h10.1v1.20h-10.1zM443.9 80.25h10.1v1.20h-10.1zM375.2 81.25h10.1v1.20h-10.1zM385.0 81.25h10.1v1.20h-10.1zM473.4 81.25h10.1v1.20h-10.1zM208.2 86.25h10.1v1.20h-10.1zM296.6 86.25h10.1v1.20h-10.1zM453.7 87.25h10.1v1.20h-10.1zM208.2 88.25h10.1v1.20h-10.1zM463.6 88.25h10.1v1.20h-10.1zM375.2 91.25h10.1v2.20h-10.1zM443.9 103.25h10.1v2.20h-10.1zM443.9 113.25h10.1v1.20h-10.1zM424.3 114.25h10.1v1.20h-10.1zM385.0 115.25h10.1v4.20h-10.1zM198.4 116.25h10.1v2.20h-10.1zM198.4 121.25h10.1v1.20h-10.1zM394.8 122.25h10.1v2.20h-10.1zM257.3 126.25h10.1v1.20h-10.1zM385.0 126.25h10.1v1.20h-10.1zM394.8 126.25h10.1v1.20h-10.1zM178.7 138.25h10.1v1.20h-10.1zM414.5 144.25h10.1v1.20h-10.1zM434.1 153.25h10.1v1.20h-10.1zM375.2 154.25h10.1v2.20h-10.1zM453.7 154.25h10.1v2.20h-10.1zM404.6 158.25h10.1v1.20h-10.1zM159.1 163.25h10.1v1.20h-10.1zM296.6 163.25h10.1v1.20h-10.1zM453.7 164.25h10.1v1.20h-10.1zM394.8 166.25h10.1v1.20h-10.1zM453.7 167.25h10.1v2.20h-10.1zM159.1 169.25h10.1v2.20h-10.1zM463.6 169.25h10.1v4.20h-10.1zM424.3 174.25h10.1v1.20h-10.1zM159.1 177.25h10.1v2.20h-10.1zM424.3 180.25h10.1v1.20h-10.1zM385.0 190.25h10.1v1.20h-10.1zM443.9 190.25h10.1v1.20h-10.1zM394.8 191.25h10.1v1.20h-10.1zM385.0 192.25h10.1v1.20h-10.1zM424.3 192.25h10.1v1.20h-10.1zM463.6 195.25h10.1v1.20h-10.1zM139.5 200.25h10.1v3.20h-10.1zM247.5 200.25h10.1v1.20h-10.1zM257.3 200.25h10.1v1.20h-10.1zM188.6 201.25h10.1v1.20h-10.1zM168.9 203.25h10.1v1.20h-10.1zM218.0 212.25h10.1v1.20h-10.1zM188.6 213.25h10.1v2.20h-10.1zM159.1 219.25h10.1v2.20h-10.1zM110.0 221.25h10.1v2.20h-10.1zM257.3 224.25h10.1v2.20h-10.1zM178.7 229.25h10.1v1.20h-10.1zM247.5 229.25h10.1v1.20h-10.1zM267.1 229.25h10.1v1.20h-10.1zM277.0 229.25h10.1v1.20h-10.1zM110.0 231.25h10.1v0.70h-10.1zM227.9 231.25h10.1v0.70h-10.1z"/>
<path fill="#2038c8" d="M385.0 44.25h10.1v2.20h-10.1zM453.7 57.25h10.1v2.20h-10.1zM424.3 85.25h10.1v1.20h-10.1zM404.6 130.25h10.1v2.20h-10.1zM434.1 145.25h10.1v1.20h-10.1zM404.6 181.25h10.1v2.20h-10.1zM414.5 195.25h10.1v1.20h-10.1zM129.6 205.25h10.1v2.20h-10.1zM110.0 211.25h10.1v1.20h-10.1zM129.6 221.25h10.1v2.20h-10.1zM168.9 229.25h10.1v1.20h-10.1z"/>
<path fill="#2030b0" d="M453.7 44.25h10.1v2.20h-10.1zM463.6 49.25h10.1v2.20h-10.1zM404.6 68.25h10.1v2.20h-10.1zM453.7 83.25h10.1v2.20h-10.1zM424.3 101.25h10.1v1.20h-10.1zM424.3 105.25h10.1v1.20h-10.1zM453.7 134.25h10.1v2.20h-10.1zM463.6 134.25h10.1v2.20h-10.1zM463.6 143.25h10.1v1.20h-10.1zM394.8 146.25h10.1v2.20h-10.1zM434.1 146.25h10.1v2.20h-10.1zM404.6 171.25h10.1v2.20h-10.1zM404.6 184.25h10.1v2.20h-10.1zM463.6 186.25h10.1v2.20h-10.1zM404.6 191.25h10.1v1.20h-10.1zM414.5 191.25h10.1v1.20h-10.1zM139.5 212.25h10.1v1.20h-10.1zM385.0 224.25h10.1v2.20h-10.1z"/>
<path fill="#2038c0" d="M463.6 44.25h10.1v2.20h-10.1zM404.6 47.25h10.1v2.20h-10.1zM453.7 60.25h10.1v1.20h-10.1zM453.7 62.25h10.1v2.20h-10.1zM404.6 64.25h10.1v2.20h-10.1zM453.7 66.25h10.1v1.20h-10.1zM463.6 67.25h10.1v1.20h-10.1zM404.6 72.25h10.1v1.20h-10.1zM473.4 80.25h10.1v1.20h-10.1zM404.6 82.25h10.1v1.20h-10.1zM414.5 86.25h10.1v1.20h-10.1zM453.7 89.25h10.1v2.20h-10.1zM473.4 89.25h10.1v2.20h-10.1zM434.1 91.25h10.1v2.20h-10.1zM453.7 95.25h10.1v2.20h-10.1zM473.4 102.25h10.1v1.20h-10.1zM385.0 103.25h10.1v2.20h-10.1zM394.8 103.25h10.1v2.20h-10.1zM404.6 121.25h10.1v1.20h-10.1zM404.6 126.25h10.1v1.20h-10.1zM473.4 132.25h10.1v2.20h-10.1zM443.9 136.25h10.1v2.20h-10.1zM463.6 139.25h10.1v1.20h-10.1zM424.3 141.25h10.1v2.20h-10.1zM463.6 141.25h10.1v2.20h-10.1zM443.9 144.25h10.1v1.20h-10.1zM463.6 144.25h10.1v2.20h-10.1zM463.6 158.25h10.1v1.20h-10.1zM404.6 160.25h10.1v2.20h-10.1zM434.1 163.25h10.1v1.20h-10.1zM404.6 164.25h10.1v1.20h-10.1zM424.3 167.25h10.1v2.20h-10.1zM434.1 169.25h10.1v2.20h-10.1zM385.0 173.25h10.1v2.20h-10.1zM414.5 173.25h10.1v1.20h-10.1zM473.4 179.25h10.1v1.20h-10.1zM404.6 183.25h10.1v1.20h-10.1zM424.3 186.25h10.1v2.20h-10.1zM473.4 188.25h10.1v2.20h-10.1zM424.3 191.25h10.1v1.20h-10.1zM424.3 193.25h10.1v1.20h-10.1zM424.3 195.25h10.1v1.20h-10.1zM218.0 197.25h10.1v1.20h-10.1zM385.0 215.25h10.1v2.20h-10.1zM394.8 215.25h10.1v2.20h-10.1zM168.9 217.25h10.1v2.20h-10.1zM178.7 224.25h10.1v2.20h-10.1zM277.0 224.25h10.1v2.20h-10.1z"/>
<path fill="#c0b830" d="M129.6 46.25h10.1v1.20h-10.1zM149.3 82.25h10.1v1.20h-10.1zM365.3 83.25h10.1v2.20h-10.1zM178.7 86.25h10.1v1.20h-10.1zM129.6 87.25h10.1v1.20h-10.1zM247.5 87.25h10.1v1.20h-10.1zM129.6 89.25h10.1v2.20h-10.1zM257.3 91.25h10.1v2.20h-10.1zM277.0 91.25h10.1v2.20h-10.1zM119.8 93.25h10.1v2.20h-10.1zM129.6 101.25h10.1v1.20h-10.1zM286.8 105.25h10.1v1.20h-10.1zM110.0 107.25h10.1v2.20h-10.1zM316.2 107.25h10.1v2.20h-10.1zM110.0 115.25h10.1v1.20h-10.1zM139.5 119.25h10.1v2.20h-10.1zM316.2 128.25h10.1v2.20h-10.1zM286.8 138.25h10.1v1.20h-10.1zM385.0 229.25h10.1v1.20h-10.1z"/>
<path fill="#707028" d="M159.1 46.25h10.1v1.20h-10.1zM355.5 49.25h10.1v2.20h-10.1zM178.7 53.25h10.1v1.20h-10.1zM168.9 59.25h10.1v1.20h-10.1zM110.0 60.25h10.1v1.20h-10.1zM247.5 60.25h10.1v1.20h-10.1zM110.0 62.25h10.1v2.20h-10.1zM286.8 66.25h10.1v1.20h-10.1zM345.7 66.25h10.1v1.20h-10.1zM129.6 67.25h10.1v1.20h-10.1zM345.7 72.25h10.1v1.20h-10.1zM149.3 74.25h10.1v1.20h-10.1zM277.0 75.25h10.1v2.20h-10.1zM306.4 78.25h10.1v1.20h-10.1zM365.3 78.25h10.1v1.20h-10.1zM316.2 80.25h10.1v1.20h-10.1zM326.1 80.25h10.1v1.20h-10.1zM188.6 81.25h10.1v1.20h-10.1zM188.6 83.25h10.1v2.20h-10.1zM277.0 87.25h10.1v1.20h-10.1zM247.5 91.25h10.1v2.20h-10.1zM110.0 97.25h10.1v2.20h-10.1zM168.9 106.25h10.1v1.20h-10.1zM306.4 107.25h10.1v2.20h-10.1zM119.8 109.25h10.1v2.20h-10.1zM277.0 116.25h10.1v2.20h-10.1zM335.9 116.25h10.1v2.20h-10.1zM168.9 119.25h10.1v2.20h-10.1zM188.6 119.25h10.1v2.20h-10.1zM237.7 119.25h10.1v2.20h-10.1zM316.2 121.25h10.1v1.20h-10.1zM110.0 124.25h10.1v2.20h-10.1zM316.2 124.25h10.1v2.20h-10.1zM316.2 127.25h10.1v1.20h-10.1zM168.9 132.25h10.1v2.20h-10.1zM129.6 139.25h10.1v1.20h-10.1zM110.0 144.25h10.1v1.20h-10.1zM296.6 145.25h10.1v1.20h-10.1zM208.2 154.25h10.1v2.20h-10.1zM159.1 156.25h10.1v2.20h-10.1zM129.6 159.25h10.1v1.20h-10.1zM110.0 160.25h10.1v2.20h-10.1zM247.5 165.25h10.1v1.20h-10.1zM277.0 165.25h10.1v1.20h-10.1zM198.4 167.25h10.1v2.20h-10.1zM257.3 167.25h10.1v2.20h-10.1zM286.8 173.25h10.1v1.20h-10.1zM257.3 174.25h10.1v1.20h-10.1zM129.6 180.25h10.1v1.20h-10.1zM119.8 183.25h10.1v1.20h-10.1zM198.4 183.25h10.1v1.20h-10.1zM139.5 188.25h10.1v2.20h-10.1zM119.8 194.25h10.1v1.20h-10.1zM414.5 201.25h10.1v1.20h-10.1zM404.6 207.25h10.1v2.20h-10.1zM404.6 212.25h10.1v1.20h-10.1zM463.6 213.25h10.1v2.20h-10.1zM414.5 217.25h10.1v2.20h-10.1zM473.4 219.25h10.1v2.20h-10.1z"/>
<path fill="#fff840" d="M168.9 46.25h10.1v1.20h-10.1zM129.6 52.25h10.1v2.20h-10.1zM139.5 52.25h10.1v1.20h-10.1zM168.9 52.25h10.1v2.20h-10.1zM129.6 55.25h10.1v2.20h-10.1zM168.9 55.25h10.1v2.20h-10.1zM286.8 60.25h10.1v1.20h-10.1zM110.0 81.25h10.1v1.20h-10.1zM129.6 81.25h10.1v6.20h-10.1zM139.5 81.25h10.1v7.20h-10.1zM110.0 85.25h10.1v1.20h-10.1zM149.3 86.25h10.1v1.20h-10.1zM129.6 88.25h10.1v1.20h-10.1zM129.6 91.25h10.1v6.20h-10.1zM139.5 91.25h10.1v6.20h-10.1zM129.6 99.25h10.1v2.20h-10.1zM129.6 104.25h10.1v2.20h-10.1zM168.9 104.25h10.1v1.20h-10.1zM139.5 105.25h10.1v1.20h-10.1zM129.6 107.25h10.1v4.20h-10.1zM129.6 115.25h10.1v3.20h-10.1zM129.6 119.25h10.1v2.20h-10.1zM139.5 124.25h10.1v4.20h-10.1zM316.2 132.25h10.1v2.20h-10.1zM168.9 136.25h10.1v2.20h-10.1zM159.1 139.25h10.1v1.20h-10.1zM168.9 143.25h10.1v1.20h-10.1zM286.8 144.25h10.1v1.20h-10.1zM168.9 145.25h10.1v1.20h-10.1zM316.2 145.25h10.1v1.20h-10.1zM168.9 151.25h10.1v2.20h-10.1zM168.9 154.25h10.1v2.20h-10.1zM168.9 158.25h10.1v1.20h-10.1zM129.6 160.25h10.1v2.20h-10.1zM129.6 163.25h10.1v1.20h-10.1zM139.5 163.25h10.1v1.20h-10.1zM168.9 163.25h10.1v1.20h-10.1zM188.6 163.25h10.1v1.20h-10.1zM129.6 171.25h10.1v2.20h-10.1zM149.3 171.25h10.1v3.20h-10.1zM168.9 171.25h10.1v2.20h-10.1zM178.7 171.25h10.1v3.20h-10.1zM188.6 171.25h10.1v3.20h-10.1zM277.0 173.25h10.1v1.20h-10.1zM168.9 177.25h10.1v2.20h-10.1zM178.7 177.25h10.1v2.20h-10.1zM188.6 177.25h10.1v2.20h-10.1zM168.9 181.25h10.1v2.20h-10.1zM178.7 181.25h10.1v3.20h-10.1zM188.6 181.25h10.1v3.20h-10.1zM168.9 186.25h10.1v5.20h-10.1zM178.7 186.25h10.1v5.20h-10.1zM188.6 186.25h10.1v2.20h-10.1zM129.6 188.25h10.1v2.20h-10.1zM178.7 193.25h10.1v1.20h-10.1zM188.6 193.25h10.1v1.20h-10.1zM178.7 196.25h10.1v1.20h-10.1zM414.5 200.25h10.1v1.20h-10.1zM424.3 200.25h10.1v1.20h-10.1zM463.6 200.25h10.1v1.20h-10.1zM414.5 202.25h10.1v1.20h-10.1zM424.3 202.25h10.1v1.20h-10.1zM463.6 202.25h10.1v1.20h-10.1zM414.5 204.25h10.1v1.20h-10.1zM424.3 204.25h10.1v1.20h-10.1zM463.6 204.25h10.1v1.20h-10.1zM434.1 211.25h10.1v2.20h-10.1zM473.4 221.25h10.1v2.20h-10.1zM463.6 224.25h10.1v2.20h-10.1zM385.0 228.25h10.1v1.20h-10.1zM404.6 228.25h10.1v2.20h-10.1zM453.7 228.25h10.1v1.20h-10.1zM473.4 228.25h10.1v1.20h-10.1zM404.6 231.25h10.1v0.70h-10.1z"/>
<path fill="#505020" d="M178.7 46.25h10.1v1.20h-10.1zM237.7 46.25h10.1v1.20h-10.1zM218.0 49.25h10.1v2.20h-10.1zM257.3 49.25h10.1v2.20h-10.1zM296.6 49.25h10.1v2.20h-10.1zM335.9 49.25h10.1v2.20h-10.1zM159.1 52.25h10.1v2.20h-10.1zM218.0 53.25h10.1v1.20h-10.1zM365.3 53.25h10.1v1.20h-10.1zM119.8 54.25h10.1v1.20h-10.1zM326.1 55.25h10.1v2.20h-10.1zM257.3 57.25h10.1v2.20h-10.1zM110.0 59.25h10.1v1.20h-10.1zM306.4 59.25h10.1v1.20h-10.1zM257.3 60.25h10.1v1.20h-10.1zM247.5 61.25h10.1v1.20h-10.1zM316.2 61.25h10.1v1.20h-10.1zM119.8 64.25h10.1v1.20h-10.1zM227.9 64.25h10.1v1.20h-10.1zM286.8 64.25h10.1v1.20h-10.1zM159.1 67.25h10.1v1.20h-10.1zM296.6 68.25h10.1v2.20h-10.1zM218.0 71.25h10.1v1.20h-10.1zM316.2 72.25h10.1v1.20h-10.1zM326.1 72.25h10.1v1.20h-10.1zM286.8 73.25h10.1v1.20h-10.1zM267.1 74.25h10.1v1.20h-10.1zM296.6 74.25h10.1v1.20h-10.1zM218.0 75.25h10.1v2.20h-10.1zM365.3 75.25h10.1v2.20h-10.1zM119.8 80.25h10.1v1.20h-10.1zM306.4 80.25h10.1v1.20h-10.1zM168.9 83.25h10.1v2.20h-10.1zM227.9 87.25h10.1v1.20h-10.1zM159.1 88.25h10.1v1.20h-10.1zM149.3 89.25h10.1v2.20h-10.1zM218.0 93.25h10.1v2.20h-10.1zM188.6 101.25h10.1v1.20h-10.1zM227.9 101.25h10.1v1.20h-10.1zM316.2 101.25h10.1v1.20h-10.1zM316.2 103.25h10.1v1.20h-10.1zM257.3 104.25h10.1v1.20h-10.1zM365.3 105.25h10.1v1.20h-10.1zM119.8 106.25h10.1v1.20h-10.1zM149.3 106.25h10.1v1.20h-10.1zM335.9 109.25h10.1v2.20h-10.1zM345.7 109.25h10.1v2.20h-10.1zM306.4 111.25h10.1v2.20h-10.1zM316.2 111.25h10.1v2.20h-10.1zM119.8 118.25h10.1v1.20h-10.1zM110.0 121.25h10.1v1.20h-10.1zM335.9 121.25h10.1v3.20h-10.1zM286.8 124.25h10.1v2.20h-10.1zM306.4 126.25h10.1v1.20h-10.1zM345.7 127.25h10.1v1.20h-10.1zM119.8 128.25h10.1v2.20h-10.1zM247.5 132.25h10.1v2.20h-10.1zM277.0 134.25h10.1v2.20h-10.1zM326.1 136.25h10.1v2.20h-10.1zM247.5 139.25h10.1v1.20h-10.1zM237.7 140.25h10.1v1.20h-10.1zM247.5 144.25h10.1v1.20h-10.1zM286.8 145.25h10.1v1.20h-10.1zM365.3 145.25h10.1v1.20h-10.1zM159.1 148.25h10.1v3.20h-10.1zM129.6 149.25h10.1v2.20h-10.1zM306.4 149.25h10.1v2.20h-10.1zM296.6 151.25h10.1v2.20h-10.1zM129.6 153.25h10.1v1.20h-10.1zM159.1 153.25h10.1v1.20h-10.1zM247.5 153.25h10.1v1.20h-10.1zM227.9 156.25h10.1v2.20h-10.1zM335.9 158.25h10.1v1.20h-10.1zM198.4 163.25h10.1v1.20h-10.1zM247.5 164.25h10.1v1.20h-10.1zM110.0 165.25h10.1v2.20h-10.1zM247.5 171.25h10.1v2.20h-10.1zM267.1 171.25h10.1v2.20h-10.1zM110.0 173.25h10.1v1.20h-10.1zM345.7 173.25h10.1v1.20h-10.1zM326.1 174.25h10.1v1.20h-10.1zM208.2 177.25h10.1v2.20h-10.1zM198.4 181.25h10.1v2.20h-10.1zM306.4 181.25h10.1v2.20h-10.1zM198.4 186.25h10.1v2.20h-10.1zM267.1 188.25h10.1v2.20h-10.1zM110.0 190.25h10.1v1.20h-10.1zM286.8 190.25h10.1v1.20h-10.1zM208.2 192.25h10.1v1.20h-10.1zM267.1 193.25h10.1v1.20h-10.1zM218.0 194.25h10.1v1.20h-10.1zM247.5 194.25h10.1v1.20h-10.1zM208.2 196.25h10.1v1.20h-10.1zM443.9 201.25h10.1v1.20h-10.1zM404.6 202.25h10.1v1.20h-10.1zM453.7 207.25h10.1v2.20h-10.1zM414.5 209.25h10.1v2.20h-10.1zM424.3 209.25h10.1v2.20h-10.1zM463.6 212.25h10.1v1.20h-10.1zM257.3 215.25h10.1v2.20h-10.1zM286.8 215.25h10.1v2.20h-10.1zM473.4 217.25h10.1v2.20h-10.1zM198.4 229.25h10.1v1.20h-10.1z"/>
<path fill="#303018" d="M188.6 46.25h10.1v1.20h-10.1zM119.8 47.25h10.1v1.20h-10.1zM267.1 49.25h10.1v2.20h-10.1zM247.5 53.25h10.1v1.20h-10.1zM286.8 54.25h10.1v1.20h-10.1zM296.6 59.25h10.1v1.20h-10.1zM159.1 60.25h10.1v2.20h-10.1zM218.0 62.25h10.1v2.20h-10.1zM149.3 64.25h10.1v1.20h-10.1zM365.3 64.25h10.1v1.20h-10.1zM178.7 66.25h10.1v1.20h-10.1zM257.3 70.25h10.1v1.20h-10.1zM365.3 70.25h10.1v2.20h-10.1zM149.3 71.25h10.1v1.20h-10.1zM345.7 77.25h10.1v1.20h-10.1zM296.6 79.25h10.1v1.20h-10.1zM365.3 79.25h10.1v1.20h-10.1zM345.7 80.25h10.1v1.20h-10.1zM119.8 82.25h10.1v1.20h-10.1zM168.9 88.25h10.1v1.20h-10.1zM306.4 99.25h10.1v2.20h-10.1zM335.9 99.25h10.1v2.20h-10.1zM119.8 102.25h10.1v1.20h-10.1zM257.3 105.25h10.1v1.20h-10.1zM247.5 106.25h10.1v1.20h-10.1zM257.3 107.25h10.1v2.20h-10.1zM365.3 111.25h10.1v2.20h-10.1zM286.8 113.25h10.1v1.20h-10.1zM316.2 113.25h10.1v1.20h-10.1zM375.2 114.25h10.1v1.20h-10.1zM257.3 115.25h10.1v1.20h-10.1zM247.5 121.25h10.1v1.20h-10.1zM296.6 121.25h10.1v1.20h-10.1zM345.7 121.25h10.1v1.20h-10.1zM345.7 128.25h10.1v2.20h-10.1zM119.8 139.25h10.1v1.20h-10.1zM129.6 146.25h10.1v2.20h-10.1zM159.1 146.25h10.1v2.20h-10.1zM218.0 146.25h10.1v2.20h-10.1zM247.5 146.25h10.1v2.20h-10.1zM296.6 148.25h10.1v1.20h-10.1zM335.9 148.25h10.1v1.20h-10.1zM178.7 151.25h10.1v2.20h-10.1zM188.6 153.25h10.1v1.20h-10.1zM267.1 153.25h10.1v1.20h-10.1zM316.2 154.25h10.1v2.20h-10.1zM335.9 156.25h10.1v2.20h-10.1zM237.7 158.25h10.1v1.20h-10.1zM110.0 159.25h10.1v1.20h-10.1zM277.0 159.25h10.1v1.20h-10.1zM237.7 160.25h10.1v2.20h-10.1zM247.5 166.25h10.1v1.20h-10.1zM198.4 174.25h10.1v1.20h-10.1zM198.4 179.25h10.1v1.20h-10.1zM277.0 179.25h10.1v1.20h-10.1zM110.0 184.25h10.1v2.20h-10.1zM198.4 190.25h10.1v1.20h-10.1zM110.0 191.25h10.1v1.20h-10.1zM149.3 193.25h10.1v1.20h-10.1zM277.0 195.25h10.1v1.20h-10.1zM424.3 198.25h10.1v2.20h-10.1zM286.8 202.25h10.1v1.20h-10.1zM365.3 202.25h10.1v2.20h-10.1zM375.2 211.25h10.1v1.20h-10.1zM296.6 212.25h10.1v1.20h-10.1zM296.6 215.25h10.1v2.20h-10.1zM227.9 219.25h10.1v2.20h-10.1zM375.2 221.25h10.1v2.20h-10.1zM453.7 223.25h10.1v1.20h-10.1zM443.9 224.25h10.1v2.20h-10.1zM355.5 231.25h10.1v0.70h-10.1z"/>
<path fill="#101840" d="M208.2 46.25h10.1v1.20h-10.1zM443.9 47.25h10.1v1.20h-10.1zM375.2 53.25h10.1v1.20h-10.1zM414.5 62.25h10.1v2.20h-10.1zM394.8 75.25h10.1v2.20h-10.1zM473.4 77.25h10.1v1.20h-10.1zM178.7 80.25h10.1v1.20h-10.1zM257.3 81.25h10.1v1.20h-10.1zM198.4 85.25h10.1v1.20h-10.1zM257.3 86.25h10.1v1.20h-10.1zM159.1 91.25h10.1v2.20h-10.1zM443.9 102.25h10.1v1.20h-10.1zM198.4 104.25h10.1v1.20h-10.1zM208.2 111.25h10.1v2.20h-10.1zM306.4 113.25h10.1v1.20h-10.1zM159.1 116.25h10.1v2.20h-10.1zM149.3 119.25h10.1v2.20h-10.1zM394.8 121.25h10.1v1.20h-10.1zM257.3 122.25h10.1v2.20h-10.1zM385.0 124.25h10.1v2.20h-10.1zM188.6 126.25h10.1v2.20h-10.1zM149.3 127.25h10.1v1.20h-10.1zM257.3 132.25h10.1v2.20h-10.1zM198.4 149.25h10.1v2.20h-10.1zM365.3 160.25h10.1v2.20h-10.1zM326.1 164.25h10.1v1.20h-10.1zM159.1 165.25h10.1v1.20h-10.1zM159.1 167.25h10.1v2.20h-10.1zM296.6 177.25h10.1v2.20h-10.1zM159.1 183.25h10.1v1.20h-10.1zM296.6 183.25h10.1v1.20h-10.1zM326.1 188.25h10.1v2.20h-10.1zM159.1 190.25h10.1v1.20h-10.1zM335.9 195.25h10.1v1.20h-10.1zM385.0 197.25h10.1v1.20h-10.1zM208.2 201.25h10.1v1.20h-10.1zM237.7 201.25h10.1v2.20h-10.1zM119.8 202.25h10.1v1.20h-10.1zM208.2 203.25h10.1v1.20h-10.1zM257.3 203.25h10.1v1.20h-10.1zM385.0 204.25h10.1v1.20h-10.1zM335.9 205.25h10.1v4.20h-10.1zM119.8 209.25h10.1v2.20h-10.1zM277.0 212.25h10.1v1.20h-10.1zM335.9 213.25h10.1v2.20h-10.1zM355.5 213.25h10.1v2.20h-10.1zM218.0 215.25h10.1v2.20h-10.1zM218.0 221.25h10.1v2.20h-10.1zM267.1 221.25h10.1v2.20h-10.1zM218.0 224.25h10.1v2.20h-10.1zM316.2 224.25h10.1v2.20h-10.1zM345.7 224.25h10.1v2.20h-10.1zM306.4 228.25h10.1v1.20h-10.1zM149.3 229.25h10.1v1.20h-10.1zM139.5 230.25h10.1v1.20h-10.1z"/>
<path fill="#989830" d="M277.0 46.25h10.1v1.20h-10.1zM149.3 52.25h10.1v1.20h-10.1zM257.3 52.25h10.1v1.20h-10.1zM257.3 66.25h10.1v1.20h-10.1zM335.9 66.25h10.1v1.20h-10.1zM247.5 71.25h10.1v1.20h-10.1zM365.3 72.25h10.1v1.20h-10.1zM277.0 73.25h10.1v1.20h-10.1zM335.9 78.25h10.1v1.20h-10.1zM110.0 88.25h10.1v1.20h-10.1zM168.9 93.25h10.1v2.20h-10.1zM139.5 101.25h10.1v1.20h-10.1zM119.8 105.25h10.1v1.20h-10.1zM110.0 111.25h10.1v2.20h-10.1zM119.8 119.25h10.1v2.20h-10.1zM110.0 126.25h10.1v1.20h-10.1zM335.9 128.25h10.1v2.20h-10.1zM159.1 136.25h10.1v2.20h-10.1zM149.3 153.25h10.1v1.20h-10.1zM277.0 160.25h10.1v2.20h-10.1zM247.5 163.25h10.1v1.20h-10.1zM277.0 164.25h10.1v1.20h-10.1zM208.2 173.25h10.1v1.20h-10.1zM306.4 173.25h10.1v1.20h-10.1zM149.3 174.25h10.1v1.20h-10.1zM178.7 192.25h10.1v1.20h-10.1zM375.2 202.25h10.1v1.20h-10.1z"/>
<path fill="#b8b030" d="M286.8 46.25h10.1v1.20h-10.1zM129.6 66.25h10.1v1.20h-10.1zM129.6 71.25h10.1v1.20h-10.1zM178.7 82.25h10.1v1.20h-10.1zM277.0 82.25h10.1v1.20h-10.1zM110.0 87.25h10.1v1.20h-10.1zM365.3 87.25h10.1v1.20h-10.1zM257.3 95.25h10.1v2.20h-10.1zM110.0 104.25h10.1v1.20h-10.1zM129.6 143.25h10.1v1.20h-10.1zM218.0 173.25h10.1v1.20h-10.1zM218.0 188.25h10.1v2.20h-10.1zM129.6 190.25h10.1v1.20h-10.1z"/>
<path fill="#a09830" d="M306.4 46.25h10.1v1.20h-10.1zM296.6 53.25h10.1v1.20h-10.1zM168.9 60.25h10.1v2.20h-10.1zM335.9 80.25h10.1v1.20h-10.1zM365.3 85.25h10.1v1.20h-10.1zM119.8 91.25h10.1v2.20h-10.1zM227.9 95.25h10.1v2.20h-10.1zM277.0 95.25h10.1v2.20h-10.1zM149.3 97.25h10.1v2.20h-10.1zM119.8 104.25h10.1v1.20h-10.1zM119.8 107.25h10.1v2.20h-10.1zM247.5 107.25h10.1v2.20h-10.1zM286.8 107.25h10.1v2.20h-10.1zM286.8 111.25h10.1v2.20h-10.1zM129.6 124.25h10.1v2.20h-10.1zM316.2 126.25h10.1v1.20h-10.1zM286.8 132.25h10.1v2.20h-10.1zM168.9 138.25h10.1v1.20h-10.1zM129.6 140.25h10.1v1.20h-10.1zM218.0 144.25h10.1v1.20h-10.1zM168.9 156.25h10.1v2.20h-10.1zM139.5 158.25h10.1v1.20h-10.1zM159.1 158.25h10.1v1.20h-10.1zM188.6 167.25h10.1v2.20h-10.1zM247.5 173.25h10.1v1.20h-10.1zM218.0 177.25h10.1v2.20h-10.1zM188.6 196.25h10.1v1.20h-10.1zM375.2 200.25h10.1v1.20h-10.1zM414.5 205.25h10.1v2.20h-10.1zM434.1 219.25h10.1v2.20h-10.1z"/>
<path fill="#b0a830" d="M335.9 46.25h10.1v1.20h-10.1zM110.0 52.25h10.1v1.20h-10.1zM139.5 66.25h10.1v1.20h-10.1zM286.8 68.25h10.1v2.20h-10.1zM159.1 86.25h10.1v1.20h-10.1zM267.1 95.25h10.1v2.20h-10.1zM316.2 99.25h10.1v2.20h-10.1zM129.6 106.25h10.1v1.20h-10.1zM247.5 115.25h10.1v1.20h-10.1zM129.6 121.25h10.1v1.20h-10.1zM119.8 124.25h10.1v2.20h-10.1zM306.4 128.25h10.1v2.20h-10.1zM129.6 132.25h10.1v2.20h-10.1zM286.8 136.25h10.1v2.20h-10.1zM335.9 136.25h10.1v2.20h-10.1zM159.1 141.25h10.1v2.20h-10.1zM316.2 141.25h10.1v2.20h-10.1zM316.2 144.25h10.1v1.20h-10.1zM119.8 160.25h10.1v2.20h-10.1zM218.0 171.25h10.1v2.20h-10.1zM316.2 177.25h10.1v2.20h-10.1zM434.1 200.25h10.1v1.20h-10.1zM453.7 221.25h10.1v2.20h-10.1zM453.7 229.25h10.1v1.20h-10.1z"/>
<path fill="#404020" d="M355.5 46.25h10.1v1.20h-10.1zM149.3 49.25h10.1v2.20h-10.1zM178.7 49.25h10.1v2.20h-10.1zM355.5 52.25h10.1v2.20h-10.1zM277.0 54.25h10.1v1.20h-10.1zM345.7 54.25h10.1v1.20h-10.1zM247.5 55.25h10.1v2.20h-10.1zM355.5 55.25h10.1v2.20h-10.1zM316.2 60.25h10.1v1.20h-10.1zM326.1 61.25h10.1v1.20h-10.1zM119.8 62.25h10.1v2.20h-10.1zM296.6 62.25h10.1v2.20h-10.1zM218.0 64.25h10.1v1.20h-10.1zM306.4 64.25h10.1v1.20h-10.1zM159.1 66.25h10.1v1.20h-10.1zM218.0 66.25h10.1v1.20h-10.1zM306.4 66.25h10.1v1.20h-10.1zM326.1 66.25h10.1v1.20h-10.1zM110.0 68.25h10.1v3.20h-10.1zM159.1 70.25h10.1v1.20h-10.1zM306.4 70.25h10.1v1.20h-10.1zM119.8 75.25h10.1v3.20h-10.1zM149.3 75.25h10.1v2.20h-10.1zM168.9 77.25h10.1v1.20h-10.1zM218.0 77.25h10.1v1.20h-10.1zM286.8 77.25h10.1v1.20h-10.1zM296.6 77.25h10.1v1.20h-10.1zM316.2 77.25h10.1v1.20h-10.1zM326.1 77.25h10.1v1.20h-10.1zM365.3 77.25h10.1v1.20h-10.1zM247.5 78.25h10.1v1.20h-10.1zM139.5 79.25h10.1v1.20h-10.1zM188.6 82.25h10.1v1.20h-10.1zM345.7 88.25h10.1v1.20h-10.1zM218.0 89.25h10.1v2.20h-10.1zM188.6 91.25h10.1v2.20h-10.1zM345.7 91.25h10.1v2.20h-10.1zM257.3 97.25h10.1v2.20h-10.1zM237.7 99.25h10.1v2.20h-10.1zM277.0 101.25h10.1v1.20h-10.1zM168.9 102.25h10.1v1.20h-10.1zM247.5 103.25h10.1v1.20h-10.1zM159.1 105.25h10.1v1.20h-10.1zM178.7 105.25h10.1v1.20h-10.1zM218.0 105.25h10.1v1.20h-10.1zM227.9 106.25h10.1v1.20h-10.1zM277.0 106.25h10.1v1.20h-10.1zM218.0 107.25h10.1v2.20h-10.1zM159.1 109.25h10.1v4.20h-10.1zM257.3 109.25h10.1v4.20h-10.1zM355.5 109.25h10.1v2.20h-10.1zM237.7 111.25h10.1v2.20h-10.1zM345.7 111.25h10.1v2.20h-10.1zM168.9 113.25h10.1v1.20h-10.1zM335.9 113.25h10.1v1.20h-10.1zM139.5 118.25h10.1v1.20h-10.1zM247.5 118.25h10.1v1.20h-10.1zM316.2 118.25h10.1v1.20h-10.1zM365.3 119.25h10.1v2.20h-10.1zM306.4 121.25h10.1v3.20h-10.1zM277.0 122.25h10.1v2.20h-10.1zM247.5 126.25h10.1v1.20h-10.1zM296.6 126.25h10.1v1.20h-10.1zM296.6 128.25h10.1v2.20h-10.1zM277.0 130.25h10.1v2.20h-10.1zM345.7 134.25h10.1v4.20h-10.1zM365.3 138.25h10.1v2.20h-10.1zM345.7 140.25h10.1v1.20h-10.1zM355.5 140.25h10.1v1.20h-10.1zM365.3 143.25h10.1v1.20h-10.1zM345.7 144.25h10.1v1.20h-10.1zM119.8 145.25h10.1v1.20h-10.1zM247.5 145.25h10.1v1.20h-10.1zM257.3 145.25h10.1v1.20h-10.1zM149.3 146.25h10.1v2.20h-10.1zM110.0 148.25h10.1v1.20h-10.1zM365.3 148.25h10.1v1.20h-10.1zM335.9 149.25h10.1v2.20h-10.1zM316.2 153.25h10.1v1.20h-10.1zM110.0 154.25h10.1v2.20h-10.1zM247.5 156.25h10.1v2.20h-10.1zM267.1 156.25h10.1v2.20h-10.1zM110.0 158.25h10.1v1.20h-10.1zM188.6 159.25h10.1v1.20h-10.1zM208.2 159.25h10.1v1.20h-10.1zM267.1 159.25h10.1v1.20h-10.1zM227.9 160.25h10.1v2.20h-10.1zM119.8 162.25h10.1v1.20h-10.1zM198.4 162.25h10.1v1.20h-10.1zM208.2 162.25h10.1v1.20h-10.1zM247.5 162.25h10.1v1.20h-10.1zM227.9 164.25h10.1v1.20h-10.1zM237.7 166.25h10.1v1.20h-10.1zM257.3 166.25h10.1v1.20h-10.1zM277.0 166.25h10.1v1.20h-10.1zM178.7 169.25h10.1v2.20h-10.1zM168.9 174.25h10.1v1.20h-10.1zM316.2 175.25h10.1v2.20h-10.1zM257.3 177.25h10.1v2.20h-10.1zM198.4 180.25h10.1v1.20h-10.1zM306.4 180.25h10.1v1.20h-10.1zM316.2 180.25h10.1v1.20h-10.1zM257.3 183.25h10.1v1.20h-10.1zM208.2 184.25h10.1v2.20h-10.1zM355.5 188.25h10.1v3.20h-10.1zM247.5 190.25h10.1v1.20h-10.1zM119.8 192.25h10.1v1.20h-10.1zM198.4 194.25h10.1v1.20h-10.1zM208.2 194.25h10.1v1.20h-10.1zM227.9 194.25h10.1v2.20h-10.1zM257.3 195.25h10.1v1.20h-10.1zM355.5 200.25h10.1v1.20h-10.1zM365.3 200.25h10.1v1.20h-10.1zM375.2 201.25h10.1v1.20h-10.1zM434.1 203.25h10.1v1.20h-10.1zM473.4 203.25h10.1v1.20h-10.1zM296.6 207.25h10.1v2.20h-10.1zM296.6 211.25h10.1v1.20h-10.1zM443.9 211.25h10.1v1.20h-10.1zM473.4 213.25h10.1v2.20h-10.1zM227.9 217.25h10.1v2.20h-10.1zM404.6 219.25h10.1v2.20h-10.1zM404.6 223.25h10.1v1.20h-10.1zM355.5 224.25h10.1v2.20h-10.1zM385.0 226.25h10.1v2.20h-10.1zM463.6 226.25h10.1v2.20h-10.1zM355.5 228.25h10.1v1.20h-10.1zM443.9 231.25h10.1v0.70h-10.1z"/>
<path fill="#2040c8" d="M404.6 46.25h10.1v1.20h-10.1zM385.0 47.25h10.1v1.20h-10.1zM404.6 49.25h10.1v2.20h-10.1zM394.8 53.25h10.1v1.20h-10.1zM404.6 57.25h10.1v2.20h-10.1zM463.6 66.25h10.1v1.20h-10.1zM404.6 77.25h10.1v1.20h-10.1zM385.0 83.25h10.1v2.20h-10.1zM414.5 87.25h10.1v1.20h-10.1zM385.0 89.25h10.1v2.20h-10.1zM463.6 103.25h10.1v1.20h-10.1zM404.6 122.25h10.1v2.20h-10.1zM404.6 127.25h10.1v1.20h-10.1zM404.6 153.25h10.1v1.20h-10.1zM414.5 177.25h10.1v3.20h-10.1zM434.1 195.25h10.1v1.20h-10.1zM110.0 202.25h10.1v1.20h-10.1zM129.6 202.25h10.1v1.20h-10.1zM139.5 205.25h10.1v2.20h-10.1zM168.9 205.25h10.1v2.20h-10.1zM385.0 213.25h10.1v2.20h-10.1zM129.6 215.25h10.1v2.20h-10.1z"/>
<path fill="#2048e8" d="M453.7 46.25h10.1v1.20h-10.1zM385.0 68.25h10.1v2.20h-10.1zM394.8 91.25h10.1v2.20h-10.1zM414.5 180.25h10.1v1.20h-10.1z"/>
<path fill="#2040d0" d="M463.6 46.25h10.1v1.20h-10.1zM198.4 53.25h10.1v1.20h-10.1zM385.0 53.25h10.1v1.20h-10.1zM404.6 54.25h10.1v1.20h-10.1zM463.6 57.25h10.1v2.20h-10.1zM385.0 60.25h10.1v1.20h-10.1zM198.4 67.25h10.1v3.20h-10.1zM198.4 73.25h10.1v1.20h-10.1zM404.6 74.25h10.1v1.20h-10.1zM463.6 74.25h10.1v1.20h-10.1zM453.7 78.25h10.1v1.20h-10.1zM463.6 78.25h10.1v1.20h-10.1zM424.3 82.25h10.1v3.20h-10.1zM385.0 86.25h10.1v1.20h-10.1zM414.5 89.25h10.1v2.20h-10.1zM463.6 95.25h10.1v2.20h-10.1zM404.6 101.25h10.1v1.20h-10.1zM453.7 102.25h10.1v1.20h-10.1zM414.5 103.25h10.1v1.20h-10.1zM424.3 109.25h10.1v2.20h-10.1zM404.6 111.25h10.1v2.20h-10.1zM463.6 111.25h10.1v2.20h-10.1zM443.9 116.25h10.1v2.20h-10.1zM414.5 122.25h10.1v2.20h-10.1zM434.1 122.25h10.1v2.20h-10.1zM424.3 127.25h10.1v1.20h-10.1zM443.9 127.25h10.1v1.20h-10.1zM178.7 132.25h10.1v4.20h-10.1zM404.6 132.25h10.1v2.20h-10.1zM463.6 132.25h10.1v2.20h-10.1zM404.6 136.25h10.1v2.20h-10.1zM404.6 139.25h10.1v1.20h-10.1zM434.1 139.25h10.1v1.20h-10.1zM404.6 149.25h10.1v4.20h-10.1zM414.5 151.25h10.1v2.20h-10.1zM463.6 159.25h10.1v1.20h-10.1zM414.5 165.25h10.1v1.20h-10.1zM394.8 169.25h10.1v2.20h-10.1zM385.0 171.25h10.1v2.20h-10.1zM394.8 173.25h10.1v1.20h-10.1zM385.0 175.25h10.1v2.20h-10.1zM404.6 177.25h10.1v2.20h-10.1zM434.1 181.25h10.1v2.20h-10.1zM414.5 184.25h10.1v2.20h-10.1zM404.6 188.25h10.1v2.20h-10.1zM129.6 204.25h10.1v1.20h-10.1zM218.0 204.25h10.1v1.20h-10.1zM119.8 211.25h10.1v1.20h-10.1z"/>
<path fill="#2848e8" d="M473.4 46.25h10.1v1.20h-10.1zM385.0 57.25h10.1v2.20h-10.1zM394.8 71.25h10.1v1.20h-10.1zM404.6 81.25h10.1v1.20h-10.1zM453.7 91.25h10.1v2.20h-10.1zM404.6 93.25h10.1v2.20h-10.1zM404.6 109.25h10.1v2.20h-10.1zM434.1 115.25h10.1v1.20h-10.1zM404.6 119.25h10.1v2.20h-10.1zM414.5 126.25h10.1v1.20h-10.1zM404.6 128.25h10.1v2.20h-10.1zM424.3 134.25h10.1v2.20h-10.1zM463.6 153.25h10.1v1.20h-10.1zM434.1 193.25h10.1v1.20h-10.1zM110.0 200.25h10.1v1.20h-10.1zM159.1 231.25h10.1v0.70h-10.1zM168.9 231.25h10.1v0.70h-10.1z"/>
<path fill="#504820" d="M129.6 47.25h10.1v1.20h-10.1zM119.8 49.25h10.1v2.20h-10.1zM227.9 49.25h10.1v2.20h-10.1zM139.5 54.25h10.1v1.20h-10.1zM237.7 55.25h10.1v2.20h-10.1zM326.1 60.25h10.1v1.20h-10.1zM110.0 64.25h10.1v1.20h-10.1zM345.7 67.25h10.1v1.20h-10.1zM247.5 75.25h10.1v2.20h-10.1zM277.0 79.25h10.1v1.20h-10.1zM168.9 86.25h10.1v2.20h-10.1zM277.0 88.25h10.1v1.20h-10.1zM247.5 101.25h10.1v1.20h-10.1zM365.3 107.25h10.1v2.20h-10.1zM277.0 109.25h10.1v2.20h-10.1zM119.8 113.25h10.1v1.20h-10.1zM227.9 113.25h10.1v1.20h-10.1zM277.0 121.25h10.1v1.20h-10.1zM110.0 130.25h10.1v2.20h-10.1zM247.5 134.25h10.1v2.20h-10.1zM296.6 146.25h10.1v2.20h-10.1zM149.3 148.25h10.1v1.20h-10.1zM316.2 158.25h10.1v1.20h-10.1zM149.3 164.25h10.1v1.20h-10.1zM218.0 192.25h10.1v1.20h-10.1zM218.0 195.25h10.1v1.20h-10.1zM335.9 200.25h10.1v1.20h-10.1z"/>
<path fill="#302818" d="M139.5 47.25h10.1v1.20h-10.1zM227.9 48.25h10.1v1.20h-10.1zM296.6 70.25h10.1v1.20h-10.1zM434.1 72.25h10.1v1.20h-10.1zM110.0 79.25h10.1v1.20h-10.1zM237.7 103.25h10.1v1.20h-10.1zM129.6 114.25h10.1v1.20h-10.1zM168.9 115.25h10.1v1.20h-10.1zM365.3 136.25h10.1v2.20h-10.1zM168.9 146.25h10.1v2.20h-10.1zM326.1 151.25h10.1v2.20h-10.1zM316.2 165.25h10.1v1.20h-10.1zM198.4 169.25h10.1v2.20h-10.1zM129.6 174.25h10.1v1.20h-10.1zM178.7 174.25h10.1v1.20h-10.1zM159.1 196.25h10.1v1.20h-10.1zM257.3 217.25h10.1v2.20h-10.1z"/>
<path fill="#282018" d="M257.3 47.25h10.1v1.20h-10.1zM335.9 51.25h10.1v1.20h-10.1zM345.7 65.25h10.1v1.20h-10.1zM434.1 71.25h10.1v1.20h-10.1zM345.7 93.25h10.1v2.20h-10.1zM355.5 99.25h10.1v2.20h-10.1zM110.0 180.25h10.1v1.20h-10.1zM208.2 191.25h10.1v1.20h-10.1zM286.8 197.25h10.1v1.20h-10.1zM443.9 209.25h10.1v2.20h-10.1zM178.7 226.25h10.1v2.20h-10.1zM453.7 226.25h10.1v2.20h-10.1z"/>
<path fill="#383020" d="M306.4 47.25h10.1v1.20h-10.1zM149.3 60.25h10.1v1.20h-10.1zM335.9 79.25h10.1v1.20h-10.1zM296.6 122.25h10.1v2.20h-10.1zM296.6 140.25h10.1v1.20h-10.1zM119.8 143.25h10.1v1.20h-10.1zM335.9 146.25h10.1v2.20h-10.1zM208.2 156.25h10.1v2.20h-10.1zM316.2 159.25h10.1v1.20h-10.1zM119.8 174.25h10.1v1.20h-10.1zM119.8 181.25h10.1v2.20h-10.1zM139.5 191.25h10.1v1.20h-10.1zM110.0 192.25h10.1v1.20h-10.1zM247.5 195.25h10.1v1.20h-10.1zM463.6 207.25h10.1v2.20h-10.1zM227.9 213.25h10.1v2.20h-10.1zM296.6 217.25h10.1v2.20h-10.1zM375.2 229.25h10.1v1.20h-10.1z"/>
<path fill="#181018" d="M326.1 47.25h10.1v1.20h-10.1zM414.5 57.25h10.1v2.20h-10.1zM139.5 65.25h10.1v1.20h-10.1zM178.7 148.25h10.1v1.20h-10.1zM286.8 175.25h10.1v2.20h-10.1zM159.1 184.25h10.1v2.20h-10.1zM335.9 204.25h10.1v1.20h-10.1zM208.2 215.25h10.1v2.20h-10.1z"/>
<path fill="#2030a8" d="M453.7 47.25h10.1v1.20h-10.1zM385.0 48.25h10.1v1.20h-10.1zM394.8 48.25h10.1v3.20h-10.1zM473.4 48.25h10.1v1.20h-10.1zM434.1 54.25h10.1v1.20h-10.1zM453.7 55.25h10.1v2.20h-10.1zM394.8 59.25h10.1v1.20h-10.1zM443.9 60.25h10.1v1.20h-10.1zM198.4 61.25h10.1v1.20h-10.1zM463.6 64.25h10.1v1.20h-10.1zM473.4 64.25h10.1v1.20h-10.1zM404.6 71.25h10.1v1.20h-10.1zM453.7 71.25h10.1v1.20h-10.1zM394.8 74.25h10.1v1.20h-10.1zM443.9 74.25h10.1v1.20h-10.1zM453.7 75.25h10.1v2.20h-10.1zM463.6 83.25h10.1v2.20h-10.1zM443.9 91.25h10.1v2.20h-10.1zM473.4 93.25h10.1v2.20h-10.1zM394.8 97.25h10.1v2.20h-10.1zM394.8 102.25h10.1v1.20h-10.1zM404.6 103.25h10.1v1.20h-10.1zM473.4 103.25h10.1v1.20h-10.1zM453.7 104.25h10.1v1.20h-10.1zM394.8 106.25h10.1v1.20h-10.1zM463.6 106.25h10.1v1.20h-10.1zM414.5 107.25h10.1v2.20h-10.1zM424.3 107.25h10.1v2.20h-10.1zM463.6 109.25h10.1v2.20h-10.1zM443.9 111.25h10.1v2.20h-10.1zM453.7 111.25h10.1v2.20h-10.1zM404.6 114.25h10.1v1.20h-10.1zM453.7 118.25h10.1v1.20h-10.1zM473.4 121.25h10.1v3.20h-10.1zM424.3 128.25h10.1v2.20h-10.1zM434.1 130.25h10.1v2.20h-10.1zM453.7 132.25h10.1v2.20h-10.1zM404.6 134.25h10.1v2.20h-10.1zM414.5 136.25h10.1v2.20h-10.1zM424.3 139.25h10.1v1.20h-10.1zM443.9 143.25h10.1v1.20h-10.1zM434.1 144.25h10.1v1.20h-10.1zM414.5 149.25h10.1v2.20h-10.1zM434.1 149.25h10.1v2.20h-10.1zM414.5 153.25h10.1v1.20h-10.1zM434.1 156.25h10.1v2.20h-10.1zM424.3 158.25h10.1v1.20h-10.1zM473.4 160.25h10.1v2.20h-10.1zM404.6 163.25h10.1v1.20h-10.1zM463.6 163.25h10.1v1.20h-10.1zM404.6 165.25h10.1v1.20h-10.1zM463.6 166.25h10.1v1.20h-10.1zM404.6 167.25h10.1v2.20h-10.1zM394.8 175.25h10.1v2.20h-10.1zM434.1 175.25h10.1v2.20h-10.1zM463.6 177.25h10.1v2.20h-10.1zM168.9 197.25h10.1v1.20h-10.1zM149.3 200.25h10.1v1.20h-10.1zM139.5 204.25h10.1v1.20h-10.1zM178.7 211.25h10.1v1.20h-10.1zM188.6 215.25h10.1v2.20h-10.1zM335.9 215.25h10.1v2.20h-10.1zM394.8 224.25h10.1v2.20h-10.1zM139.5 229.25h10.1v1.20h-10.1z"/>
<path fill="#182878" d="M473.4 47.25h10.1v1.20h-10.1zM473.4 55.25h10.1v2.20h-10.1zM443.9 57.25h10.1v2.20h-10.1zM443.9 61.25h10.1v1.20h-10.1zM463.6 65.25h10.1v1.20h-10.1zM443.9 70.25h10.1v1.20h-10.1zM443.9 72.25h10.1v2.20h-10.1zM394.8 73.25h10.1v1.20h-10.1zM375.2 85.25h10.1v1.20h-10.1zM394.8 88.25h10.1v1.20h-10.1zM414.5 93.25h10.1v2.20h-10.1zM424.3 93.25h10.1v2.20h-10.1zM453.7 93.25h10.1v2.20h-10.1zM414.5 101.25h10.1v1.20h-10.1zM434.1 102.25h10.1v1.20h-10.1zM443.9 107.25h10.1v2.20h-10.1zM463.6 107.25h10.1v2.20h-10.1zM198.4 111.25h10.1v2.20h-10.1zM414.5 113.25h10.1v1.20h-10.1zM434.1 113.25h10.1v1.20h-10.1zM394.8 119.25h10.1v2.20h-10.1zM404.6 124.25h10.1v2.20h-10.1zM453.7 128.25h10.1v2.20h-10.1zM473.4 128.25h10.1v4.20h-10.1zM198.4 136.25h10.1v3.20h-10.1zM424.3 136.25h10.1v2.20h-10.1zM424.3 140.25h10.1v1.20h-10.1zM394.8 145.25h10.1v1.20h-10.1zM414.5 146.25h10.1v2.20h-10.1zM434.1 148.25h10.1v1.20h-10.1zM394.8 156.25h10.1v2.20h-10.1zM424.3 159.25h10.1v1.20h-10.1zM394.8 163.25h10.1v2.20h-10.1zM424.3 164.25h10.1v1.20h-10.1zM443.9 164.25h10.1v1.20h-10.1zM473.4 164.25h10.1v1.20h-10.1zM443.9 169.25h10.1v2.20h-10.1zM385.0 177.25h10.1v2.20h-10.1zM434.1 179.25h10.1v1.20h-10.1zM394.8 180.25h10.1v1.20h-10.1zM463.6 180.25h10.1v1.20h-10.1zM473.4 180.25h10.1v1.20h-10.1zM404.6 194.25h10.1v1.20h-10.1zM473.4 194.25h10.1v2.20h-10.1zM443.9 196.25h10.1v1.20h-10.1zM129.6 197.25h10.1v1.20h-10.1zM139.5 197.25h10.1v1.20h-10.1zM218.0 201.25h10.1v1.20h-10.1zM119.8 204.25h10.1v1.20h-10.1zM188.6 217.25h10.1v2.20h-10.1zM110.0 219.25h10.1v2.20h-10.1zM168.9 221.25h10.1v2.20h-10.1zM394.8 223.25h10.1v1.20h-10.1zM188.6 224.25h10.1v2.20h-10.1zM286.8 229.25h10.1v1.20h-10.1z"/>
<path fill="#e8e038" d="M129.6 49.25h10.1v2.20h-10.1zM139.5 60.25h10.1v1.20h-10.1zM178.7 83.25h10.1v2.20h-10.1zM247.5 83.25h10.1v2.20h-10.1zM139.5 88.25h10.1v1.20h-10.1zM129.6 183.25h10.1v1.20h-10.1zM129.6 186.25h10.1v2.20h-10.1zM473.4 224.25h10.1v2.20h-10.1z"/>
<path fill="#908828" d="M139.5 49.25h10.1v2.20h-10.1zM227.9 57.25h10.1v2.20h-10.1zM129.6 59.25h10.1v1.20h-10.1zM335.9 60.25h10.1v1.20h-10.1zM139.5 72.25h10.1v1.20h-10.1zM227.9 72.25h10.1v1.20h-10.1zM237.7 72.25h10.1v1.20h-10.1zM110.0 73.25h10.1v1.20h-10.1zM149.3 99.25h10.1v2.20h-10.1zM277.0 107.25h10.1v2.20h-10.1zM188.6 116.25h10.1v2.20h-10.1zM119.8 122.25h10.1v2.20h-10.1zM335.9 127.25h10.1v1.20h-10.1zM218.0 136.25h10.1v2.20h-10.1zM110.0 139.25h10.1v1.20h-10.1zM277.0 141.25h10.1v2.20h-10.1zM286.8 141.25h10.1v2.20h-10.1zM139.5 154.25h10.1v2.20h-10.1zM208.2 160.25h10.1v2.20h-10.1zM218.0 164.25h10.1v1.20h-10.1zM188.6 180.25h10.1v1.20h-10.1zM208.2 188.25h10.1v2.20h-10.1z"/>
<path fill="#a0a030" d="M168.9 49.25h10.1v2.20h-10.1zM139.5 61.25h10.1v1.20h-10.1zM168.9 62.25h10.1v2.20h-10.1zM277.0 66.25h10.1v2.20h-10.1zM335.9 67.25h10.1v3.20h-10.1zM168.9 71.25h10.1v1.20h-10.1zM129.6 72.25h10.1v1.20h-10.1zM335.9 72.25h10.1v1.20h-10.1zM227.9 81.25h10.1v1.20h-10.1zM178.7 87.25h10.1v1.20h-10.1zM178.7 91.25h10.1v2.20h-10.1zM110.0 95.25h10.1v2.20h-10.1zM277.0 105.25h10.1v1.20h-10.1zM316.2 115.25h10.1v1.20h-10.1zM168.9 116.25h10.1v2.20h-10.1zM326.1 132.25h10.1v2.20h-10.1zM149.3 136.25h10.1v2.20h-10.1zM335.9 138.25h10.1v1.20h-10.1zM139.5 143.25h10.1v1.20h-10.1zM335.9 143.25h10.1v1.20h-10.1zM277.0 154.25h10.1v2.20h-10.1zM257.3 156.25h10.1v2.20h-10.1zM277.0 158.25h10.1v1.20h-10.1zM129.6 162.25h10.1v1.20h-10.1zM139.5 164.25h10.1v1.20h-10.1zM218.0 186.25h10.1v2.20h-10.1zM277.0 190.25h10.1v1.20h-10.1zM178.7 194.25h10.1v1.20h-10.1zM443.9 200.25h10.1v1.20h-10.1zM424.3 201.25h10.1v1.20h-10.1zM473.4 212.25h10.1v1.20h-10.1zM463.6 221.25h10.1v2.20h-10.1zM394.8 229.25h10.1v1.20h-10.1z"/>
<path fill="#101848" d="M208.2 49.25h10.1v2.20h-10.1zM434.1 49.25h10.1v3.20h-10.1zM394.8 52.25h10.1v1.20h-10.1zM434.1 55.25h10.1v2.20h-10.1zM434.1 64.25h10.1v1.20h-10.1zM443.9 68.25h10.1v2.20h-10.1zM443.9 71.25h10.1v1.20h-10.1zM178.7 75.25h10.1v2.20h-10.1zM188.6 77.25h10.1v1.20h-10.1zM198.4 79.25h10.1v1.20h-10.1zM394.8 79.25h10.1v1.20h-10.1zM434.1 79.25h10.1v1.20h-10.1zM257.3 80.25h10.1v1.20h-10.1zM208.2 81.25h10.1v1.20h-10.1zM218.0 81.25h10.1v4.20h-10.1zM434.1 81.25h10.1v1.20h-10.1zM198.4 82.25h10.1v1.20h-10.1zM443.9 82.25h10.1v1.20h-10.1zM375.2 83.25h10.1v2.20h-10.1zM355.5 85.25h10.1v1.20h-10.1zM443.9 87.25h10.1v1.20h-10.1zM434.1 88.25h10.1v1.20h-10.1zM424.3 89.25h10.1v2.20h-10.1zM443.9 89.25h10.1v2.20h-10.1zM443.9 97.25h10.1v2.20h-10.1zM385.0 114.25h10.1v1.20h-10.1zM149.3 121.25h10.1v1.20h-10.1zM178.7 121.25h10.1v1.20h-10.1zM257.3 121.25h10.1v1.20h-10.1zM149.3 126.25h10.1v1.20h-10.1zM178.7 126.25h10.1v1.20h-10.1zM385.0 127.25h10.1v1.20h-10.1zM257.3 139.25h10.1v1.20h-10.1zM188.6 140.25h10.1v1.20h-10.1zM257.3 141.25h10.1v2.20h-10.1zM453.7 148.25h10.1v1.20h-10.1zM198.4 151.25h10.1v2.20h-10.1zM335.9 160.25h10.1v2.20h-10.1zM335.9 165.25h10.1v1.20h-10.1zM453.7 165.25h10.1v1.20h-10.1zM443.9 166.25h10.1v1.20h-10.1zM365.3 167.25h10.1v2.20h-10.1zM159.1 171.25h10.1v2.20h-10.1zM453.7 177.25h10.1v2.20h-10.1zM296.6 181.25h10.1v2.20h-10.1zM159.1 186.25h10.1v2.20h-10.1zM296.6 186.25h10.1v2.20h-10.1zM335.9 193.25h10.1v1.20h-10.1zM385.0 195.25h10.1v1.20h-10.1zM247.5 197.25h10.1v1.20h-10.1zM119.8 200.25h10.1v1.20h-10.1zM149.3 201.25h10.1v1.20h-10.1zM198.4 201.25h10.1v1.20h-10.1zM385.0 201.25h10.1v1.20h-10.1zM394.8 202.25h10.1v1.20h-10.1zM188.6 203.25h10.1v1.20h-10.1zM198.4 203.25h10.1v1.20h-10.1zM159.1 204.25h10.1v1.20h-10.1zM218.0 207.25h10.1v2.20h-10.1zM385.0 207.25h10.1v2.20h-10.1zM335.9 211.25h10.1v1.20h-10.1zM198.4 215.25h10.1v2.20h-10.1zM316.2 215.25h10.1v2.20h-10.1zM159.1 217.25h10.1v2.20h-10.1zM257.3 221.25h10.1v2.20h-10.1zM168.9 226.25h10.1v2.20h-10.1zM149.3 228.25h10.1v1.20h-10.1z"/>
<path fill="#201818" d="M119.8 51.25h10.1v1.20h-10.1zM424.3 71.25h10.1v1.20h-10.1zM335.9 89.25h10.1v2.20h-10.1zM355.5 148.25h10.1v1.20h-10.1zM306.4 175.25h10.1v2.20h-10.1zM345.7 175.25h10.1v2.20h-10.1zM237.7 192.25h10.1v1.20h-10.1zM316.2 192.25h10.1v1.20h-10.1zM306.4 196.25h10.1v1.20h-10.1z"/>
<path fill="#b0b030" d="M119.8 52.25h10.1v2.20h-10.1zM227.9 52.25h10.1v1.20h-10.1zM286.8 55.25h10.1v2.20h-10.1zM139.5 67.25h10.1v1.20h-10.1zM129.6 68.25h10.1v2.20h-10.1zM277.0 83.25h10.1v2.20h-10.1zM365.3 86.25h10.1v1.20h-10.1zM149.3 87.25h10.1v1.20h-10.1zM168.9 101.25h10.1v1.20h-10.1zM110.0 136.25h10.1v2.20h-10.1zM316.2 138.25h10.1v1.20h-10.1zM306.4 139.25h10.1v1.20h-10.1zM316.2 151.25h10.1v2.20h-10.1zM149.3 154.25h10.1v2.20h-10.1zM149.3 158.25h10.1v1.20h-10.1zM218.0 158.25h10.1v1.20h-10.1zM168.9 164.25h10.1v1.20h-10.1zM178.7 164.25h10.1v1.20h-10.1zM178.7 180.25h10.1v1.20h-10.1zM188.6 190.25h10.1v1.20h-10.1zM277.0 192.25h10.1v1.20h-10.1zM119.8 196.25h10.1v1.20h-10.1z"/>
<path fill="#a8a830" d="M277.0 52.25h10.1v1.20h-10.1zM227.9 68.25h10.1v2.20h-10.1zM257.3 68.25h10.1v2.20h-10.1zM139.5 78.25h10.1v1.20h-10.1zM267.1 81.25h10.1v1.20h-10.1zM227.9 91.25h10.1v2.20h-10.1zM316.2 97.25h10.1v2.20h-10.1zM168.9 103.25h10.1v1.20h-10.1zM286.8 115.25h10.1v1.20h-10.1zM110.0 140.25h10.1v1.20h-10.1zM159.1 140.25h10.1v1.20h-10.1zM159.1 145.25h10.1v1.20h-10.1zM218.0 154.25h10.1v2.20h-10.1zM149.3 163.25h10.1v1.20h-10.1zM119.8 164.25h10.1v1.20h-10.1zM119.8 167.25h10.1v2.20h-10.1zM218.0 167.25h10.1v2.20h-10.1zM286.8 171.25h10.1v2.20h-10.1zM257.3 173.25h10.1v1.20h-10.1zM463.6 197.25h10.1v1.20h-10.1zM434.1 204.25h10.1v1.20h-10.1zM424.3 205.25h10.1v2.20h-10.1z"/>
<path fill="#d8d038" d="M286.8 52.25h10.1v1.20h-10.1zM139.5 62.25h10.1v2.20h-10.1zM277.0 81.25h10.1v1.20h-10.1zM277.0 86.25h10.1v1.20h-10.1zM267.1 93.25h10.1v2.20h-10.1zM168.9 95.25h10.1v2.20h-10.1zM168.9 105.25h10.1v1.20h-10.1zM286.8 140.25h10.1v1.20h-10.1zM316.2 140.25h10.1v1.20h-10.1zM286.8 143.25h10.1v1.20h-10.1zM316.2 143.25h10.1v1.20h-10.1zM119.8 173.25h10.1v1.20h-10.1zM424.3 197.25h10.1v1.20h-10.1zM434.1 205.25h10.1v2.20h-10.1zM473.4 215.25h10.1v2.20h-10.1z"/>
<path fill="#787028" d="M335.9 52.25h10.1v1.20h-10.1zM178.7 55.25h10.1v2.20h-10.1zM277.0 71.25h10.1v1.20h-10.1zM119.8 73.25h10.1v1.20h-10.1zM139.5 73.25h10.1v1.20h-10.1zM296.6 73.25h10.1v1.20h-10.1zM306.4 73.25h10.1v1.20h-10.1zM365.3 73.25h10.1v1.20h-10.1zM168.9 74.25h10.1v1.20h-10.1zM306.4 75.25h10.1v2.20h-10.1zM110.0 80.25h10.1v1.20h-10.1zM129.6 80.25h10.1v1.20h-10.1zM188.6 93.25h10.1v2.20h-10.1zM286.8 99.25h10.1v2.20h-10.1zM227.9 104.25h10.1v1.20h-10.1zM286.8 119.25h10.1v2.20h-10.1zM110.0 122.25h10.1v2.20h-10.1zM168.9 122.25h10.1v2.20h-10.1zM335.9 130.25h10.1v2.20h-10.1zM247.5 143.25h10.1v1.20h-10.1zM326.1 144.25h10.1v1.20h-10.1zM129.6 151.25h10.1v2.20h-10.1zM159.1 151.25h10.1v2.20h-10.1zM335.9 151.25h10.1v2.20h-10.1zM198.4 177.25h10.1v2.20h-10.1zM247.5 177.25h10.1v2.20h-10.1zM404.6 205.25h10.1v2.20h-10.1zM463.6 217.25h10.1v2.20h-10.1zM198.4 228.25h10.1v1.20h-10.1zM208.2 228.25h10.1v1.20h-10.1z"/>
<path fill="#101040" d="M375.2 52.25h10.1v1.20h-10.1zM208.2 57.25h10.1v2.20h-10.1zM208.2 62.25h10.1v2.20h-10.1zM424.3 64.25h10.1v1.20h-10.1zM473.4 88.25h10.1v1.20h-10.1zM385.0 113.25h10.1v1.20h-10.1zM257.3 124.25h10.1v2.20h-10.1zM237.7 126.25h10.1v1.20h-10.1zM208.2 136.25h10.1v2.20h-10.1zM198.4 140.25h10.1v1.20h-10.1zM394.8 149.25h10.1v2.20h-10.1zM375.2 164.25h10.1v1.20h-10.1zM365.3 165.25h10.1v1.20h-10.1zM443.9 180.25h10.1v1.20h-10.1zM385.0 183.25h10.1v1.20h-10.1zM365.3 186.25h10.1v2.20h-10.1zM375.2 188.25h10.1v2.20h-10.1zM335.9 192.25h10.1v1.20h-10.1zM453.7 192.25h10.1v1.20h-10.1zM296.6 193.25h10.1v1.20h-10.1zM394.8 194.25h10.1v1.20h-10.1zM453.7 195.25h10.1v1.20h-10.1zM267.1 202.25h10.1v1.20h-10.1zM316.2 204.25h10.1v1.20h-10.1zM385.0 205.25h10.1v2.20h-10.1zM178.7 209.25h10.1v2.20h-10.1zM316.2 212.25h10.1v1.20h-10.1zM149.3 221.25h10.1v2.20h-10.1zM159.1 226.25h10.1v2.20h-10.1z"/>
<path fill="#2038b0" d="M453.7 52.25h10.1v1.20h-10.1zM463.6 52.25h10.1v1.20h-10.1zM453.7 54.25h10.1v1.20h-10.1zM453.7 61.25h10.1v1.20h-10.1zM404.6 62.25h10.1v2.20h-10.1zM198.4 71.25h10.1v1.20h-10.1zM463.6 77.25h10.1v1.20h-10.1zM385.0 80.25h10.1v1.20h-10.1zM424.3 97.25h10.1v2.20h-10.1zM453.7 101.25h10.1v1.20h-10.1zM463.6 104.25h10.1v1.20h-10.1zM473.4 107.25h10.1v2.20h-10.1zM404.6 113.25h10.1v1.20h-10.1zM443.9 122.25h10.1v2.20h-10.1zM443.9 126.25h10.1v1.20h-10.1zM414.5 128.25h10.1v2.20h-10.1zM453.7 130.25h10.1v2.20h-10.1zM434.1 134.25h10.1v4.20h-10.1zM463.6 138.25h10.1v1.20h-10.1zM414.5 140.25h10.1v1.20h-10.1zM463.6 151.25h10.1v2.20h-10.1zM414.5 156.25h10.1v4.20h-10.1zM434.1 160.25h10.1v2.20h-10.1zM434.1 164.25h10.1v1.20h-10.1zM434.1 167.25h10.1v2.20h-10.1zM473.4 167.25h10.1v2.20h-10.1zM463.6 174.25h10.1v1.20h-10.1zM473.4 174.25h10.1v1.20h-10.1zM404.6 175.25h10.1v2.20h-10.1zM385.0 181.25h10.1v2.20h-10.1zM424.3 188.25h10.1v2.20h-10.1zM404.6 190.25h10.1v1.20h-10.1zM473.4 190.25h10.1v1.20h-10.1zM178.7 200.25h10.1v1.20h-10.1zM198.4 202.25h10.1v1.20h-10.1zM139.5 207.25h10.1v2.20h-10.1zM119.8 212.25h10.1v1.20h-10.1zM110.0 215.25h10.1v2.20h-10.1zM178.7 228.25h10.1v1.20h-10.1zM277.0 228.25h10.1v1.20h-10.1z"/>
<path fill="#b8b830" d="M110.0 53.25h10.1v1.20h-10.1zM277.0 85.25h10.1v1.20h-10.1zM247.5 86.25h10.1v1.20h-10.1zM149.3 95.25h10.1v2.20h-10.1zM316.2 105.25h10.1v1.20h-10.1zM139.5 109.25h10.1v2.20h-10.1zM139.5 122.25h10.1v2.20h-10.1zM110.0 134.25h10.1v2.20h-10.1zM168.9 140.25h10.1v1.20h-10.1zM277.0 144.25h10.1v1.20h-10.1zM188.6 160.25h10.1v2.20h-10.1zM119.8 171.25h10.1v2.20h-10.1zM139.5 171.25h10.1v2.20h-10.1zM414.5 211.25h10.1v1.20h-10.1zM434.1 215.25h10.1v2.20h-10.1zM453.7 231.25h10.1v0.70h-10.1z"/>
<path fill="#a8a030" d="M227.9 53.25h10.1v1.20h-10.1zM227.9 55.25h10.1v2.20h-10.1zM277.0 68.25h10.1v2.20h-10.1zM286.8 72.25h10.1v1.20h-10.1zM178.7 93.25h10.1v2.20h-10.1zM227.9 93.25h10.1v2.20h-10.1zM316.2 109.25h10.1v2.20h-10.1zM306.4 119.25h10.1v2.20h-10.1zM129.6 128.25h10.1v2.20h-10.1zM159.1 132.25h10.1v2.20h-10.1zM129.6 134.25h10.1v2.20h-10.1zM286.8 134.25h10.1v2.20h-10.1zM277.0 136.25h10.1v2.20h-10.1zM306.4 136.25h10.1v2.20h-10.1zM335.9 139.25h10.1v2.20h-10.1zM159.1 143.25h10.1v1.20h-10.1zM277.0 143.25h10.1v1.20h-10.1zM129.6 193.25h10.1v1.20h-10.1zM424.3 212.25h10.1v1.20h-10.1z"/>
<path fill="#d8d838" d="M277.0 53.25h10.1v1.20h-10.1zM139.5 57.25h10.1v2.20h-10.1zM247.5 105.25h10.1v1.20h-10.1zM139.5 107.25h10.1v2.20h-10.1zM119.8 116.25h10.1v2.20h-10.1zM316.2 134.25h10.1v2.20h-10.1zM129.6 158.25h10.1v1.20h-10.1zM129.6 173.25h10.1v1.20h-10.1zM453.7 224.25h10.1v2.20h-10.1z"/>
<path fill="#182888" d="M434.1 53.25h10.1v1.20h-10.1zM198.4 59.25h10.1v1.20h-10.1zM473.4 60.25h10.1v1.20h-10.1zM453.7 68.25h10.1v2.20h-10.1zM473.4 70.25h10.1v1.20h-10.1zM414.5 74.25h10.1v1.20h-10.1zM434.1 75.25h10.1v2.20h-10.1zM443.9 77.25h10.1v1.20h-10.1zM188.6 78.25h10.1v1.20h-10.1zM473.4 79.25h10.1v1.20h-10.1zM188.6 80.25h10.1v1.20h-10.1zM434.1 82.25h10.1v1.20h-10.1zM473.4 83.25h10.1v2.20h-10.1zM385.0 85.25h10.1v1.20h-10.1zM434.1 97.25h10.1v2.20h-10.1zM473.4 99.25h10.1v2.20h-10.1zM424.3 102.25h10.1v1.20h-10.1zM443.9 105.25h10.1v1.20h-10.1zM385.0 107.25h10.1v2.20h-10.1zM394.8 109.25h10.1v2.20h-10.1zM424.3 113.25h10.1v1.20h-10.1zM414.5 115.25h10.1v1.20h-10.1zM473.4 118.25h10.1v1.20h-10.1zM463.6 121.25h10.1v1.20h-10.1zM424.3 122.25h10.1v4.20h-10.1zM453.7 122.25h10.1v2.20h-10.1zM453.7 126.25h10.1v1.20h-10.1zM188.6 130.25h10.1v2.20h-10.1zM453.7 136.25h10.1v2.20h-10.1zM453.7 139.25h10.1v1.20h-10.1zM473.4 139.25h10.1v1.20h-10.1zM443.9 140.25h10.1v1.20h-10.1zM453.7 141.25h10.1v3.20h-10.1zM404.6 143.25h10.1v1.20h-10.1zM443.9 146.25h10.1v2.20h-10.1zM463.6 146.25h10.1v2.20h-10.1zM473.4 151.25h10.1v2.20h-10.1zM443.9 156.25h10.1v2.20h-10.1zM453.7 156.25h10.1v2.20h-10.1zM473.4 158.25h10.1v1.20h-10.1zM394.8 160.25h10.1v2.20h-10.1zM443.9 160.25h10.1v3.20h-10.1zM473.4 166.25h10.1v1.20h-10.1zM394.8 167.25h10.1v2.20h-10.1zM463.6 167.25h10.1v2.20h-10.1zM394.8 174.25h10.1v1.20h-10.1zM434.1 174.25h10.1v1.20h-10.1zM443.9 175.25h10.1v4.20h-10.1zM473.4 175.25h10.1v2.20h-10.1zM385.0 179.25h10.1v1.20h-10.1zM424.3 181.25h10.1v2.20h-10.1zM463.6 183.25h10.1v1.20h-10.1zM385.0 188.25h10.1v2.20h-10.1zM443.9 192.25h10.1v2.20h-10.1zM473.4 193.25h10.1v1.20h-10.1zM404.6 195.25h10.1v1.20h-10.1zM443.9 195.25h10.1v1.20h-10.1zM188.6 197.25h10.1v1.20h-10.1zM119.8 205.25h10.1v2.20h-10.1zM168.9 213.25h10.1v2.20h-10.1zM139.5 221.25h10.1v2.20h-10.1zM188.6 228.25h10.1v1.20h-10.1zM237.7 228.25h10.1v1.20h-10.1zM188.6 231.25h10.1v0.70h-10.1zM237.7 231.25h10.1v0.70h-10.1zM247.5 231.25h10.1v0.70h-10.1zM267.1 231.25h10.1v0.70h-10.1z"/>
<path fill="#183090" d="M443.9 53.25h10.1v1.20h-10.1zM394.8 54.25h10.1v1.20h-10.1zM463.6 54.25h10.1v1.20h-10.1zM198.4 55.25h10.1v2.20h-10.1zM385.0 55.25h10.1v2.20h-10.1zM404.6 59.25h10.1v1.20h-10.1zM463.6 61.25h10.1v1.20h-10.1zM453.7 64.25h10.1v1.20h-10.1zM473.4 66.25h10.1v1.20h-10.1zM404.6 73.25h10.1v1.20h-10.1zM473.4 74.25h10.1v1.20h-10.1zM188.6 75.25h10.1v2.20h-10.1zM198.4 77.25h10.1v1.20h-10.1zM434.1 80.25h10.1v1.20h-10.1zM473.4 82.25h10.1v1.20h-10.1zM208.2 85.25h10.1v1.20h-10.1zM453.7 86.25h10.1v1.20h-10.1zM424.3 95.25h10.1v2.20h-10.1zM463.6 102.25h10.1v1.20h-10.1zM434.1 103.25h10.1v1.20h-10.1zM463.6 115.25h10.1v1.20h-10.1zM463.6 119.25h10.1v2.20h-10.1zM149.3 122.25h10.1v2.20h-10.1zM473.4 126.25h10.1v1.20h-10.1zM198.4 127.25h10.1v1.20h-10.1zM453.7 127.25h10.1v1.20h-10.1zM188.6 141.25h10.1v2.20h-10.1zM198.4 143.25h10.1v1.20h-10.1zM385.0 145.25h10.1v1.20h-10.1zM453.7 146.25h10.1v2.20h-10.1zM414.5 148.25h10.1v1.20h-10.1zM463.6 148.25h10.1v1.20h-10.1zM453.7 151.25h10.1v2.20h-10.1zM385.0 163.25h10.1v1.20h-10.1zM463.6 164.25h10.1v1.20h-10.1zM385.0 165.25h10.1v1.20h-10.1zM394.8 165.25h10.1v1.20h-10.1zM473.4 186.25h10.1v2.20h-10.1zM473.4 191.25h10.1v1.20h-10.1zM424.3 196.25h10.1v1.20h-10.1zM463.6 196.25h10.1v1.20h-10.1zM168.9 201.25h10.1v1.20h-10.1zM208.2 204.25h10.1v1.20h-10.1zM394.8 217.25h10.1v4.20h-10.1zM227.9 224.25h10.1v2.20h-10.1zM247.5 224.25h10.1v2.20h-10.1zM110.0 228.25h10.1v1.20h-10.1zM277.0 231.25h10.1v0.70h-10.1z"/>
<path fill="#787828" d="M119.8 55.25h10.1v2.20h-10.1zM149.3 55.25h10.1v2.20h-10.1zM335.9 55.25h10.1v4.20h-10.1zM159.1 59.25h10.1v1.20h-10.1zM227.9 60.25h10.1v1.20h-10.1zM326.1 62.25h10.1v2.20h-10.1zM365.3 62.25h10.1v2.20h-10.1zM237.7 66.25h10.1v1.20h-10.1zM296.6 66.25h10.1v1.20h-10.1zM168.9 67.25h10.1v1.20h-10.1zM247.5 70.25h10.1v1.20h-10.1zM345.7 71.25h10.1v1.20h-10.1zM316.2 73.25h10.1v1.20h-10.1zM365.3 74.25h10.1v1.20h-10.1zM110.0 75.25h10.1v2.20h-10.1zM139.5 75.25h10.1v2.20h-10.1zM168.9 80.25h10.1v1.20h-10.1zM119.8 83.25h10.1v2.20h-10.1zM188.6 86.25h10.1v1.20h-10.1zM139.5 97.25h10.1v2.20h-10.1zM178.7 97.25h10.1v2.20h-10.1zM188.6 99.25h10.1v2.20h-10.1zM306.4 105.25h10.1v1.20h-10.1zM247.5 116.25h10.1v2.20h-10.1zM168.9 126.25h10.1v2.20h-10.1zM149.3 128.25h10.1v2.20h-10.1zM277.0 132.25h10.1v2.20h-10.1zM218.0 134.25h10.1v2.20h-10.1zM139.5 136.25h10.1v2.20h-10.1zM306.4 145.25h10.1v1.20h-10.1zM218.0 153.25h10.1v1.20h-10.1zM149.3 160.25h10.1v2.20h-10.1zM178.7 162.25h10.1v1.20h-10.1zM188.6 164.25h10.1v1.20h-10.1zM316.2 181.25h10.1v2.20h-10.1zM149.3 186.25h10.1v2.20h-10.1zM277.0 186.25h10.1v2.20h-10.1zM198.4 188.25h10.1v2.20h-10.1zM198.4 193.25h10.1v1.20h-10.1zM168.9 194.25h10.1v1.20h-10.1zM277.0 196.25h10.1v1.20h-10.1zM443.9 197.25h10.1v1.20h-10.1zM443.9 204.25h10.1v1.20h-10.1zM473.4 209.25h10.1v2.20h-10.1z"/>
<path fill="#c8c030" d="M139.5 55.25h10.1v2.20h-10.1zM277.0 55.25h10.1v2.20h-10.1zM168.9 57.25h10.1v2.20h-10.1zM129.6 60.25h10.1v1.20h-10.1zM129.6 62.25h10.1v2.20h-10.1zM159.1 81.25h10.1v1.20h-10.1zM139.5 104.25h10.1v1.20h-10.1zM119.8 115.25h10.1v1.20h-10.1zM227.9 116.25h10.1v2.20h-10.1zM375.2 119.25h10.1v2.20h-10.1zM316.2 139.25h10.1v1.20h-10.1zM277.0 140.25h10.1v1.20h-10.1zM110.0 143.25h10.1v1.20h-10.1zM149.3 143.25h10.1v1.20h-10.1zM306.4 143.25h10.1v1.20h-10.1zM110.0 145.25h10.1v1.20h-10.1zM129.6 145.25h10.1v1.20h-10.1zM149.3 145.25h10.1v1.20h-10.1zM119.8 163.25h10.1v1.20h-10.1zM178.7 165.25h10.1v1.20h-10.1zM168.9 192.25h10.1v1.20h-10.1zM424.3 211.25h10.1v1.20h-10.1zM473.4 211.25h10.1v1.20h-10.1zM414.5 212.25h10.1v1.20h-10.1zM424.3 217.25h10.1v2.20h-10.1zM473.4 231.25h10.1v0.70h-10.1z"/>
<path fill="#d0d038" d="M110.0 57.25h10.1v2.20h-10.1zM277.0 78.25h10.1v1.20h-10.1zM139.5 115.25h10.1v1.20h-10.1zM227.9 115.25h10.1v1.20h-10.1zM139.5 121.25h10.1v1.20h-10.1zM119.8 127.25h10.1v1.20h-10.1zM286.8 139.25h10.1v1.20h-10.1zM277.0 145.25h10.1v1.20h-10.1zM218.0 163.25h10.1v1.20h-10.1zM129.6 164.25h10.1v1.20h-10.1zM139.5 165.25h10.1v1.20h-10.1zM168.9 193.25h10.1v1.20h-10.1zM424.3 219.25h10.1v2.20h-10.1zM473.4 229.25h10.1v1.20h-10.1z"/>
<path fill="#e8e838" d="M129.6 57.25h10.1v2.20h-10.1zM178.7 81.25h10.1v1.20h-10.1zM139.5 132.25h10.1v2.20h-10.1zM139.5 160.25h10.1v2.20h-10.1zM119.8 165.25h10.1v1.20h-10.1z"/>
<path fill="#686828" d="M237.7 57.25h10.1v2.20h-10.1zM110.0 61.25h10.1v1.20h-10.1zM237.7 62.25h10.1v2.20h-10.1zM257.3 67.25h10.1v1.20h-10.1zM247.5 68.25h10.1v2.20h-10.1zM326.1 68.25h10.1v2.20h-10.1zM139.5 70.25h10.1v1.20h-10.1zM286.8 70.25h10.1v1.20h-10.1zM267.1 75.25h10.1v2.20h-10.1zM286.8 78.25h10.1v1.20h-10.1zM159.1 80.25h10.1v1.20h-10.1zM296.6 80.25h10.1v1.20h-10.1zM267.1 86.25h10.1v1.20h-10.1zM110.0 89.25h10.1v2.20h-10.1zM277.0 97.25h10.1v2.20h-10.1zM149.3 101.25h10.1v1.20h-10.1zM227.9 105.25h10.1v1.20h-10.1zM306.4 115.25h10.1v3.20h-10.1zM129.6 118.25h10.1v1.20h-10.1zM168.9 124.25h10.1v2.20h-10.1zM335.9 126.25h10.1v1.20h-10.1zM168.9 148.25h10.1v1.20h-10.1zM306.4 148.25h10.1v1.20h-10.1zM188.6 154.25h10.1v2.20h-10.1zM188.6 158.25h10.1v1.20h-10.1zM345.7 171.25h10.1v2.20h-10.1zM237.7 173.25h10.1v1.20h-10.1zM434.1 217.25h10.1v2.20h-10.1z"/>
<path fill="#989028" d="M286.8 57.25h10.1v2.20h-10.1zM159.1 68.25h10.1v2.20h-10.1zM237.7 95.25h10.1v2.20h-10.1zM119.8 99.25h10.1v2.20h-10.1zM286.8 127.25h10.1v1.20h-10.1zM218.0 159.25h10.1v1.20h-10.1zM208.2 163.25h10.1v1.20h-10.1zM404.6 221.25h10.1v2.20h-10.1z"/>
<path fill="#182070" d="M443.9 62.25h10.1v2.20h-10.1zM443.9 66.25h10.1v2.20h-10.1zM434.1 73.25h10.1v1.20h-10.1zM385.0 77.25h10.1v1.20h-10.1zM394.8 78.25h10.1v1.20h-10.1zM424.3 78.25h10.1v1.20h-10.1zM434.1 78.25h10.1v1.20h-10.1zM443.9 79.25h10.1v1.20h-10.1zM296.6 81.25h10.1v1.20h-10.1zM424.3 81.25h10.1v1.20h-10.1zM208.2 82.25h10.1v1.20h-10.1zM296.6 85.25h10.1v1.20h-10.1zM394.8 86.25h10.1v1.20h-10.1zM385.0 88.25h10.1v1.20h-10.1zM453.7 88.25h10.1v1.20h-10.1zM434.1 93.25h10.1v4.20h-10.1zM443.9 93.25h10.1v2.20h-10.1zM198.4 95.25h10.1v2.20h-10.1zM424.3 99.25h10.1v2.20h-10.1zM443.9 101.25h10.1v1.20h-10.1zM394.8 105.25h10.1v1.20h-10.1zM198.4 107.25h10.1v2.20h-10.1zM414.5 109.25h10.1v2.20h-10.1zM149.3 116.25h10.1v2.20h-10.1zM394.8 116.25h10.1v2.20h-10.1zM463.6 118.25h10.1v1.20h-10.1zM198.4 122.25h10.1v2.20h-10.1zM198.4 126.25h10.1v1.20h-10.1zM443.9 130.25h10.1v2.20h-10.1zM188.6 136.25h10.1v2.20h-10.1zM434.1 138.25h10.1v1.20h-10.1zM385.0 148.25h10.1v3.20h-10.1zM404.6 148.25h10.1v1.20h-10.1zM473.4 149.25h10.1v2.20h-10.1zM394.8 151.25h10.1v2.20h-10.1zM473.4 159.25h10.1v1.20h-10.1zM453.7 160.25h10.1v2.20h-10.1zM463.6 160.25h10.1v2.20h-10.1zM404.6 162.25h10.1v1.20h-10.1zM424.3 162.25h10.1v1.20h-10.1zM375.2 163.25h10.1v1.20h-10.1zM473.4 165.25h10.1v1.20h-10.1zM385.0 166.25h10.1v1.20h-10.1zM404.6 166.25h10.1v1.20h-10.1zM424.3 166.25h10.1v1.20h-10.1zM434.1 166.25h10.1v1.20h-10.1zM443.9 171.25h10.1v2.20h-10.1zM434.1 173.25h10.1v1.20h-10.1zM473.4 177.25h10.1v2.20h-10.1zM424.3 179.25h10.1v1.20h-10.1zM434.1 180.25h10.1v1.20h-10.1zM443.9 184.25h10.1v4.20h-10.1zM473.4 184.25h10.1v2.20h-10.1zM178.7 197.25h10.1v1.20h-10.1zM129.6 201.25h10.1v1.20h-10.1zM237.7 204.25h10.1v1.20h-10.1zM247.5 204.25h10.1v1.20h-10.1zM110.0 207.25h10.1v2.20h-10.1zM168.9 209.25h10.1v2.20h-10.1zM129.6 213.25h10.1v2.20h-10.1zM139.5 213.25h10.1v2.20h-10.1zM159.1 221.25h10.1v2.20h-10.1zM247.5 221.25h10.1v2.20h-10.1zM286.8 221.25h10.1v2.20h-10.1zM286.8 224.25h10.1v2.20h-10.1zM110.0 229.25h10.1v1.20h-10.1z"/>
<path fill="#182890" d="M385.0 65.25h10.1v1.20h-10.1zM463.6 71.25h10.1v1.20h-10.1zM188.6 73.25h10.1v1.20h-10.1zM473.4 86.25h10.1v1.20h-10.1zM404.6 87.25h10.1v2.20h-10.1zM394.8 99.25h10.1v2.20h-10.1zM473.4 104.25h10.1v1.20h-10.1zM434.1 106.25h10.1v1.20h-10.1zM434.1 114.25h10.1v1.20h-10.1zM424.3 121.25h10.1v1.20h-10.1zM453.7 121.25h10.1v1.20h-10.1zM198.4 124.25h10.1v2.20h-10.1zM463.6 124.25h10.1v2.20h-10.1zM463.6 127.25h10.1v1.20h-10.1zM443.9 138.25h10.1v2.20h-10.1zM178.7 143.25h10.1v1.20h-10.1zM434.1 158.25h10.1v1.20h-10.1zM394.8 171.25h10.1v2.20h-10.1zM473.4 171.25h10.1v3.20h-10.1zM463.6 173.25h10.1v1.20h-10.1zM394.8 177.25h10.1v3.20h-10.1zM394.8 183.25h10.1v1.20h-10.1zM473.4 183.25h10.1v1.20h-10.1zM434.1 184.25h10.1v2.20h-10.1zM385.0 186.25h10.1v2.20h-10.1zM463.6 188.25h10.1v2.20h-10.1zM424.3 190.25h10.1v1.20h-10.1zM434.1 191.25h10.1v1.20h-10.1zM463.6 192.25h10.1v1.20h-10.1zM424.3 194.25h10.1v1.20h-10.1zM434.1 196.25h10.1v1.20h-10.1zM188.6 205.25h10.1v2.20h-10.1zM227.9 228.25h10.1v1.20h-10.1z"/>
<path fill="#102070" d="M394.8 66.25h10.1v1.20h-10.1zM434.1 77.25h10.1v1.20h-10.1zM473.4 87.25h10.1v1.20h-10.1zM453.7 99.25h10.1v2.20h-10.1zM463.6 194.25h10.1v1.20h-10.1zM394.8 196.25h10.1v1.20h-10.1zM149.3 202.25h10.1v1.20h-10.1z"/>
<path fill="#2030a0" d="M404.6 67.25h10.1v1.20h-10.1zM404.6 80.25h10.1v1.20h-10.1zM385.0 99.25h10.1v3.20h-10.1zM424.3 103.25h10.1v1.20h-10.1zM453.7 105.25h10.1v1.20h-10.1zM473.4 105.25h10.1v1.20h-10.1zM385.0 121.25h10.1v1.20h-10.1zM443.9 132.25h10.1v2.20h-10.1zM473.4 134.25h10.1v2.20h-10.1zM414.5 138.25h10.1v1.20h-10.1zM473.4 141.25h10.1v2.20h-10.1zM443.9 145.25h10.1v1.20h-10.1zM404.6 146.25h10.1v2.20h-10.1zM443.9 154.25h10.1v2.20h-10.1zM473.4 156.25h10.1v2.20h-10.1zM443.9 165.25h10.1v1.20h-10.1zM434.1 177.25h10.1v2.20h-10.1zM473.4 192.25h10.1v1.20h-10.1zM178.7 204.25h10.1v1.20h-10.1zM139.5 217.25h10.1v2.20h-10.1zM188.6 219.25h10.1v2.20h-10.1z"/>
<path fill="#101858" d="M473.4 68.25h10.1v2.20h-10.1zM424.3 73.25h10.1v1.20h-10.1zM385.0 79.25h10.1v1.20h-10.1zM296.6 82.25h10.1v1.20h-10.1zM355.5 82.25h10.1v1.20h-10.1zM208.2 87.25h10.1v1.20h-10.1zM434.1 87.25h10.1v1.20h-10.1zM443.9 99.25h10.1v2.20h-10.1zM434.1 109.25h10.1v2.20h-10.1zM394.8 118.25h10.1v1.20h-10.1zM335.9 181.25h10.1v2.20h-10.1zM424.3 184.25h10.1v2.20h-10.1zM434.1 194.25h10.1v1.20h-10.1zM110.0 209.25h10.1v2.20h-10.1zM218.0 219.25h10.1v2.20h-10.1zM257.3 228.25h10.1v1.20h-10.1z"/>
<path fill="#2848ff" d="M198.4 72.25h10.1v1.20h-10.1zM198.4 74.25h10.1v1.20h-10.1zM463.6 91.25h10.1v2.20h-10.1zM394.8 95.25h10.1v2.20h-10.1zM404.6 115.25h10.1v1.20h-10.1zM404.6 154.25h10.1v2.20h-10.1zM168.9 202.25h10.1v1.20h-10.1z"/>
<path fill="#f0e838" d="M149.3 81.25h10.1v1.20h-10.1zM247.5 81.25h10.1v1.20h-10.1zM159.1 82.25h10.1v1.20h-10.1zM110.0 83.25h10.1v2.20h-10.1zM110.0 86.25h10.1v1.20h-10.1zM129.6 111.25h10.1v2.20h-10.1zM129.6 126.25h10.1v1.20h-10.1zM168.9 153.25h10.1v1.20h-10.1zM277.0 171.25h10.1v2.20h-10.1zM463.6 231.25h10.1v0.70h-10.1z"/>
<path fill="#d0c838" d="M110.0 82.25h10.1v1.20h-10.1zM168.9 107.25h10.1v2.20h-10.1zM168.9 139.25h10.1v1.20h-10.1zM149.3 181.25h10.1v2.20h-10.1zM394.8 228.25h10.1v1.20h-10.1z"/>
<path fill="#f8f038" d="M149.3 83.25h10.1v2.20h-10.1zM129.6 97.25h10.1v2.20h-10.1zM168.9 97.25h10.1v2.20h-10.1zM110.0 105.25h10.1v1.20h-10.1zM110.0 116.25h10.1v2.20h-10.1zM129.6 154.25h10.1v2.20h-10.1zM257.3 158.25h10.1v1.20h-10.1zM168.9 165.25h10.1v1.20h-10.1zM168.9 173.25h10.1v1.20h-10.1zM149.3 177.25h10.1v2.20h-10.1zM168.9 183.25h10.1v1.20h-10.1zM424.3 215.25h10.1v2.20h-10.1zM404.6 224.25h10.1v2.20h-10.1z"/>
<path fill="#182078" d="M296.6 83.25h10.1v2.20h-10.1zM394.8 87.25h10.1v1.20h-10.1zM434.1 99.25h10.1v2.20h-10.1zM434.1 107.25h10.1v2.20h-10.1zM453.7 109.25h10.1v2.20h-10.1zM414.5 116.25h10.1v2.20h-10.1zM463.6 122.25h10.1v2.20h-10.1zM178.7 141.25h10.1v2.20h-10.1zM385.0 160.25h10.1v2.20h-10.1zM424.3 177.25h10.1v2.20h-10.1zM443.9 181.25h10.1v2.20h-10.1zM463.6 184.25h10.1v2.20h-10.1zM198.4 197.25h10.1v1.20h-10.1zM335.9 219.25h10.1v2.20h-10.1zM286.8 231.25h10.1v0.70h-10.1z"/>
<path fill="#e0d838" d="M247.5 85.25h10.1v1.20h-10.1zM375.2 115.25h10.1v1.20h-10.1zM227.9 119.25h10.1v2.20h-10.1zM139.5 128.25h10.1v2.20h-10.1zM306.4 132.25h10.1v2.20h-10.1zM139.5 134.25h10.1v2.20h-10.1zM168.9 141.25h10.1v2.20h-10.1zM168.9 160.25h10.1v2.20h-10.1zM129.6 165.25h10.1v1.20h-10.1zM188.6 165.25h10.1v1.20h-10.1zM178.7 167.25h10.1v2.20h-10.1zM168.9 196.25h10.1v1.20h-10.1zM414.5 197.25h10.1v1.20h-10.1zM434.1 202.25h10.1v1.20h-10.1z"/>
<path fill="#f0f038" d="M168.9 109.25h10.1v2.20h-10.1zM434.1 207.25h10.1v2.20h-10.1zM463.6 229.25h10.1v1.20h-10.1z"/>
<path fill="#c8c830" d="M139.5 116.25h10.1v2.20h-10.1zM335.9 132.25h10.1v2.20h-10.1zM316.2 136.25h10.1v2.20h-10.1zM277.0 163.25h10.1v1.20h-10.1zM129.6 177.25h10.1v2.20h-10.1zM188.6 188.25h10.1v2.20h-10.1zM188.6 192.25h10.1v1.20h-10.1zM414.5 215.25h10.1v2.20h-10.1z"/>
<path fill="#f8f838" d="M149.3 151.25h10.1v2.20h-10.1zM463.6 228.25h10.1v1.20h-10.1z"/>
<path fill="#100818" d="M247.5 209.25h10.1v2.20h-10.1z"/>
</g>
<rect x="110.90" y="31.8" width="8.12" height="3.1" fill="#e07818"/>
<rect x="110.90" y="36.1" width="8.12" height="3.1" fill="#f8f028"/>
<rect x="120.72" y="31.8" width="8.12" height="3.1" fill="#e07818"/>
<rect x="120.72" y="36.1" width="8.12" height="3.1" fill="#e01010"/>
<rect x="130.54" y="31.8" width="8.12" height="3.1" fill="#e07818"/>
<rect x="130.54" y="36.1" width="8.12" height="3.1" fill="#1428e0"/>
<rect x="140.36" y="31.8" width="8.12" height="3.1" fill="#e07818"/>
<rect x="140.36" y="36.1" width="8.12" height="3.1" fill="#84f020"/>
<rect x="150.18" y="31.8" width="8.12" height="3.1" fill="#7a2c0c"/>
<rect x="150.18" y="36.1" width="8.12" height="3.1" fill="#1428e0"/>
<rect x="160.01" y="31.8" width="8.12" height="3.1" fill="#86f2f2"/>
<rect x="160.01" y="36.1" width="8.12" height="3.1" fill="#84f020"/>
<rect x="169.83" y="31.8" width="8.12" height="3.1" fill="#86f2f2"/>
<rect x="169.83" y="36.1" width="8.12" height="3.1" fill="#1428e0"/>
<rect x="179.65" y="31.8" width="8.12" height="3.1" fill="#f8f028"/>
<rect x="179.65" y="36.1" width="8.12" height="3.1" fill="#e01010"/>
<rect x="189.47" y="31.8" width="8.12" height="3.1" fill="#f8f028"/>
<rect x="189.47" y="36.1" width="8.12" height="3.1" fill="#1428e0"/>
<rect x="199.29" y="31.8" width="8.12" height="3.1" fill="#f8f028"/>
<rect x="199.29" y="36.1" width="8.12" height="3.1" fill="#84f020"/>
<rect x="209.11" y="31.8" width="8.12" height="3.1" fill="#7a2c0c"/>
<rect x="209.11" y="36.1" width="8.12" height="3.1" fill="#e01010"/>
<rect x="218.93" y="31.8" width="8.12" height="3.1" fill="#7a2c0c"/>
<rect x="218.93" y="36.1" width="8.12" height="3.1" fill="#f8f028"/>
<rect x="228.75" y="31.8" width="8.12" height="3.1" fill="#84f020"/>
<rect x="228.75" y="36.1" width="8.12" height="3.1" fill="#f8f028"/>
<rect x="238.57" y="31.8" width="8.12" height="3.1" fill="#84f020"/>
<rect x="238.57" y="36.1" width="8.12" height="3.1" fill="#e01010"/>
<rect x="248.39" y="31.8" width="8.12" height="3.1" fill="#84f020"/>
<rect x="248.39" y="36.1" width="8.12" height="3.1" fill="#1428e0"/>
<rect x="258.22" y="31.8" width="8.12" height="3.1" fill="#84f020"/>
<rect x="258.22" y="36.1" width="8.12" height="3.1" fill="#84f020"/>
<rect x="268.04" y="31.8" width="8.12" height="3.1" fill="#e01010"/>
<rect x="268.04" y="36.1" width="8.12" height="3.1" fill="#1428e0"/>
<rect x="277.86" y="31.8" width="8.12" height="3.1" fill="#e01010"/>
<rect x="277.86" y="36.1" width="8.12" height="3.1" fill="#e01010"/>
<rect x="287.68" y="31.8" width="8.12" height="3.1" fill="#e01010"/>
<rect x="287.68" y="36.1" width="8.12" height="3.1" fill="#84f020"/>
<rect x="297.50" y="31.8" width="8.12" height="3.1" fill="#e01010"/>
<rect x="297.50" y="36.1" width="8.12" height="3.1" fill="#f8f028"/>
<rect x="307.32" y="31.8" width="8.12" height="3.1" fill="#1428e0"/>
<rect x="307.32" y="36.1" width="8.12" height="3.1" fill="#f8f028"/>
<rect x="317.14" y="31.8" width="8.12" height="3.1" fill="#1428e0"/>
<rect x="317.14" y="36.1" width="8.12" height="3.1" fill="#e01010"/>
<rect x="326.96" y="31.8" width="8.12" height="3.1" fill="#1428e0"/>
<rect x="326.96" y="36.1" width="8.12" height="3.1" fill="#84f020"/>
<rect x="336.78" y="31.8" width="8.12" height="3.1" fill="#1428e0"/>
<rect x="336.78" y="36.1" width="8.12" height="3.1" fill="#1428e0"/>
<rect x="346.61" y="31.8" width="8.12" height="3.1" fill="#e018e0"/>
<rect x="346.61" y="36.1" width="8.12" height="3.1" fill="#1428e0"/>
<rect x="356.43" y="31.8" width="8.12" height="3.1" fill="#e018e0"/>
<rect x="356.43" y="36.1" width="8.12" height="3.1" fill="#f8f028"/>
<rect x="366.25" y="31.8" width="8.12" height="3.1" fill="#e018e0"/>
<rect x="366.25" y="36.1" width="8.12" height="3.1" fill="#e01010"/>
<rect x="376.07" y="31.8" width="8.12" height="3.1" fill="#e018e0"/>
<rect x="376.07" y="36.1" width="8.12" height="3.1" fill="#84f020"/>
<rect x="385.89" y="31.8" width="8.12" height="3.1" fill="#86f2f2"/>
<rect x="385.89" y="36.1" width="8.12" height="3.1" fill="#f8f028"/>
<rect x="395.71" y="31.8" width="8.12" height="3.1" fill="#86f2f2"/>
<rect x="395.71" y="36.1" width="8.12" height="3.1" fill="#e01010"/>
<rect x="405.53" y="31.8" width="8.12" height="3.1" fill="#303030"/>
<rect x="405.53" y="36.1" width="8.12" height="3.1" fill="#080808"/>
<rect x="415.35" y="31.8" width="8.12" height="3.1" fill="#111111"/>
<rect x="415.35" y="36.1" width="8.12" height="3.1" fill="#080808"/>
<rect x="425.17" y="31.8" width="8.12" height="3.1" fill="#6a6a6a"/>
<rect x="425.17" y="36.1" width="8.12" height="3.1" fill="#080808"/>
<rect x="434.99" y="31.8" width="8.12" height="3.1" fill="#5a5a5a"/>
<rect x="434.99" y="36.1" width="8.12" height="3.1" fill="#080808"/>
<rect x="444.82" y="31.8" width="8.12" height="3.1" fill="#7a2c0c"/>
<rect x="444.82" y="36.1" width="8.12" height="3.1" fill="#84f020"/>
<rect x="454.64" y="31.8" width="8.12" height="3.1" fill="#f8f028"/>
<rect x="454.64" y="36.1" width="8.12" height="3.1" fill="#f8f028"/>
<rect x="464.46" y="31.8" width="8.12" height="3.1" fill="#080808"/>
<rect x="464.46" y="36.1" width="8.12" height="3.1" fill="#080808"/>
<rect x="474.28" y="31.8" width="8.12" height="3.1" fill="#484848"/>
<rect x="474.28" y="36.1" width="8.12" height="3.1" fill="#080808"/>
<text x="108.6" y="34.7" font-size="4.4" text-anchor="end" fill="#000" stroke="#000" stroke-width="0.12">Patient</text>
<text x="108.6" y="39.0" font-size="4.4" text-anchor="end" fill="#000" stroke="#000" stroke-width="0.12">Time</text>
<text transform="translate(112.81 236.6) rotate(90)" font-size="6.8" fill="#111">Pt8-10d</text>
<text transform="translate(122.63 236.6) rotate(90)" font-size="6.8" fill="#111">Pt8-1m</text>
<text transform="translate(132.45 236.6) rotate(90)" font-size="6.8" fill="#111">Pt8-0d</text>
<text transform="translate(142.27 236.6) rotate(90)" font-size="6.8" fill="#111">Pt8-2m</text>
<text transform="translate(152.09 236.6) rotate(90)" font-size="6.8" fill="#111">Pt5-0d</text>
<text transform="translate(161.92 236.6) rotate(90)" font-size="6.8" fill="#111">Pt6-2m</text>
<text transform="translate(171.74 236.6) rotate(90)" font-size="6.8" fill="#111">Pt6-0d</text>
<text transform="translate(181.56 236.6) rotate(90)" font-size="6.8" fill="#111">Pt7-1m</text>
<text transform="translate(191.38 236.6) rotate(90)" font-size="6.8" fill="#111">Pt7-0d</text>
<text transform="translate(201.20 236.6) rotate(90)" font-size="6.8" fill="#111">Pt7-2m</text>
<text transform="translate(211.02 236.6) rotate(90)" font-size="6.8" fill="#111">Pt5-1m</text>
<text transform="translate(220.84 236.6) rotate(90)" font-size="6.8" fill="#111">Pt5-10d</text>
<text transform="translate(230.66 236.6) rotate(90)" font-size="6.8" fill="#111">Pt2-10d</text>
<text transform="translate(240.48 236.6) rotate(90)" font-size="6.8" fill="#111">Pt2-1m</text>
<text transform="translate(250.31 236.6) rotate(90)" font-size="6.8" fill="#111">Pt2-0d</text>
<text transform="translate(260.13 236.6) rotate(90)" font-size="6.8" fill="#111">Pt2-2m</text>
<text transform="translate(269.95 236.6) rotate(90)" font-size="6.8" fill="#111">Pt1-0d</text>
<text transform="translate(279.77 236.6) rotate(90)" font-size="6.8" fill="#111">Pt1-1m</text>
<text transform="translate(289.59 236.6) rotate(90)" font-size="6.8" fill="#111">Pt1-2m</text>
<text transform="translate(299.41 236.6) rotate(90)" font-size="6.8" fill="#111">Pt1-10d</text>
<text transform="translate(309.23 236.6) rotate(90)" font-size="6.8" fill="#111">Pt3-10d</text>
<text transform="translate(319.05 236.6) rotate(90)" font-size="6.8" fill="#111">Pt3-1m</text>
<text transform="translate(328.87 236.6) rotate(90)" font-size="6.8" fill="#111">Pt3-2m</text>
<text transform="translate(338.69 236.6) rotate(90)" font-size="6.8" fill="#111">Pt3-0d</text>
<text transform="translate(348.52 236.6) rotate(90)" font-size="6.8" fill="#111">Pt4-0d</text>
<text transform="translate(358.34 236.6) rotate(90)" font-size="6.8" fill="#111">Pt4-10d</text>
<text transform="translate(368.16 236.6) rotate(90)" font-size="6.8" fill="#111">Pt4-1m</text>
<text transform="translate(377.98 236.6) rotate(90)" font-size="6.8" fill="#111">Pt4-2m</text>
<text transform="translate(387.80 236.6) rotate(90)" font-size="6.8" fill="#111">Pt6-10d</text>
<text transform="translate(397.62 236.6) rotate(90)" font-size="6.8" fill="#111">Pt6-1m</text>
<text transform="translate(407.44 236.6) rotate(90)" font-size="6.8" fill="#111">HC3</text>
<text transform="translate(417.26 236.6) rotate(90)" font-size="6.8" fill="#111">HC2</text>
<text transform="translate(427.08 236.6) rotate(90)" font-size="6.8" fill="#111">HC6</text>
<text transform="translate(436.91 236.6) rotate(90)" font-size="6.8" fill="#111">HC5</text>
<text transform="translate(446.73 236.6) rotate(90)" font-size="6.8" fill="#111">Pt5-2m</text>
<text transform="translate(456.55 236.6) rotate(90)" font-size="6.8" fill="#111">Pt7-10d</text>
<text transform="translate(466.37 236.6) rotate(90)" font-size="6.8" fill="#111">HC1</text>
<text transform="translate(476.19 236.6) rotate(90)" font-size="6.8" fill="#111">HC4</text>
<text x="40.4" y="242.2" font-size="5.8" font-style="italic" fill="#111">Patient</text>
<circle cx="41.8" cy="249.9" r="1.3" fill="#7cc242"/>
<text x="47.9" y="251.8" font-size="5.5" text-anchor="middle" fill="#000">1</text>
<circle cx="41.8" cy="257.1" r="1.3" fill="#e0404a"/>
<text x="47.9" y="259" font-size="5.5" text-anchor="middle" fill="#000">2</text>
<circle cx="54.5" cy="249.9" r="1.3" fill="#4848b8"/>
<text x="60.6" y="251.8" font-size="5.5" text-anchor="middle" fill="#000">3</text>
<circle cx="54.5" cy="257.1" r="1.3" fill="#a040b0"/>
<text x="60.6" y="259" font-size="5.5" text-anchor="middle" fill="#000">4</text>
<circle cx="67.2" cy="249.9" r="1.3" fill="#9a5a34"/>
<text x="73.3" y="251.8" font-size="5.5" text-anchor="middle" fill="#000">5</text>
<circle cx="67.2" cy="257.1" r="1.3" fill="#9adce0"/>
<text x="73.3" y="259" font-size="5.5" text-anchor="middle" fill="#000">6</text>
<circle cx="79.9" cy="249.9" r="1.3" fill="#f2e64a"/>
<text x="86.0" y="251.8" font-size="5.5" text-anchor="middle" fill="#000">7</text>
<circle cx="79.9" cy="257.1" r="1.3" fill="#f0a040"/>
<text x="86.0" y="259" font-size="5.5" text-anchor="middle" fill="#000">8</text>
<text x="13.0" y="277.1" font-size="12.4" font-weight="bold" fill="#000" textLength="8.8" lengthAdjust="spacingAndGlyphs">B</text>
<text x="12.9" y="399.3" font-size="12.4" font-weight="bold" fill="#000" textLength="8.2" lengthAdjust="spacingAndGlyphs">C</text>
<text x="193.8" y="277.1" font-size="12.4" font-weight="bold" fill="#000" textLength="8.2" lengthAdjust="spacingAndGlyphs">D</text>
<text x="12.8" y="18.1" font-size="12.6" font-weight="bold" fill="#000">A</text>
<path d="M40.6 284V359H93.6" fill="none" stroke="#0a0a0a" stroke-width="1.1"/>
<path d="M37.6 299.4H40.6" stroke="#111" stroke-width="0.8"/>
<text x="33.6" y="301.6" font-size="6.3" text-anchor="end" fill="#222">–5</text>
<path d="M37.6 320.4H40.6" stroke="#111" stroke-width="0.8"/>
<text x="33.6" y="322.6" font-size="6.3" text-anchor="end" fill="#222">–7</text>
<path d="M37.6 341.2H40.6" stroke="#111" stroke-width="0.8"/>
<text x="33.6" y="343.4" font-size="6.3" text-anchor="end" fill="#222">–9</text>
<path d="M46.4 359v3" stroke="#111" stroke-width="0.8"/>
<path d="M57 359v3" stroke="#111" stroke-width="0.8"/>
<path d="M67.4 359v3" stroke="#111" stroke-width="0.8"/>
<path d="M77.8 359v3" stroke="#111" stroke-width="0.8"/>
<path d="M88.2 359v3" stroke="#111" stroke-width="0.8"/>
<path d="M46.4 286V324" stroke="#1a1a1a" stroke-width="0.9"/>
<rect x="42.80" y="299.4" width="7.2" height="17.00" fill="#bdbde6" fill-opacity="0.88"/>
<circle cx="46.4" cy="303.2" r="0.72" fill="#f0a040"/>
<circle cx="46.4" cy="303.2" r="0.72" fill="#a040b0"/>
<circle cx="46.4" cy="293.3" r="0.72" fill="#f0a040"/>
<circle cx="46.4" cy="309.8" r="0.72" fill="#4848b8"/>
<circle cx="46.4" cy="290.0" r="0.72" fill="#9a5a34"/>
<circle cx="46.4" cy="291.7" r="0.72" fill="#7cc242"/>
<path d="M42.80 305.6h7.2" stroke="#0a0a0a" stroke-width="1.4"/>
<path d="M57 287V327" stroke="#1a1a1a" stroke-width="0.9"/>
<rect x="53.40" y="302" width="7.2" height="17.60" fill="#faf3b6" fill-opacity="0.88"/>
<circle cx="57" cy="310.7" r="0.72" fill="#f2e64a"/>
<circle cx="57" cy="325.1" r="0.72" fill="#4848b8"/>
<circle cx="57" cy="311.8" r="0.72" fill="#e0404a"/>
<circle cx="57" cy="289.8" r="0.72" fill="#a040b0"/>
<circle cx="57" cy="321.8" r="0.72" fill="#7cc242"/>
<circle cx="57" cy="317.8" r="0.72" fill="#9adce0"/>
<path d="M53.40 311.6h7.2" stroke="#0a0a0a" stroke-width="1.4"/>
<path d="M67.4 296.6V338" stroke="#1a1a1a" stroke-width="0.9"/>
<rect x="63.80" y="300" width="7.2" height="25.00" fill="#f3bcbc" fill-opacity="0.88"/>
<circle cx="67.4" cy="314.9" r="0.72" fill="#a040b0"/>
<circle cx="67.4" cy="318.1" r="0.72" fill="#9a5a34"/>
<circle cx="67.4" cy="317.3" r="0.72" fill="#e0404a"/>
<circle cx="67.4" cy="315.6" r="0.72" fill="#9a5a34"/>
<circle cx="67.4" cy="313.5" r="0.72" fill="#e0404a"/>
<circle cx="67.4" cy="325.7" r="0.72" fill="#9adce0"/>
<path d="M63.80 305.2h7.2" stroke="#0a0a0a" stroke-width="1.4"/>
<path d="M77.8 301V355.6" stroke="#1a1a1a" stroke-width="0.9"/>
<rect x="74.20" y="309" width="7.2" height="24.00" fill="#c8e2b2" fill-opacity="0.88"/>
<circle cx="77.8" cy="342.1" r="0.72" fill="#9a5a34"/>
<circle cx="77.8" cy="303.1" r="0.72" fill="#e0404a"/>
<circle cx="77.8" cy="323.0" r="0.72" fill="#9a5a34"/>
<circle cx="77.8" cy="322.2" r="0.72" fill="#7cc242"/>
<circle cx="77.8" cy="346.9" r="0.72" fill="#7cc242"/>
<circle cx="77.8" cy="312.9" r="0.72" fill="#7cc242"/>
<path d="M74.20 319h7.2" stroke="#0a0a0a" stroke-width="1.4"/>
<path d="M88.2 326.4V345.6" stroke="#1a1a1a" stroke-width="0.9"/>
<rect x="84.60" y="335" width="7.2" height="9.00" fill="#dcdcdc" fill-opacity="0.88"/>
<circle cx="88.2" cy="335.5" r="0.72" fill="#f2e64a"/>
<circle cx="88.2" cy="334.5" r="0.72" fill="#a040b0"/>
<circle cx="88.2" cy="341.1" r="0.72" fill="#9a5a34"/>
<circle cx="88.2" cy="333.0" r="0.72" fill="#9a5a34"/>
<circle cx="88.2" cy="333.0" r="0.72" fill="#f2e64a"/>
<circle cx="88.2" cy="340.7" r="0.72" fill="#e0404a"/>
<path d="M84.60 341.4h7.2" stroke="#0a0a0a" stroke-width="1.4"/>
<text x="67" y="278.6" font-size="6.9" text-anchor="middle" fill="#222">IL2RA</text>
<text transform="translate(49.8 368.6) rotate(-45)" font-size="7.2" text-anchor="end" fill="#222">D0</text>
<text transform="translate(60.4 368.6) rotate(-45)" font-size="7.2" text-anchor="end" fill="#222">D10</text>
<text transform="translate(70.8 368.6) rotate(-45)" font-size="7.2" text-anchor="end" fill="#222">D30</text>
<text transform="translate(81.2 368.6) rotate(-45)" font-size="7.2" text-anchor="end" fill="#222">D60</text>
<text transform="translate(91.6 368.6) rotate(-45)" font-size="7.2" text-anchor="end" fill="#222">HC</text>
<text transform="translate(19.9 321.5) rotate(-90)" font-size="8" text-anchor="middle" fill="#222" textLength="61" lengthAdjust="spacingAndGlyphs">Relative expression</text>
<path d="M123.4 284V358.6H177" fill="none" stroke="#0a0a0a" stroke-width="1.1"/>
<path d="M120.4 294.4H123.4" stroke="#111" stroke-width="0.8"/>
<text x="116.4" y="296.6" font-size="6.3" text-anchor="end" fill="#222">–2.0</text>
<path d="M120.4 307.4H123.4" stroke="#111" stroke-width="0.8"/>
<text x="116.4" y="309.6" font-size="6.3" text-anchor="end" fill="#222">–2.5</text>
<path d="M120.4 320H123.4" stroke="#111" stroke-width="0.8"/>
<text x="116.4" y="322.2" font-size="6.3" text-anchor="end" fill="#222">–3.0</text>
<path d="M120.4 332.8H123.4" stroke="#111" stroke-width="0.8"/>
<text x="116.4" y="335.1" font-size="6.3" text-anchor="end" fill="#222">–3.5</text>
<path d="M120.4 345.6H123.4" stroke="#111" stroke-width="0.8"/>
<text x="116.4" y="347.9" font-size="6.3" text-anchor="end" fill="#222">–4.0</text>
<path d="M120.4 358.4H123.4" stroke="#111" stroke-width="0.8"/>
<text x="116.4" y="360.6" font-size="6.3" text-anchor="end" fill="#222">–4.5</text>
<path d="M129.6 358.6v3" stroke="#111" stroke-width="0.8"/>
<path d="M140 358.6v3" stroke="#111" stroke-width="0.8"/>
<path d="M150.2 358.6v3" stroke="#111" stroke-width="0.8"/>
<path d="M160.6 358.6v3" stroke="#111" stroke-width="0.8"/>
<path d="M171 358.6v3" stroke="#111" stroke-width="0.8"/>
<path d="M129.6 297V322.4" stroke="#1a1a1a" stroke-width="0.9"/>
<rect x="126.00" y="312.4" width="7.2" height="9.20" fill="#bdbde6" fill-opacity="0.88"/>
<circle cx="129.6" cy="309.1" r="0.72" fill="#9adce0"/>
<circle cx="129.6" cy="301.0" r="0.72" fill="#7cc242"/>
<circle cx="129.6" cy="321.8" r="0.72" fill="#f0a040"/>
<circle cx="129.6" cy="304.2" r="0.72" fill="#f0a040"/>
<circle cx="129.6" cy="314.4" r="0.72" fill="#a040b0"/>
<circle cx="129.6" cy="311.1" r="0.72" fill="#4848b8"/>
<path d="M126.00 318.6h7.2" stroke="#0a0a0a" stroke-width="1.4"/>
<path d="M140 286V335" stroke="#1a1a1a" stroke-width="0.9"/>
<rect x="136.40" y="307" width="7.2" height="16.60" fill="#faf3b6" fill-opacity="0.88"/>
<circle cx="140" cy="333.4" r="0.72" fill="#9adce0"/>
<circle cx="140" cy="294.3" r="0.72" fill="#a040b0"/>
<circle cx="140" cy="289.3" r="0.72" fill="#a040b0"/>
<circle cx="140" cy="290.1" r="0.72" fill="#9adce0"/>
<circle cx="140" cy="319.2" r="0.72" fill="#e0404a"/>
<circle cx="140" cy="287.4" r="0.72" fill="#7cc242"/>
<path d="M136.40 309.6h7.2" stroke="#0a0a0a" stroke-width="1.4"/>
<path d="M150.2 292V338.4" stroke="#1a1a1a" stroke-width="0.9"/>
<rect x="146.60" y="310" width="7.2" height="18.40" fill="#f3bcbc" fill-opacity="0.88"/>
<circle cx="150.2" cy="329.7" r="0.72" fill="#a040b0"/>
<circle cx="150.2" cy="296.6" r="0.72" fill="#f2e64a"/>
<circle cx="150.2" cy="335.5" r="0.72" fill="#e0404a"/>
<circle cx="150.2" cy="322.5" r="0.72" fill="#4848b8"/>
<circle cx="150.2" cy="317.0" r="0.72" fill="#4848b8"/>
<circle cx="150.2" cy="336.8" r="0.72" fill="#7cc242"/>
<path d="M146.60 318.6h7.2" stroke="#0a0a0a" stroke-width="1.4"/>
<path d="M160.6 309.6V337.6" stroke="#1a1a1a" stroke-width="0.9"/>
<rect x="157.00" y="320" width="7.2" height="13.40" fill="#c8e2b2" fill-opacity="0.88"/>
<circle cx="160.6" cy="325.1" r="0.72" fill="#e0404a"/>
<circle cx="160.6" cy="320.9" r="0.72" fill="#f2e64a"/>
<circle cx="160.6" cy="328.1" r="0.72" fill="#f0a040"/>
<circle cx="160.6" cy="323.0" r="0.72" fill="#f2e64a"/>
<circle cx="160.6" cy="324.7" r="0.72" fill="#e0404a"/>
<circle cx="160.6" cy="336.2" r="0.72" fill="#9a5a34"/>
<path d="M157.00 326.6h7.2" stroke="#0a0a0a" stroke-width="1.4"/>
<path d="M171 332.4V337.6" stroke="#1a1a1a" stroke-width="0.9"/>
<rect x="167.40" y="334.4" width="7.2" height="2.60" fill="#dcdcdc" fill-opacity="0.88"/>
<circle cx="171" cy="334.4" r="0.72" fill="#9adce0"/>
<circle cx="171" cy="336.5" r="0.72" fill="#f2e64a"/>
<circle cx="171" cy="335.7" r="0.72" fill="#e0404a"/>
<circle cx="171" cy="334.0" r="0.72" fill="#9adce0"/>
<circle cx="171" cy="334.4" r="0.72" fill="#4848b8"/>
<circle cx="171" cy="333.0" r="0.72" fill="#f2e64a"/>
<path d="M167.40 335.8h7.2" stroke="#0a0a0a" stroke-width="1.4"/>
<circle cx="129.6" cy="297.2" r="1.15" fill="#5a1a78"/>
<circle cx="129.6" cy="345.4" r="1.15" fill="#3c7a1e"/>
<circle cx="160.6" cy="355.6" r="1.15" fill="#6a3010"/>
<circle cx="171" cy="320.6" r="1.15" fill="#0a0a0a"/>
<text x="150.4" y="278.6" font-size="6.9" text-anchor="middle" fill="#222">STAT3</text>
<text transform="translate(133.0 368.2) rotate(-45)" font-size="7.2" text-anchor="end" fill="#222">D0</text>
<text transform="translate(143.4 368.2) rotate(-45)" font-size="7.2" text-anchor="end" fill="#222">D10</text>
<text transform="translate(153.6 368.2) rotate(-45)" font-size="7.2" text-anchor="end" fill="#222">D30</text>
<text transform="translate(164.0 368.2) rotate(-45)" font-size="7.2" text-anchor="end" fill="#222">D60</text>
<text transform="translate(174.4 368.2) rotate(-45)" font-size="7.2" text-anchor="end" fill="#222">HC</text>
<path d="M40.6 406V480.6H93.6" fill="none" stroke="#0a0a0a" stroke-width="1.1"/>
<path d="M37.6 423.4H40.6" stroke="#111" stroke-width="0.8"/>
<text x="33.6" y="425.6" font-size="6.3" text-anchor="end" fill="#222">5</text>
<path d="M37.6 442.2H40.6" stroke="#111" stroke-width="0.8"/>
<text x="33.6" y="444.4" font-size="6.3" text-anchor="end" fill="#222">0</text>
<path d="M37.6 461.2H40.6" stroke="#111" stroke-width="0.8"/>
<text x="33.6" y="463.4" font-size="6.3" text-anchor="end" fill="#222">–5</text>
<path d="M37.6 480H40.6" stroke="#111" stroke-width="0.8"/>
<text x="33.6" y="482.2" font-size="6.3" text-anchor="end" fill="#222">–10</text>
<path d="M48 480.6v3" stroke="#111" stroke-width="0.8"/>
<path d="M61 480.6v3" stroke="#111" stroke-width="0.8"/>
<path d="M74 480.6v3" stroke="#111" stroke-width="0.8"/>
<path d="M87 480.6v3" stroke="#111" stroke-width="0.8"/>
<path d="M48 408V432.6" stroke="#4a4a4a" stroke-width="1.3"/>
<rect x="43.20" y="412" width="9.6" height="10.00" fill="#bdbde6" fill-opacity="0.88"/>
<circle cx="48" cy="414.6" r="0.72" fill="#4848b8"/>
<circle cx="48" cy="423.9" r="0.72" fill="#4848b8"/>
<circle cx="48" cy="429.0" r="0.72" fill="#4848b8"/>
<circle cx="48" cy="411.6" r="0.72" fill="#a040b0"/>
<circle cx="48" cy="426.1" r="0.72" fill="#7cc242"/>
<circle cx="48" cy="418.7" r="0.72" fill="#7cc242"/>
<path d="M43.20 415.4h9.6" stroke="#0a0a0a" stroke-width="1.4"/>
<path d="M61 442V471" stroke="#4a4a4a" stroke-width="1.3"/>
<rect x="56.20" y="447" width="9.6" height="11.60" fill="#faf3b6" fill-opacity="0.88"/>
<circle cx="61" cy="470.3" r="0.72" fill="#4848b8"/>
<circle cx="61" cy="444.9" r="0.72" fill="#9a5a34"/>
<circle cx="61" cy="465.6" r="0.72" fill="#f2e64a"/>
<circle cx="61" cy="469.1" r="0.72" fill="#9a5a34"/>
<circle cx="61" cy="452.5" r="0.72" fill="#a040b0"/>
<circle cx="61" cy="456.1" r="0.72" fill="#f2e64a"/>
<path d="M56.20 453h9.6" stroke="#0a0a0a" stroke-width="1.4"/>
<path d="M74 418V456" stroke="#4a4a4a" stroke-width="1.3"/>
<rect x="69.20" y="436.6" width="9.6" height="16.00" fill="#f3bcbc" fill-opacity="0.88"/>
<circle cx="74" cy="443.3" r="0.72" fill="#f2e64a"/>
<circle cx="74" cy="442.1" r="0.72" fill="#e0404a"/>
<circle cx="74" cy="431.3" r="0.72" fill="#9a5a34"/>
<circle cx="74" cy="444.1" r="0.72" fill="#4848b8"/>
<circle cx="74" cy="434.8" r="0.72" fill="#f0a040"/>
<circle cx="74" cy="438.3" r="0.72" fill="#9a5a34"/>
<path d="M69.20 446.6h9.6" stroke="#0a0a0a" stroke-width="1.4"/>
<path d="M87 437V469" stroke="#4a4a4a" stroke-width="1.3"/>
<rect x="82.20" y="441" width="9.6" height="15.00" fill="#c8e2b2" fill-opacity="0.88"/>
<circle cx="87" cy="443.8" r="0.72" fill="#9adce0"/>
<circle cx="87" cy="445.4" r="0.72" fill="#f0a040"/>
<circle cx="87" cy="445.6" r="0.72" fill="#9a5a34"/>
<circle cx="87" cy="449.8" r="0.72" fill="#4848b8"/>
<circle cx="87" cy="455.4" r="0.72" fill="#a040b0"/>
<circle cx="87" cy="455.0" r="0.72" fill="#a040b0"/>
<path d="M82.20 455h9.6" stroke="#0a0a0a" stroke-width="1.4"/>
<circle cx="61" cy="427.6" r="1.15" fill="#1a1a70"/>
<circle cx="61" cy="476.6" r="1.15" fill="#206868"/>
<circle cx="74" cy="477.6" r="1.15" fill="#206868"/>
<text x="67" y="400.8" font-size="6.9" text-anchor="middle" fill="#222">IL2 signaling</text>
<path d="M123.4 406V481H177" fill="none" stroke="#0a0a0a" stroke-width="1.1"/>
<path d="M120.4 407.4H123.4" stroke="#111" stroke-width="0.8"/>
<text x="116.4" y="409.6" font-size="6.3" text-anchor="end" fill="#222">6</text>
<path d="M120.4 424.4H123.4" stroke="#111" stroke-width="0.8"/>
<text x="116.4" y="426.6" font-size="6.3" text-anchor="end" fill="#222">3</text>
<path d="M120.4 441.4H123.4" stroke="#111" stroke-width="0.8"/>
<text x="116.4" y="443.6" font-size="6.3" text-anchor="end" fill="#222">0</text>
<path d="M120.4 458.4H123.4" stroke="#111" stroke-width="0.8"/>
<text x="116.4" y="460.6" font-size="6.3" text-anchor="end" fill="#222">–3</text>
<path d="M120.4 475.4H123.4" stroke="#111" stroke-width="0.8"/>
<text x="116.4" y="477.6" font-size="6.3" text-anchor="end" fill="#222">–6</text>
<path d="M131 481v3" stroke="#111" stroke-width="0.8"/>
<path d="M144 481v3" stroke="#111" stroke-width="0.8"/>
<path d="M157 481v3" stroke="#111" stroke-width="0.8"/>
<path d="M170 481v3" stroke="#111" stroke-width="0.8"/>
<path d="M131 408.6V424.4" stroke="#4a4a4a" stroke-width="1.3"/>
<rect x="126.00" y="415" width="10" height="5.60" fill="#bdbde6" fill-opacity="0.88"/>
<circle cx="131" cy="410.7" r="0.72" fill="#a040b0"/>
<circle cx="131" cy="413.1" r="0.72" fill="#9a5a34"/>
<circle cx="131" cy="413.4" r="0.72" fill="#e0404a"/>
<circle cx="131" cy="418.8" r="0.72" fill="#9a5a34"/>
<circle cx="131" cy="416.0" r="0.72" fill="#f2e64a"/>
<circle cx="131" cy="414.9" r="0.72" fill="#e0404a"/>
<path d="M126.00 419.2h10" stroke="#0a0a0a" stroke-width="1.4"/>
<path d="M144 431.6V477.6" stroke="#4a4a4a" stroke-width="1.3"/>
<rect x="139.00" y="443.4" width="10" height="17.20" fill="#faf3b6" fill-opacity="0.88"/>
<circle cx="144" cy="444.0" r="0.72" fill="#9adce0"/>
<circle cx="144" cy="448.2" r="0.72" fill="#9a5a34"/>
<circle cx="144" cy="448.3" r="0.72" fill="#4848b8"/>
<circle cx="144" cy="439.3" r="0.72" fill="#9a5a34"/>
<circle cx="144" cy="439.5" r="0.72" fill="#e0404a"/>
<circle cx="144" cy="437.6" r="0.72" fill="#9adce0"/>
<path d="M139.00 449.6h10" stroke="#0a0a0a" stroke-width="1.4"/>
<path d="M157 432V477" stroke="#4a4a4a" stroke-width="1.3"/>
<rect x="152.00" y="435" width="10" height="17.60" fill="#f3bcbc" fill-opacity="0.88"/>
<circle cx="157" cy="433.7" r="0.72" fill="#9a5a34"/>
<circle cx="157" cy="441.5" r="0.72" fill="#f2e64a"/>
<circle cx="157" cy="450.3" r="0.72" fill="#f0a040"/>
<circle cx="157" cy="471.9" r="0.72" fill="#e0404a"/>
<circle cx="157" cy="470.9" r="0.72" fill="#e0404a"/>
<circle cx="157" cy="458.0" r="0.72" fill="#9adce0"/>
<path d="M152.00 443.6h10" stroke="#0a0a0a" stroke-width="1.4"/>
<path d="M170 432.4V469" stroke="#4a4a4a" stroke-width="1.3"/>
<rect x="165.00" y="449" width="10" height="13.00" fill="#c8e2b2" fill-opacity="0.88"/>
<circle cx="170" cy="439.4" r="0.72" fill="#e0404a"/>
<circle cx="170" cy="459.5" r="0.72" fill="#f0a040"/>
<circle cx="170" cy="451.2" r="0.72" fill="#a040b0"/>
<circle cx="170" cy="442.5" r="0.72" fill="#a040b0"/>
<circle cx="170" cy="450.2" r="0.72" fill="#9a5a34"/>
<circle cx="170" cy="450.7" r="0.72" fill="#e0404a"/>
<path d="M165.00 454.4h10" stroke="#0a0a0a" stroke-width="1.4"/>
<text x="150.4" y="400.8" font-size="6.9" text-anchor="middle" fill="#222">STAT3 activation</text>
<path d="M40.6 499V574H93.6" fill="none" stroke="#0a0a0a" stroke-width="1.1"/>
<path d="M37.6 514H40.6" stroke="#111" stroke-width="0.8"/>
<text x="33.6" y="516.2" font-size="6.3" text-anchor="end" fill="#222">2.5</text>
<path d="M37.6 533.6H40.6" stroke="#111" stroke-width="0.8"/>
<text x="33.6" y="535.9" font-size="6.3" text-anchor="end" fill="#222">0.0</text>
<path d="M37.6 553.4H40.6" stroke="#111" stroke-width="0.8"/>
<text x="33.6" y="555.6" font-size="6.3" text-anchor="end" fill="#222">–2.5</text>
<path d="M37.6 573.2H40.6" stroke="#111" stroke-width="0.8"/>
<text x="33.6" y="575.5" font-size="6.3" text-anchor="end" fill="#222">–5.0</text>
<path d="M48 574v3" stroke="#111" stroke-width="0.8"/>
<path d="M61 574v3" stroke="#111" stroke-width="0.8"/>
<path d="M74 574v3" stroke="#111" stroke-width="0.8"/>
<path d="M87 574v3" stroke="#111" stroke-width="0.8"/>
<path d="M48 501.6V522" stroke="#4a4a4a" stroke-width="1.3"/>
<rect x="43.20" y="506" width="9.6" height="7.00" fill="#bdbde6" fill-opacity="0.88"/>
<circle cx="48" cy="520.8" r="0.72" fill="#7cc242"/>
<circle cx="48" cy="512.2" r="0.72" fill="#7cc242"/>
<circle cx="48" cy="505.2" r="0.72" fill="#a040b0"/>
<circle cx="48" cy="502.4" r="0.72" fill="#4848b8"/>
<circle cx="48" cy="518.7" r="0.72" fill="#9adce0"/>
<circle cx="48" cy="506.8" r="0.72" fill="#9adce0"/>
<path d="M43.20 509.6h9.6" stroke="#0a0a0a" stroke-width="1.4"/>
<path d="M61 522.4V568" stroke="#4a4a4a" stroke-width="1.3"/>
<rect x="56.20" y="527.4" width="9.6" height="18.60" fill="#faf3b6" fill-opacity="0.88"/>
<circle cx="61" cy="543.7" r="0.72" fill="#9adce0"/>
<circle cx="61" cy="535.4" r="0.72" fill="#9a5a34"/>
<circle cx="61" cy="538.3" r="0.72" fill="#a040b0"/>
<circle cx="61" cy="561.9" r="0.72" fill="#9adce0"/>
<circle cx="61" cy="532.9" r="0.72" fill="#f2e64a"/>
<circle cx="61" cy="533.2" r="0.72" fill="#f0a040"/>
<path d="M56.20 533h9.6" stroke="#0a0a0a" stroke-width="1.4"/>
<path d="M74 525V540.4" stroke="#4a4a4a" stroke-width="1.3"/>
<rect x="69.20" y="534" width="9.6" height="6.00" fill="#f3bcbc" fill-opacity="0.88"/>
<circle cx="74" cy="537.6" r="0.72" fill="#f0a040"/>
<circle cx="74" cy="526.6" r="0.72" fill="#9adce0"/>
<circle cx="74" cy="531.8" r="0.72" fill="#9adce0"/>
<circle cx="74" cy="538.9" r="0.72" fill="#f0a040"/>
<circle cx="74" cy="531.3" r="0.72" fill="#e0404a"/>
<circle cx="74" cy="532.6" r="0.72" fill="#7cc242"/>
<path d="M69.20 537.6h9.6" stroke="#0a0a0a" stroke-width="1.4"/>
<path d="M87 517.6V565.6" stroke="#4a4a4a" stroke-width="1.3"/>
<rect x="82.20" y="536.6" width="9.6" height="24.00" fill="#c8e2b2" fill-opacity="0.88"/>
<circle cx="87" cy="527.3" r="0.72" fill="#4848b8"/>
<circle cx="87" cy="547.0" r="0.72" fill="#7cc242"/>
<circle cx="87" cy="531.6" r="0.72" fill="#f0a040"/>
<circle cx="87" cy="525.2" r="0.72" fill="#e0404a"/>
<circle cx="87" cy="560.0" r="0.72" fill="#f2e64a"/>
<circle cx="87" cy="520.3" r="0.72" fill="#f0a040"/>
<path d="M82.20 551.2h9.6" stroke="#0a0a0a" stroke-width="1.4"/>
<circle cx="74" cy="571" r="1.15" fill="#206868"/>
<text x="67" y="493.4" font-size="6.9" text-anchor="middle" fill="#222">Neoplasia</text>
<text transform="translate(14.6 536) rotate(-90)" font-size="8" text-anchor="middle" fill="#222" textLength="22" lengthAdjust="spacingAndGlyphs">Z-score</text>
<path d="M123.4 499V574H177" fill="none" stroke="#0a0a0a" stroke-width="1.1"/>
<path d="M120.4 516H123.4" stroke="#111" stroke-width="0.8"/>
<text x="116.4" y="518.2" font-size="6.3" text-anchor="end" fill="#222">5</text>
<path d="M120.4 534.6H123.4" stroke="#111" stroke-width="0.8"/>
<text x="116.4" y="536.9" font-size="6.3" text-anchor="end" fill="#222">0</text>
<path d="M120.4 553.4H123.4" stroke="#111" stroke-width="0.8"/>
<text x="116.4" y="555.6" font-size="6.3" text-anchor="end" fill="#222">–5</text>
<path d="M120.4 572.4H123.4" stroke="#111" stroke-width="0.8"/>
<text x="116.4" y="574.6" font-size="6.3" text-anchor="end" fill="#222">–10</text>
<path d="M131 574v3" stroke="#111" stroke-width="0.8"/>
<path d="M144 574v3" stroke="#111" stroke-width="0.8"/>
<path d="M157 574v3" stroke="#111" stroke-width="0.8"/>
<path d="M170 574v3" stroke="#111" stroke-width="0.8"/>
<path d="M131 501.6V523" stroke="#4a4a4a" stroke-width="1.3"/>
<rect x="126.00" y="507" width="10" height="8.00" fill="#bdbde6" fill-opacity="0.88"/>
<circle cx="131" cy="509.5" r="0.72" fill="#f0a040"/>
<circle cx="131" cy="507.9" r="0.72" fill="#a040b0"/>
<circle cx="131" cy="511.2" r="0.72" fill="#f2e64a"/>
<circle cx="131" cy="519.5" r="0.72" fill="#9a5a34"/>
<circle cx="131" cy="507.0" r="0.72" fill="#a040b0"/>
<circle cx="131" cy="502.3" r="0.72" fill="#9a5a34"/>
<path d="M126.00 511h10" stroke="#0a0a0a" stroke-width="1.4"/>
<path d="M144 528.4V569" stroke="#4a4a4a" stroke-width="1.3"/>
<rect x="139.00" y="539.4" width="10" height="14.60" fill="#faf3b6" fill-opacity="0.88"/>
<circle cx="144" cy="561.2" r="0.72" fill="#4848b8"/>
<circle cx="144" cy="566.6" r="0.72" fill="#9a5a34"/>
<circle cx="144" cy="529.8" r="0.72" fill="#a040b0"/>
<circle cx="144" cy="566.8" r="0.72" fill="#9a5a34"/>
<circle cx="144" cy="529.7" r="0.72" fill="#4848b8"/>
<circle cx="144" cy="560.9" r="0.72" fill="#7cc242"/>
<path d="M139.00 545h10" stroke="#0a0a0a" stroke-width="1.4"/>
<path d="M157 526.4V571" stroke="#4a4a4a" stroke-width="1.3"/>
<rect x="152.00" y="533.6" width="10" height="16.00" fill="#f3bcbc" fill-opacity="0.88"/>
<circle cx="157" cy="547.2" r="0.72" fill="#9a5a34"/>
<circle cx="157" cy="569.9" r="0.72" fill="#9a5a34"/>
<circle cx="157" cy="542.7" r="0.72" fill="#f2e64a"/>
<circle cx="157" cy="561.2" r="0.72" fill="#9adce0"/>
<circle cx="157" cy="548.5" r="0.72" fill="#4848b8"/>
<circle cx="157" cy="568.2" r="0.72" fill="#9a5a34"/>
<path d="M152.00 538.2h10" stroke="#0a0a0a" stroke-width="1.4"/>
<path d="M170 526V556.6" stroke="#4a4a4a" stroke-width="1.3"/>
<rect x="165.00" y="538.4" width="10" height="12.00" fill="#c8e2b2" fill-opacity="0.88"/>
<circle cx="170" cy="543.6" r="0.72" fill="#9a5a34"/>
<circle cx="170" cy="555.3" r="0.72" fill="#7cc242"/>
<circle cx="170" cy="542.0" r="0.72" fill="#a040b0"/>
<circle cx="170" cy="541.0" r="0.72" fill="#9a5a34"/>
<circle cx="170" cy="535.5" r="0.72" fill="#f0a040"/>
<circle cx="170" cy="539.9" r="0.72" fill="#4848b8"/>
<path d="M165.00 544.4h10" stroke="#0a0a0a" stroke-width="1.4"/>
<text x="150.4" y="493.4" font-size="6.9" text-anchor="middle" fill="#222">Cell proliferation</text>
<text transform="translate(134.4 583.6) rotate(-45)" font-size="7.2" text-anchor="end" fill="#222">D0/HC</text>
<text transform="translate(147.4 583.6) rotate(-45)" font-size="7.2" text-anchor="end" fill="#222">D10/D0</text>
<text transform="translate(160.4 583.6) rotate(-45)" font-size="7.2" text-anchor="end" fill="#222">D30/D0</text>
<text transform="translate(173.4 583.6) rotate(-45)" font-size="7.2" text-anchor="end" fill="#222">D60/D0</text>
<path d="M40.6 600V676H93.6" fill="none" stroke="#0a0a0a" stroke-width="1.1"/>
<path d="M37.6 615H40.6" stroke="#111" stroke-width="0.8"/>
<text x="33.6" y="617.2" font-size="6.3" text-anchor="end" fill="#222">5</text>
<path d="M37.6 636H40.6" stroke="#111" stroke-width="0.8"/>
<text x="33.6" y="638.2" font-size="6.3" text-anchor="end" fill="#222">0</text>
<path d="M37.6 657H40.6" stroke="#111" stroke-width="0.8"/>
<text x="33.6" y="659.2" font-size="6.3" text-anchor="end" fill="#222">–5</text>
<path d="M48 676v3" stroke="#111" stroke-width="0.8"/>
<path d="M61 676v3" stroke="#111" stroke-width="0.8"/>
<path d="M74 676v3" stroke="#111" stroke-width="0.8"/>
<path d="M87 676v3" stroke="#111" stroke-width="0.8"/>
<path d="M48 603.6V624" stroke="#4a4a4a" stroke-width="1.3"/>
<rect x="43.20" y="609" width="9.6" height="7.00" fill="#bdbde6" fill-opacity="0.88"/>
<circle cx="48" cy="614.2" r="0.72" fill="#9a5a34"/>
<circle cx="48" cy="622.7" r="0.72" fill="#9a5a34"/>
<circle cx="48" cy="607.5" r="0.72" fill="#9a5a34"/>
<circle cx="48" cy="606.2" r="0.72" fill="#7cc242"/>
<circle cx="48" cy="608.9" r="0.72" fill="#f2e64a"/>
<circle cx="48" cy="609.0" r="0.72" fill="#9adce0"/>
<path d="M43.20 612.6h9.6" stroke="#0a0a0a" stroke-width="1.4"/>
<path d="M61 628V661" stroke="#4a4a4a" stroke-width="1.3"/>
<rect x="56.20" y="641" width="9.6" height="12.00" fill="#faf3b6" fill-opacity="0.88"/>
<circle cx="61" cy="649.0" r="0.72" fill="#f2e64a"/>
<circle cx="61" cy="632.9" r="0.72" fill="#7cc242"/>
<circle cx="61" cy="633.0" r="0.72" fill="#a040b0"/>
<circle cx="61" cy="633.3" r="0.72" fill="#a040b0"/>
<circle cx="61" cy="639.1" r="0.72" fill="#e0404a"/>
<circle cx="61" cy="656.7" r="0.72" fill="#e0404a"/>
<path d="M56.20 645h9.6" stroke="#0a0a0a" stroke-width="1.4"/>
<path d="M74 620.4V670" stroke="#4a4a4a" stroke-width="1.3"/>
<rect x="69.20" y="631.6" width="9.6" height="19.00" fill="#f3bcbc" fill-opacity="0.88"/>
<circle cx="74" cy="635.9" r="0.72" fill="#e0404a"/>
<circle cx="74" cy="645.6" r="0.72" fill="#f0a040"/>
<circle cx="74" cy="652.0" r="0.72" fill="#4848b8"/>
<circle cx="74" cy="654.1" r="0.72" fill="#f2e64a"/>
<circle cx="74" cy="660.4" r="0.72" fill="#9adce0"/>
<circle cx="74" cy="621.8" r="0.72" fill="#9adce0"/>
<path d="M69.20 644.6h9.6" stroke="#0a0a0a" stroke-width="1.4"/>
<path d="M87 638V653.6" stroke="#4a4a4a" stroke-width="1.3"/>
<rect x="82.20" y="646" width="9.6" height="5.60" fill="#c8e2b2" fill-opacity="0.88"/>
<circle cx="87" cy="646.8" r="0.72" fill="#9adce0"/>
<circle cx="87" cy="639.2" r="0.72" fill="#f0a040"/>
<circle cx="87" cy="644.0" r="0.72" fill="#7cc242"/>
<circle cx="87" cy="651.2" r="0.72" fill="#a040b0"/>
<circle cx="87" cy="640.2" r="0.72" fill="#a040b0"/>
<circle cx="87" cy="652.5" r="0.72" fill="#9adce0"/>
<path d="M82.20 648h9.6" stroke="#0a0a0a" stroke-width="1.4"/>
<circle cx="61" cy="672.2" r="1.15" fill="#206868"/>
<circle cx="87" cy="622" r="1.15" fill="#1e5a1e"/>
<circle cx="87" cy="663.6" r="1.15" fill="#206868"/>
<text x="67" y="586.8" font-size="6.9" text-anchor="middle" fill="#222">Inflammatory</text>
<text x="67" y="595.0" font-size="6.9" text-anchor="middle" fill="#222">response</text>
<text transform="translate(51.4 685.6) rotate(-45)" font-size="7.2" text-anchor="end" fill="#222">D0/HC</text>
<text transform="translate(64.4 685.6) rotate(-45)" font-size="7.2" text-anchor="end" fill="#222">D10/D0</text>
<text transform="translate(77.4 685.6) rotate(-45)" font-size="7.2" text-anchor="end" fill="#222">D30/D0</text>
<text transform="translate(90.4 685.6) rotate(-45)" font-size="7.2" text-anchor="end" fill="#222">D60/D0</text>
<g transform="translate(0 0)">
<path d="M245.3 308.9L258.1 352.9M265.6 304.3L259.0 352.8M287.1 296.9L259.7 353.0M307.1 293.4L260.1 353.3M324.1 298.7L260.4 353.6M301.5 309.1L260.2 353.4M336.0 312.8L260.6 353.9M344.9 324.7L260.8 354.3M217.3 341.7L256.6 354.3M332.9 345.6L260.9 354.7M302.2 355.7L260.9 355.0M349.2 357.3L260.9 355.1M215.4 360.2L256.5 355.3M288.6 362.5L260.8 355.5M296.0 371.3L260.7 355.9M331.1 370.5L260.9 355.5M312.9 372.7L260.8 355.7M215.9 377.4L256.8 356.0M332.3 393.2L260.7 356.0M237.3 391.5L257.6 356.9M309.9 402.3L260.3 356.5M214.2 402.2L257.2 356.6M245.9 410.8L258.2 357.1M273.6 411.4L259.3 357.1M231.0 419.7L257.8 357.0M291.5 419.3L259.7 357.0M256.4 425.3L258.6 357.2M288.7 297.2L288.5 344.2M349.5 355.0L338.5 346.9" fill="none" stroke="#1e1e1e" stroke-width="0.5" stroke-dasharray="2.1 1.3"/>
<path d="M259.5 352.9L273.9 315.7M258.6 352.8L256.9 325.7M257.3 353.3L231.4 322.8M260.8 354.3L308.8 339.1M260.9 354.7L285.0 351.3M259.1 357.2L263.5 382.6M309.9 335.1L247.1 305.8M311.2 334.6L269.0 300.9M312.8 334.3L290.5 296.8M314.3 334.2L311.2 296.0M315.5 334.2L325.2 302.9M313.6 334.2L305.7 309.2M310.6 334.8L278.6 314.5M309.0 335.6L259.8 320.6M317.3 334.5L336.3 314.3M319.6 335.2L344.9 324.9M319.9 339.2L333.2 344.1M310.1 339.6L291.9 349.1M313.1 340.3L307.3 352.3M319.0 339.6L349.3 355.6M316.4 340.3L331.9 366.7M314.9 340.4L318.0 371.2M315.7 340.4L333.7 389.4M314.5 340.4L312.5 398.1M311.7 340.1L267.0 382.9M261.1 383.2L216.6 342.9M257.6 385.0L215.9 379.6M258.6 387.5L238.6 393.7M262.1 388.6L247.0 411.3M265.0 388.7L273.3 411.4M261.5 388.5L231.9 420.3M263.5 388.7L256.9 425.4M266.2 388.5L291.1 420.0M269.0 387.7L309.4 403.4M270.4 386.6L332.2 394.5M270.0 384.5L312.4 375.6M265.9 383.0L285.7 354.8M267.4 383.3L303.1 357.6M267.2 383.2L289.2 365.4M269.1 383.9L295.9 373.8M263.7 382.9L257.1 325.3M264.4 382.9L274.7 315.7M265.4 383.0L302.9 309.2M264.8 382.9L287.8 297.1M316.4 371.6L277.5 315.6M317.7 371.5L305.3 309.2M324.0 373.3L331.1 371.9M320.6 377.1L332.8 391.4M317.7 377.3L313.3 399.6M322.6 372.3L349.3 359.1M320.0 371.6L334.3 348.3M319.3 371.5L337.4 316.9M318.0 371.5L311.2 296.0M349.7 359.7L337.9 368.7M337.6 368.9L349.5 359.9M350.5 362.2L338.1 389.8M338.0 390.1L350.4 362.5M335.0 378.2L335.5 388.1M335.5 388.4L335.0 378.5M214.0 406.7L227.4 420.3M232.6 422.1L270.9 415.0M216.4 342.7L260.9 383.0M215.6 379.6L257.3 384.9" fill="none" stroke="#151515" stroke-width="0.5"/>
<path d="M245.3 308.9L246.8 311.0L245.1 311.5zM265.6 304.3L266.1 306.8L264.3 306.6zM287.1 296.9L286.9 299.5L285.3 298.7zM307.1 293.4L306.3 295.9L304.9 294.8zM324.1 298.7L322.8 300.9L321.7 299.6zM301.5 309.1L300.5 311.5L299.2 310.3zM273.9 315.7L273.9 318.2L272.2 317.6zM256.9 325.7L257.9 328.1L256.1 328.2zM231.4 322.8L233.7 324.1L232.3 325.2zM336.0 312.8L334.4 314.8L333.5 313.2zM344.9 324.7L342.9 326.3L342.3 324.6zM308.8 339.1L306.8 340.7L306.2 339.0zM217.3 341.7L219.8 341.5L219.3 343.2zM332.9 345.6L330.6 346.8L330.4 345.0zM285.0 351.3L282.8 352.5L282.5 350.7zM302.2 355.7L299.8 356.6L299.8 354.8zM349.2 357.3L346.8 358.1L346.8 356.3zM215.4 360.2L217.7 359.0L217.9 360.8zM288.6 362.5L286.1 362.8L286.5 361.0zM296.0 371.3L293.4 371.1L294.1 369.5zM331.1 370.5L328.6 370.8L329.0 369.1zM312.9 372.7L310.4 372.8L310.9 371.1zM215.9 377.4L217.6 375.5L218.4 377.1zM263.5 382.6L262.2 380.4L263.9 380.1zM332.3 393.2L329.8 392.9L330.6 391.3zM237.3 391.5L237.7 389.0L239.2 389.9zM309.9 402.3L307.6 401.3L308.8 400.0zM214.2 402.2L215.2 399.8L216.5 401.1zM245.9 410.8L245.6 408.2L247.3 408.6zM273.6 411.4L272.2 409.3L273.9 408.9zM231.0 419.7L231.1 417.1L232.8 417.8zM291.5 419.3L289.6 417.6L291.2 416.7zM256.4 425.3L255.6 422.9L257.4 422.9zM247.1 305.8L249.6 306.0L248.9 307.7zM269.0 300.9L271.4 301.7L270.3 303.1zM290.5 296.8L292.5 298.4L291.0 299.3zM311.2 296.0L312.3 298.3L310.5 298.5zM325.2 302.9L325.4 305.4L323.6 304.9zM305.7 309.2L307.3 311.2L305.5 311.7zM278.6 314.5L281.1 315.0L280.1 316.6zM259.8 320.6L262.4 320.4L261.8 322.2zM336.3 314.3L335.3 316.6L334.0 315.4zM344.9 324.9L343.1 326.6L342.4 324.9zM333.2 344.1L330.7 344.1L331.3 342.4zM291.9 349.1L293.6 347.2L294.4 348.8zM307.3 352.3L307.5 349.8L309.2 350.5zM349.3 355.6L346.8 355.3L347.6 353.7zM331.9 366.7L329.9 365.0L331.5 364.1zM318.0 371.2L316.8 368.9L318.6 368.7zM333.7 389.4L332.1 387.5L333.8 386.8zM312.5 398.1L311.7 395.7L313.5 395.8zM267.0 382.9L268.1 380.6L269.3 381.9zM216.6 342.9L219.0 343.9L217.8 345.2zM215.9 379.6L218.4 379.1L218.2 380.8zM238.6 393.7L240.6 392.1L241.1 393.9zM247.0 411.3L247.6 408.8L249.1 409.8zM273.3 411.4L271.7 409.5L273.4 408.9zM231.9 420.3L232.9 417.9L234.2 419.1zM256.9 425.4L256.4 422.8L258.2 423.1zM291.1 420.0L288.9 418.7L290.3 417.6zM309.4 403.4L306.8 403.4L307.5 401.7zM332.2 394.5L329.7 395.1L329.9 393.3zM312.4 375.6L310.2 377.0L309.8 375.3zM285.7 354.8L285.1 357.3L283.6 356.3zM303.1 357.6L301.6 359.8L300.6 358.3zM289.2 365.4L287.9 367.6L286.8 366.2zM295.9 373.8L294.0 375.5L293.3 373.8zM257.1 325.3L258.3 327.6L256.5 327.8zM274.7 315.7L275.2 318.2L273.4 317.9zM302.9 309.2L302.6 311.7L301.0 310.9zM287.8 297.1L288.0 299.7L286.3 299.2zM277.5 315.6L279.6 317.1L278.1 318.1zM305.3 309.2L306.6 311.4L304.9 311.7zM331.1 371.9L328.9 373.2L328.6 371.5zM332.8 391.4L330.5 390.2L331.9 389.0zM313.3 399.6L312.9 397.1L314.6 397.4zM349.3 359.1L347.6 360.9L346.8 359.3zM334.3 348.3L333.8 350.8L332.3 349.9zM337.4 316.9L337.5 319.5L335.8 318.9zM311.2 296.0L312.3 298.3L310.6 298.5zM337.9 368.7L339.2 366.5L340.3 368.0zM349.5 359.9L348.1 362.0L347.0 360.6zM338.1 389.8L338.3 387.3L339.9 388.0zM350.4 362.5L350.3 365.0L348.6 364.3zM335.5 388.1L334.4 385.8L336.2 385.7zM335.0 378.5L336.0 380.8L334.2 380.9zM227.4 420.3L225.1 419.3L226.3 418.0zM270.9 415.0L268.7 416.3L268.4 414.5zM288.7 297.2L289.6 299.6L287.8 299.6zM349.5 355.0L347.0 354.3L348.1 352.8zM260.9 383.0L258.5 382.0L259.7 380.7zM257.3 384.9L254.8 385.5L255.0 383.7z" fill="#111"/>
<text x="256.2" y="355.6" font-size="3" text-anchor="end" fill="#222">Cytokine</text>
<path d="M244.0 297.575L247.85 304.4L244.0 311.22499999999997L240.15 304.4z" fill="#f4e022" stroke="#a89a10" stroke-width="0.4"/>
<text x="244.0" y="305.29999999999995" font-size="2.9" text-anchor="middle" fill="#1a1600">CXCR3</text>
<path d="M266.3 291.975L270.15000000000003 298.8L266.3 305.625L262.45 298.8z" fill="#f4e022" stroke="#a89a10" stroke-width="0.4"/>
<text x="266.3" y="299.7" font-size="2.9" text-anchor="middle" fill="#1a1600">CCR5</text>
<ellipse cx="288.7" cy="293.7" rx="4.07" ry="3.36" fill="#f4e022" stroke="#a89a10" stroke-width="0.4"/>
<text x="288.7" y="294.59999999999997" font-size="2.9" text-anchor="middle" fill="#1a1600">CXCL9</text>
<rect x="306.97" y="281.96" width="7.26" height="14.07" fill="#f4e022" stroke="#a89a10" stroke-width="0.4"/>
<text x="310.6" y="289.9" font-size="2.9" text-anchor="middle" fill="#1a1600">CCR7</text>
<rect x="323.99" y="288.66" width="6.82" height="14.28" fill="#f4e022" stroke="#a89a10" stroke-width="0.4"/>
<text x="327.4" y="296.7" font-size="2.9" text-anchor="middle" fill="#1a1600">CCR6</text>
<rect x="301.08" y="302.55" width="7.04" height="6.51" fill="#f4e022" stroke="#a89a10" stroke-width="0.4"/>
<text x="304.6" y="306.7" font-size="2.9" text-anchor="middle" fill="#1a1600">CCL5</text>
<rect x="271.79" y="309.25" width="6.82" height="6.3" fill="#f4e022" stroke="#a89a10" stroke-width="0.4"/>
<text x="275.2" y="313.29999999999995" font-size="2.9" text-anchor="middle" fill="#1a1600">CCL2</text>
<path d="M256.5 312.77500000000003L260.35 319.6L256.5 326.425L252.65 319.6z" fill="#f4e022" stroke="#a89a10" stroke-width="0.4"/>
<text x="256.5" y="320.5" font-size="2.9" text-anchor="middle" fill="#1a1600">IL2RA</text>
<ellipse cx="229.3" cy="320.3" rx="3.3" ry="3.15" fill="#f4e022" stroke="#a89a10" stroke-width="0.4"/>
<text x="229.3" y="321.2" font-size="2.9" text-anchor="middle" fill="#1a1600">SOCS1</text>
<ellipse cx="339.4" cy="311.0" rx="3.52" ry="7.245" fill="#f4e022" stroke="#a89a10" stroke-width="0.4"/>
<text x="339.4" y="311.9" font-size="2.9" text-anchor="middle" fill="#1a1600">STAT1</text>
<ellipse cx="348.0" cy="323.6" rx="3.3" ry="3.15" fill="#f4e022" stroke="#a89a10" stroke-width="0.4"/>
<text x="348.0" y="324.5" font-size="2.9" text-anchor="middle" fill="#1a1600">IRF1</text>
<ellipse cx="314.6" cy="337.3" rx="7.37" ry="3.255" fill="#f4e022" stroke="#a89a10" stroke-width="0.4"/>
<text x="314.6" y="338.2" font-size="2.9" text-anchor="middle" fill="#1a1600">STAT3</text>
<path d="M214.0 333.77500000000003L217.85 340.6L214.0 347.425L210.15 340.6z" fill="#f4e022" stroke="#a89a10" stroke-width="0.4"/>
<text x="214.0" y="341.5" font-size="2.9" text-anchor="middle" fill="#1a1600">TNFR</text>
<path d="M336.2 338.69L339.71999999999997 345.2L336.2 351.71L332.68 345.2z" fill="#f4e022" stroke="#a89a10" stroke-width="0.4"/>
<text x="336.2" y="346.09999999999997" font-size="2.9" text-anchor="middle" fill="#1a1600">IL6R</text>
<ellipse cx="288.5" cy="350.8" rx="3.52" ry="6.93" fill="#f4e022" stroke="#a89a10" stroke-width="0.4"/>
<text x="288.5" y="351.7" font-size="2.9" text-anchor="middle" fill="#1a1600">JAK</text>
<path d="M305.6 348.975L309.01000000000005 355.8L305.6 362.625L302.19 355.8z" fill="#f4e022" stroke="#a89a10" stroke-width="0.4"/>
<text x="305.6" y="356.7" font-size="2.9" text-anchor="middle" fill="#1a1600">TLR4</text>
<ellipse cx="352.7" cy="357.4" rx="3.52" ry="6.825" fill="#f4e022" stroke="#a89a10" stroke-width="0.4"/>
<text x="352.7" y="358.29999999999995" font-size="2.9" text-anchor="middle" fill="#1a1600">JAK2</text>
<rect x="208.59" y="357.45" width="6.82" height="6.3" fill="#f4e022" stroke="#a89a10" stroke-width="0.4"/>
<text x="212.0" y="361.5" font-size="2.9" text-anchor="middle" fill="#1a1600">CCL4</text>
<ellipse cx="291.8" cy="363.3" rx="3.3" ry="3.15" fill="#f4e022" stroke="#a89a10" stroke-width="0.4"/>
<text x="291.8" y="364.2" font-size="2.9" text-anchor="middle" fill="#1a1600">FAS</text>
<ellipse cx="299.0" cy="372.6" rx="3.3" ry="3.15" fill="#f4e022" stroke="#a89a10" stroke-width="0.4"/>
<text x="299.0" y="373.5" font-size="2.9" text-anchor="middle" fill="#1a1600">PIM</text>
<ellipse cx="334.6" cy="371.2" rx="3.52" ry="7.35" fill="#f4e022" stroke="#a89a10" stroke-width="0.4"/>
<text x="334.6" y="372.09999999999997" font-size="2.9" text-anchor="middle" fill="#1a1600">JAK1</text>
<ellipse cx="318.3" cy="374.4" rx="6.82" ry="3.045" fill="#f4e022" stroke="#a89a10" stroke-width="0.4"/>
<text x="318.3" y="375.29999999999995" font-size="2.9" text-anchor="middle" fill="#1a1600">NFKBIA</text>
<rect x="208.88" y="376.05" width="7.04" height="6.3" fill="#f4e022" stroke="#a89a10" stroke-width="0.4"/>
<text x="212.4" y="380.09999999999997" font-size="2.9" text-anchor="middle" fill="#1a1600">CCL3</text>
<ellipse cx="264.0" cy="385.8" rx="7.37" ry="3.045" fill="#f4e022" stroke="#a89a10" stroke-width="0.4"/>
<text x="264.0" y="386.7" font-size="2.9" text-anchor="middle" fill="#1a1600">TP53</text>
<ellipse cx="335.8" cy="395.0" rx="3.63" ry="6.93" fill="#f4e022" stroke="#a89a10" stroke-width="0.4"/>
<text x="335.8" y="395.9" font-size="2.9" text-anchor="middle" fill="#1a1600">JAK3</text>
<rect x="232.21" y="391.65" width="6.38" height="6.09" fill="#f4e022" stroke="#a89a10" stroke-width="0.4"/>
<text x="235.4" y="395.59999999999997" font-size="2.9" text-anchor="middle" fill="#1a1600">MYC</text>
<path d="M312.3 397.675L315.71000000000004 404.5L312.3 411.325L308.89 404.5z" fill="#f4e022" stroke="#a89a10" stroke-width="0.4"/>
<text x="312.3" y="405.4" font-size="2.9" text-anchor="middle" fill="#1a1600">IL4R</text>
<ellipse cx="211.9" cy="404.6" rx="3.3" ry="3.15" fill="#f4e022" stroke="#a89a10" stroke-width="0.4"/>
<text x="211.9" y="405.5" font-size="2.9" text-anchor="middle" fill="#1a1600">TUBA</text>
<ellipse cx="245.2" cy="414.0" rx="3.3" ry="3.15" fill="#f4e022" stroke="#a89a10" stroke-width="0.4"/>
<text x="245.2" y="414.9" font-size="2.9" text-anchor="middle" fill="#1a1600">CDK</text>
<path d="M270.88 411.57H277.91999999999996L274.4 417.03000000000003z" fill="#f4e022" stroke="#a89a10" stroke-width="0.4"/>
<text x="274.4" y="415.2" font-size="2.9" text-anchor="middle" fill="#1a1600">AURKA</text>
<ellipse cx="229.7" cy="422.7" rx="3.3" ry="3.15" fill="#f4e022" stroke="#a89a10" stroke-width="0.4"/>
<text x="229.7" y="423.59999999999997" font-size="2.9" text-anchor="middle" fill="#1a1600">PLK1</text>
<path d="M293.2 415.875L296.61 422.7L293.2 429.525L289.78999999999996 422.7z" fill="#f4e022" stroke="#a89a10" stroke-width="0.4"/>
<text x="293.2" y="423.59999999999997" font-size="2.9" text-anchor="middle" fill="#1a1600">TGFBR</text>
<ellipse cx="256.3" cy="428.6" rx="3.3" ry="3.15" fill="#f4e022" stroke="#a89a10" stroke-width="0.4"/>
<text x="256.3" y="429.5" font-size="2.9" text-anchor="middle" fill="#1a1600">MKI67</text>
</g>
<text x="283.6"  y="280.8" font-size="9.4" text-anchor="middle" fill="#222">D0/HC</text>
<g transform="translate(155 0)">
<path d="M245.3 308.9L258.1 352.9M265.6 304.3L259.0 352.8M287.1 296.9L259.7 353.0M307.1 293.4L260.1 353.3M324.1 298.7L260.4 353.6M301.5 309.1L260.2 353.4M336.0 312.8L260.6 353.9M344.9 324.7L260.8 354.3M217.3 341.7L256.6 354.3M332.9 345.6L260.9 354.7M302.2 355.7L260.9 355.0M349.2 357.3L260.9 355.1M215.4 360.2L256.5 355.3M288.6 362.5L260.8 355.5M296.0 371.3L260.7 355.9M331.1 370.5L260.9 355.5M312.9 372.7L260.8 355.7M215.9 377.4L256.8 356.0M332.3 393.2L260.7 356.0M237.3 391.5L257.6 356.9M309.9 402.3L260.3 356.5M214.2 402.2L257.2 356.6M245.9 410.8L258.2 357.1M273.6 411.4L259.3 357.1M231.0 419.7L257.8 357.0M291.5 419.3L259.7 357.0M256.4 425.3L258.6 357.2M288.7 297.2L288.5 344.2M349.5 355.0L338.5 346.9" fill="none" stroke="#1e1e1e" stroke-width="0.5" stroke-dasharray="2.1 1.3"/>
<path d="M259.5 352.9L273.9 315.7M258.6 352.8L256.9 325.7M257.3 353.3L231.4 322.8M260.8 354.3L308.8 339.1M260.9 354.7L285.0 351.3M259.1 357.2L263.5 382.6M309.9 335.1L247.1 305.8M311.2 334.6L269.0 300.9M312.8 334.3L290.5 296.8M314.3 334.2L311.2 296.0M315.5 334.2L325.2 302.9M313.6 334.2L305.7 309.2M310.6 334.8L278.6 314.5M309.0 335.6L259.8 320.6M317.3 334.5L336.3 314.3M319.6 335.2L344.9 324.9M319.9 339.2L333.2 344.1M310.1 339.6L291.9 349.1M313.1 340.3L307.3 352.3M319.0 339.6L349.3 355.6M316.4 340.3L331.9 366.7M314.9 340.4L318.0 371.2M315.7 340.4L333.7 389.4M314.5 340.4L312.5 398.1M311.7 340.1L267.0 382.9M261.1 383.2L216.6 342.9M257.6 385.0L215.9 379.6M258.6 387.5L238.6 393.7M262.1 388.6L247.0 411.3M265.0 388.7L273.3 411.4M261.5 388.5L231.9 420.3M263.5 388.7L256.9 425.4M266.2 388.5L291.1 420.0M269.0 387.7L309.4 403.4M270.4 386.6L332.2 394.5M270.0 384.5L312.4 375.6M265.9 383.0L285.7 354.8M267.4 383.3L303.1 357.6M267.2 383.2L289.2 365.4M269.1 383.9L295.9 373.8M263.7 382.9L257.1 325.3M264.4 382.9L274.7 315.7M265.4 383.0L302.9 309.2M264.8 382.9L287.8 297.1M316.4 371.6L277.5 315.6M317.7 371.5L305.3 309.2M324.0 373.3L331.1 371.9M320.6 377.1L332.8 391.4M317.7 377.3L313.3 399.6M322.6 372.3L349.3 359.1M320.0 371.6L334.3 348.3M319.3 371.5L337.4 316.9M318.0 371.5L311.2 296.0M349.7 359.7L337.9 368.7M337.6 368.9L349.5 359.9M350.5 362.2L338.1 389.8M338.0 390.1L350.4 362.5M335.0 378.2L335.5 388.1M335.5 388.4L335.0 378.5M214.0 406.7L227.4 420.3M232.6 422.1L270.9 415.0M216.4 342.7L260.9 383.0M215.6 379.6L257.3 384.9" fill="none" stroke="#151515" stroke-width="0.5"/>
<path d="M245.3 308.9L246.8 311.0L245.1 311.5zM265.6 304.3L266.1 306.8L264.3 306.6zM287.1 296.9L286.9 299.5L285.3 298.7zM307.1 293.4L306.3 295.9L304.9 294.8zM324.1 298.7L322.8 300.9L321.7 299.6zM301.5 309.1L300.5 311.5L299.2 310.3zM273.9 315.7L273.9 318.2L272.2 317.6zM256.9 325.7L257.9 328.1L256.1 328.2zM231.4 322.8L233.7 324.1L232.3 325.2zM336.0 312.8L334.4 314.8L333.5 313.2zM344.9 324.7L342.9 326.3L342.3 324.6zM308.8 339.1L306.8 340.7L306.2 339.0zM217.3 341.7L219.8 341.5L219.3 343.2zM332.9 345.6L330.6 346.8L330.4 345.0zM285.0 351.3L282.8 352.5L282.5 350.7zM302.2 355.7L299.8 356.6L299.8 354.8zM349.2 357.3L346.8 358.1L346.8 356.3zM215.4 360.2L217.7 359.0L217.9 360.8zM288.6 362.5L286.1 362.8L286.5 361.0zM296.0 371.3L293.4 371.1L294.1 369.5zM331.1 370.5L328.6 370.8L329.0 369.1zM312.9 372.7L310.4 372.8L310.9 371.1zM215.9 377.4L217.6 375.5L218.4 377.1zM263.5 382.6L262.2 380.4L263.9 380.1zM332.3 393.2L329.8 392.9L330.6 391.3zM237.3 391.5L237.7 389.0L239.2 389.9zM309.9 402.3L307.6 401.3L308.8 400.0zM214.2 402.2L215.2 399.8L216.5 401.1zM245.9 410.8L245.6 408.2L247.3 408.6zM273.6 411.4L272.2 409.3L273.9 408.9zM231.0 419.7L231.1 417.1L232.8 417.8zM291.5 419.3L289.6 417.6L291.2 416.7zM256.4 425.3L255.6 422.9L257.4 422.9zM247.1 305.8L249.6 306.0L248.9 307.7zM269.0 300.9L271.4 301.7L270.3 303.1zM290.5 296.8L292.5 298.4L291.0 299.3zM311.2 296.0L312.3 298.3L310.5 298.5zM325.2 302.9L325.4 305.4L323.6 304.9zM305.7 309.2L307.3 311.2L305.5 311.7zM278.6 314.5L281.1 315.0L280.1 316.6zM259.8 320.6L262.4 320.4L261.8 322.2zM336.3 314.3L335.3 316.6L334.0 315.4zM344.9 324.9L343.1 326.6L342.4 324.9zM333.2 344.1L330.7 344.1L331.3 342.4zM291.9 349.1L293.6 347.2L294.4 348.8zM307.3 352.3L307.5 349.8L309.2 350.5zM349.3 355.6L346.8 355.3L347.6 353.7zM331.9 366.7L329.9 365.0L331.5 364.1zM318.0 371.2L316.8 368.9L318.6 368.7zM333.7 389.4L332.1 387.5L333.8 386.8zM312.5 398.1L311.7 395.7L313.5 395.8zM267.0 382.9L268.1 380.6L269.3 381.9zM216.6 342.9L219.0 343.9L217.8 345.2zM215.9 379.6L218.4 379.1L218.2 380.8zM238.6 393.7L240.6 392.1L241.1 393.9zM247.0 411.3L247.6 408.8L249.1 409.8zM273.3 411.4L271.7 409.5L273.4 408.9zM231.9 420.3L232.9 417.9L234.2 419.1zM256.9 425.4L256.4 422.8L258.2 423.1zM291.1 420.0L288.9 418.7L290.3 417.6zM309.4 403.4L306.8 403.4L307.5 401.7zM332.2 394.5L329.7 395.1L329.9 393.3zM312.4 375.6L310.2 377.0L309.8 375.3zM285.7 354.8L285.1 357.3L283.6 356.3zM303.1 357.6L301.6 359.8L300.6 358.3zM289.2 365.4L287.9 367.6L286.8 366.2zM295.9 373.8L294.0 375.5L293.3 373.8zM257.1 325.3L258.3 327.6L256.5 327.8zM274.7 315.7L275.2 318.2L273.4 317.9zM302.9 309.2L302.6 311.7L301.0 310.9zM287.8 297.1L288.0 299.7L286.3 299.2zM277.5 315.6L279.6 317.1L278.1 318.1zM305.3 309.2L306.6 311.4L304.9 311.7zM331.1 371.9L328.9 373.2L328.6 371.5zM332.8 391.4L330.5 390.2L331.9 389.0zM313.3 399.6L312.9 397.1L314.6 397.4zM349.3 359.1L347.6 360.9L346.8 359.3zM334.3 348.3L333.8 350.8L332.3 349.9zM337.4 316.9L337.5 319.5L335.8 318.9zM311.2 296.0L312.3 298.3L310.6 298.5zM337.9 368.7L339.2 366.5L340.3 368.0zM349.5 359.9L348.1 362.0L347.0 360.6zM338.1 389.8L338.3 387.3L339.9 388.0zM350.4 362.5L350.3 365.0L348.6 364.3zM335.5 388.1L334.4 385.8L336.2 385.7zM335.0 378.5L336.0 380.8L334.2 380.9zM227.4 420.3L225.1 419.3L226.3 418.0zM270.9 415.0L268.7 416.3L268.4 414.5zM288.7 297.2L289.6 299.6L287.8 299.6zM349.5 355.0L347.0 354.3L348.1 352.8zM260.9 383.0L258.5 382.0L259.7 380.7zM257.3 384.9L254.8 385.5L255.0 383.7z" fill="#111"/>
<text x="256.2" y="355.6" font-size="3" text-anchor="end" fill="#222">Cytokine</text>
<path d="M244.0 297.575L247.85 304.4L244.0 311.22499999999997L240.15 304.4z" fill="#1212de" stroke="#0a0a90" stroke-width="0.4"/>
<text x="244.0" y="305.29999999999995" font-size="2.9" text-anchor="middle" fill="#e8e8ff">CXCR3</text>
<path d="M266.3 291.975L270.15000000000003 298.8L266.3 305.625L262.45 298.8z" fill="#4646e6" stroke="#2020a0" stroke-width="0.4"/>
<text x="266.3" y="299.7" font-size="2.9" text-anchor="middle" fill="#e8e8ff">CCR5</text>
<ellipse cx="288.7" cy="293.7" rx="4.07" ry="3.36" fill="#4646e6" stroke="#2020a0" stroke-width="0.4"/>
<text x="288.7" y="294.59999999999997" font-size="2.9" text-anchor="middle" fill="#e8e8ff">CXCL9</text>
<rect x="306.97" y="281.96" width="7.26" height="14.07" fill="#1212de" stroke="#0a0a90" stroke-width="0.4"/>
<text x="310.6" y="289.9" font-size="2.9" text-anchor="middle" fill="#e8e8ff">CCR7</text>
<rect x="323.99" y="288.66" width="6.82" height="14.28" fill="#1212de" stroke="#0a0a90" stroke-width="0.4"/>
<text x="327.4" y="296.7" font-size="2.9" text-anchor="middle" fill="#e8e8ff">CCR6</text>
<rect x="301.08" y="302.55" width="7.04" height="6.51" fill="#1212de" stroke="#0a0a90" stroke-width="0.4"/>
<text x="304.6" y="306.7" font-size="2.9" text-anchor="middle" fill="#e8e8ff">CCL5</text>
<rect x="271.79" y="309.25" width="6.82" height="6.3" fill="#1212de" stroke="#0a0a90" stroke-width="0.4"/>
<text x="275.2" y="313.29999999999995" font-size="2.9" text-anchor="middle" fill="#e8e8ff">CCL2</text>
<path d="M256.5 312.77500000000003L260.35 319.6L256.5 326.425L252.65 319.6z" fill="#7c7cee" stroke="#4040a0" stroke-width="0.4"/>
<text x="256.5" y="320.5" font-size="2.9" text-anchor="middle" fill="#20205a">IL2RA</text>
<ellipse cx="229.3" cy="320.3" rx="3.3" ry="3.15" fill="#7c7cee" stroke="#4040a0" stroke-width="0.4"/>
<text x="229.3" y="321.2" font-size="2.9" text-anchor="middle" fill="#20205a">SOCS1</text>
<ellipse cx="339.4" cy="311.0" rx="3.52" ry="7.245" fill="#1212de" stroke="#0a0a90" stroke-width="0.4"/>
<text x="339.4" y="311.9" font-size="2.9" text-anchor="middle" fill="#e8e8ff">STAT1</text>
<ellipse cx="348.0" cy="323.6" rx="3.3" ry="3.15" fill="#1212de" stroke="#0a0a90" stroke-width="0.4"/>
<text x="348.0" y="324.5" font-size="2.9" text-anchor="middle" fill="#e8e8ff">IRF1</text>
<ellipse cx="314.6" cy="337.3" rx="7.37" ry="3.255" fill="#4646e6" stroke="#2020a0" stroke-width="0.4"/>
<text x="314.6" y="338.2" font-size="2.9" text-anchor="middle" fill="#e8e8ff">STAT3</text>
<path d="M214.0 333.77500000000003L217.85 340.6L214.0 347.425L210.15 340.6z" fill="#4646e6" stroke="#2020a0" stroke-width="0.4"/>
<text x="214.0" y="341.5" font-size="2.9" text-anchor="middle" fill="#e8e8ff">TNFR</text>
<path d="M336.2 338.69L339.71999999999997 345.2L336.2 351.71L332.68 345.2z" fill="#1212de" stroke="#0a0a90" stroke-width="0.4"/>
<text x="336.2" y="346.09999999999997" font-size="2.9" text-anchor="middle" fill="#e8e8ff">IL6R</text>
<ellipse cx="288.5" cy="350.8" rx="3.52" ry="6.93" fill="#4646e6" stroke="#2020a0" stroke-width="0.4"/>
<text x="288.5" y="351.7" font-size="2.9" text-anchor="middle" fill="#e8e8ff">JAK</text>
<path d="M305.6 348.975L309.01000000000005 355.8L305.6 362.625L302.19 355.8z" fill="#1212de" stroke="#0a0a90" stroke-width="0.4"/>
<text x="305.6" y="356.7" font-size="2.9" text-anchor="middle" fill="#e8e8ff">TLR4</text>
<ellipse cx="352.7" cy="357.4" rx="3.52" ry="6.825" fill="#1212de" stroke="#0a0a90" stroke-width="0.4"/>
<text x="352.7" y="358.29999999999995" font-size="2.9" text-anchor="middle" fill="#e8e8ff">JAK2</text>
<rect x="208.59" y="357.45" width="6.82" height="6.3" fill="#b6b6f6" stroke="#6868a8" stroke-width="0.4"/>
<text x="212.0" y="361.5" font-size="2.9" text-anchor="middle" fill="#20205a">CCL4</text>
<ellipse cx="291.8" cy="363.3" rx="3.3" ry="3.15" fill="#7c7cee" stroke="#4040a0" stroke-width="0.4"/>
<text x="291.8" y="364.2" font-size="2.9" text-anchor="middle" fill="#20205a">FAS</text>
<ellipse cx="299.0" cy="372.6" rx="3.3" ry="3.15" fill="#4646e6" stroke="#2020a0" stroke-width="0.4"/>
<text x="299.0" y="373.5" font-size="2.9" text-anchor="middle" fill="#e8e8ff">PIM</text>
<ellipse cx="334.6" cy="371.2" rx="3.52" ry="7.35" fill="#1212de" stroke="#0a0a90" stroke-width="0.4"/>
<text x="334.6" y="372.09999999999997" font-size="2.9" text-anchor="middle" fill="#e8e8ff">JAK1</text>
<ellipse cx="318.3" cy="374.4" rx="6.82" ry="3.045" fill="#4646e6" stroke="#2020a0" stroke-width="0.4"/>
<text x="318.3" y="375.29999999999995" font-size="2.9" text-anchor="middle" fill="#e8e8ff">NFKBIA</text>
<rect x="208.88" y="376.05" width="7.04" height="6.3" fill="#1212de" stroke="#0a0a90" stroke-width="0.4"/>
<text x="212.4" y="380.09999999999997" font-size="2.9" text-anchor="middle" fill="#e8e8ff">CCL3</text>
<ellipse cx="264.0" cy="385.8" rx="7.37" ry="3.045" fill="#7c7cee" stroke="#4040a0" stroke-width="0.4"/>
<text x="264.0" y="386.7" font-size="2.9" text-anchor="middle" fill="#20205a">TP53</text>
<ellipse cx="335.8" cy="395.0" rx="3.63" ry="6.93" fill="#1212de" stroke="#0a0a90" stroke-width="0.4"/>
<text x="335.8" y="395.9" font-size="2.9" text-anchor="middle" fill="#e8e8ff">JAK3</text>
<rect x="232.21" y="391.65" width="6.38" height="6.09" fill="#b6b6f6" stroke="#6868a8" stroke-width="0.4"/>
<text x="235.4" y="395.59999999999997" font-size="2.9" text-anchor="middle" fill="#20205a">MYC</text>
<path d="M312.3 397.675L315.71000000000004 404.5L312.3 411.325L308.89 404.5z" fill="#1212de" stroke="#0a0a90" stroke-width="0.4"/>
<text x="312.3" y="405.4" font-size="2.9" text-anchor="middle" fill="#e8e8ff">IL4R</text>
<ellipse cx="211.9" cy="404.6" rx="3.3" ry="3.15" fill="#7c7cee" stroke="#4040a0" stroke-width="0.4"/>
<text x="211.9" y="405.5" font-size="2.9" text-anchor="middle" fill="#20205a">TUBA</text>
<ellipse cx="245.2" cy="414.0" rx="3.3" ry="3.15" fill="#4646e6" stroke="#2020a0" stroke-width="0.4"/>
<text x="245.2" y="414.9" font-size="2.9" text-anchor="middle" fill="#e8e8ff">CDK</text>
<path d="M270.88 411.57H277.91999999999996L274.4 417.03000000000003z" fill="#4646e6" stroke="#2020a0" stroke-width="0.4"/>
<text x="274.4" y="415.2" font-size="2.9" text-anchor="middle" fill="#e8e8ff">AURKA</text>
<ellipse cx="229.7" cy="422.7" rx="3.3" ry="3.15" fill="#4646e6" stroke="#2020a0" stroke-width="0.4"/>
<text x="229.7" y="423.59999999999997" font-size="2.9" text-anchor="middle" fill="#e8e8ff">PLK1</text>
<path d="M293.2 415.875L296.61 422.7L293.2 429.525L289.78999999999996 422.7z" fill="#1212de" stroke="#0a0a90" stroke-width="0.4"/>
<text x="293.2" y="423.59999999999997" font-size="2.9" text-anchor="middle" fill="#e8e8ff">TGFBR</text>
<ellipse cx="256.3" cy="428.6" rx="3.3" ry="3.15" fill="#4646e6" stroke="#2020a0" stroke-width="0.4"/>
<text x="256.3" y="429.5" font-size="2.9" text-anchor="middle" fill="#e8e8ff">MKI67</text>
</g>
<text x="440.0"  y="280.8" font-size="9.4" text-anchor="middle" fill="#222">D10/D0</text>
<g transform="translate(0 170)">
<path d="M245.3 308.9L258.1 352.9M265.6 304.3L259.0 352.8M287.1 296.9L259.7 353.0M307.1 293.4L260.1 353.3M324.1 298.7L260.4 353.6M301.5 309.1L260.2 353.4M336.0 312.8L260.6 353.9M344.9 324.7L260.8 354.3M217.3 341.7L256.6 354.3M332.9 345.6L260.9 354.7M302.2 355.7L260.9 355.0M349.2 357.3L260.9 355.1M215.4 360.2L256.5 355.3M288.6 362.5L260.8 355.5M296.0 371.3L260.7 355.9M331.1 370.5L260.9 355.5M312.9 372.7L260.8 355.7M215.9 377.4L256.8 356.0M332.3 393.2L260.7 356.0M237.3 391.5L257.6 356.9M309.9 402.3L260.3 356.5M214.2 402.2L257.2 356.6M245.9 410.8L258.2 357.1M273.6 411.4L259.3 357.1M231.0 419.7L257.8 357.0M291.5 419.3L259.7 357.0M256.4 425.3L258.6 357.2M288.7 297.2L288.5 344.2M349.5 355.0L338.5 346.9" fill="none" stroke="#1e1e1e" stroke-width="0.5" stroke-dasharray="2.1 1.3"/>
<path d="M259.5 352.9L273.9 315.7M258.6 352.8L256.9 325.7M257.3 353.3L231.4 322.8M260.8 354.3L308.8 339.1M260.9 354.7L285.0 351.3M259.1 357.2L263.5 382.6M309.9 335.1L247.1 305.8M311.2 334.6L269.0 300.9M312.8 334.3L290.5 296.8M314.3 334.2L311.2 296.0M315.5 334.2L325.2 302.9M313.6 334.2L305.7 309.2M310.6 334.8L278.6 314.5M309.0 335.6L259.8 320.6M317.3 334.5L336.3 314.3M319.6 335.2L344.9 324.9M319.9 339.2L333.2 344.1M310.1 339.6L291.9 349.1M313.1 340.3L307.3 352.3M319.0 339.6L349.3 355.6M316.4 340.3L331.9 366.7M314.9 340.4L318.0 371.2M315.7 340.4L333.7 389.4M314.5 340.4L312.5 398.1M311.7 340.1L267.0 382.9M261.1 383.2L216.6 342.9M257.6 385.0L215.9 379.6M258.6 387.5L238.6 393.7M262.1 388.6L247.0 411.3M265.0 388.7L273.3 411.4M261.5 388.5L231.9 420.3M263.5 388.7L256.9 425.4M266.2 388.5L291.1 420.0M269.0 387.7L309.4 403.4M270.4 386.6L332.2 394.5M270.0 384.5L312.4 375.6M265.9 383.0L285.7 354.8M267.4 383.3L303.1 357.6M267.2 383.2L289.2 365.4M269.1 383.9L295.9 373.8M263.7 382.9L257.1 325.3M264.4 382.9L274.7 315.7M265.4 383.0L302.9 309.2M264.8 382.9L287.8 297.1M316.4 371.6L277.5 315.6M317.7 371.5L305.3 309.2M324.0 373.3L331.1 371.9M320.6 377.1L332.8 391.4M317.7 377.3L313.3 399.6M322.6 372.3L349.3 359.1M320.0 371.6L334.3 348.3M319.3 371.5L337.4 316.9M318.0 371.5L311.2 296.0M349.7 359.7L337.9 368.7M337.6 368.9L349.5 359.9M350.5 362.2L338.1 389.8M338.0 390.1L350.4 362.5M335.0 378.2L335.5 388.1M335.5 388.4L335.0 378.5M214.0 406.7L227.4 420.3M232.6 422.1L270.9 415.0M216.4 342.7L260.9 383.0M215.6 379.6L257.3 384.9" fill="none" stroke="#151515" stroke-width="0.5"/>
<path d="M245.3 308.9L246.8 311.0L245.1 311.5zM265.6 304.3L266.1 306.8L264.3 306.6zM287.1 296.9L286.9 299.5L285.3 298.7zM307.1 293.4L306.3 295.9L304.9 294.8zM324.1 298.7L322.8 300.9L321.7 299.6zM301.5 309.1L300.5 311.5L299.2 310.3zM273.9 315.7L273.9 318.2L272.2 317.6zM256.9 325.7L257.9 328.1L256.1 328.2zM231.4 322.8L233.7 324.1L232.3 325.2zM336.0 312.8L334.4 314.8L333.5 313.2zM344.9 324.7L342.9 326.3L342.3 324.6zM308.8 339.1L306.8 340.7L306.2 339.0zM217.3 341.7L219.8 341.5L219.3 343.2zM332.9 345.6L330.6 346.8L330.4 345.0zM285.0 351.3L282.8 352.5L282.5 350.7zM302.2 355.7L299.8 356.6L299.8 354.8zM349.2 357.3L346.8 358.1L346.8 356.3zM215.4 360.2L217.7 359.0L217.9 360.8zM288.6 362.5L286.1 362.8L286.5 361.0zM296.0 371.3L293.4 371.1L294.1 369.5zM331.1 370.5L328.6 370.8L329.0 369.1zM312.9 372.7L310.4 372.8L310.9 371.1zM215.9 377.4L217.6 375.5L218.4 377.1zM263.5 382.6L262.2 380.4L263.9 380.1zM332.3 393.2L329.8 392.9L330.6 391.3zM237.3 391.5L237.7 389.0L239.2 389.9zM309.9 402.3L307.6 401.3L308.8 400.0zM214.2 402.2L215.2 399.8L216.5 401.1zM245.9 410.8L245.6 408.2L247.3 408.6zM273.6 411.4L272.2 409.3L273.9 408.9zM231.0 419.7L231.1 417.1L232.8 417.8zM291.5 419.3L289.6 417.6L291.2 416.7zM256.4 425.3L255.6 422.9L257.4 422.9zM247.1 305.8L249.6 306.0L248.9 307.7zM269.0 300.9L271.4 301.7L270.3 303.1zM290.5 296.8L292.5 298.4L291.0 299.3zM311.2 296.0L312.3 298.3L310.5 298.5zM325.2 302.9L325.4 305.4L323.6 304.9zM305.7 309.2L307.3 311.2L305.5 311.7zM278.6 314.5L281.1 315.0L280.1 316.6zM259.8 320.6L262.4 320.4L261.8 322.2zM336.3 314.3L335.3 316.6L334.0 315.4zM344.9 324.9L343.1 326.6L342.4 324.9zM333.2 344.1L330.7 344.1L331.3 342.4zM291.9 349.1L293.6 347.2L294.4 348.8zM307.3 352.3L307.5 349.8L309.2 350.5zM349.3 355.6L346.8 355.3L347.6 353.7zM331.9 366.7L329.9 365.0L331.5 364.1zM318.0 371.2L316.8 368.9L318.6 368.7zM333.7 389.4L332.1 387.5L333.8 386.8zM312.5 398.1L311.7 395.7L313.5 395.8zM267.0 382.9L268.1 380.6L269.3 381.9zM216.6 342.9L219.0 343.9L217.8 345.2zM215.9 379.6L218.4 379.1L218.2 380.8zM238.6 393.7L240.6 392.1L241.1 393.9zM247.0 411.3L247.6 408.8L249.1 409.8zM273.3 411.4L271.7 409.5L273.4 408.9zM231.9 420.3L232.9 417.9L234.2 419.1zM256.9 425.4L256.4 422.8L258.2 423.1zM291.1 420.0L288.9 418.7L290.3 417.6zM309.4 403.4L306.8 403.4L307.5 401.7zM332.2 394.5L329.7 395.1L329.9 393.3zM312.4 375.6L310.2 377.0L309.8 375.3zM285.7 354.8L285.1 357.3L283.6 356.3zM303.1 357.6L301.6 359.8L300.6 358.3zM289.2 365.4L287.9 367.6L286.8 366.2zM295.9 373.8L294.0 375.5L293.3 373.8zM257.1 325.3L258.3 327.6L256.5 327.8zM274.7 315.7L275.2 318.2L273.4 317.9zM302.9 309.2L302.6 311.7L301.0 310.9zM287.8 297.1L288.0 299.7L286.3 299.2zM277.5 315.6L279.6 317.1L278.1 318.1zM305.3 309.2L306.6 311.4L304.9 311.7zM331.1 371.9L328.9 373.2L328.6 371.5zM332.8 391.4L330.5 390.2L331.9 389.0zM313.3 399.6L312.9 397.1L314.6 397.4zM349.3 359.1L347.6 360.9L346.8 359.3zM334.3 348.3L333.8 350.8L332.3 349.9zM337.4 316.9L337.5 319.5L335.8 318.9zM311.2 296.0L312.3 298.3L310.6 298.5zM337.9 368.7L339.2 366.5L340.3 368.0zM349.5 359.9L348.1 362.0L347.0 360.6zM338.1 389.8L338.3 387.3L339.9 388.0zM350.4 362.5L350.3 365.0L348.6 364.3zM335.5 388.1L334.4 385.8L336.2 385.7zM335.0 378.5L336.0 380.8L334.2 380.9zM227.4 420.3L225.1 419.3L226.3 418.0zM270.9 415.0L268.7 416.3L268.4 414.5zM288.7 297.2L289.6 299.6L287.8 299.6zM349.5 355.0L347.0 354.3L348.1 352.8zM260.9 383.0L258.5 382.0L259.7 380.7zM257.3 384.9L254.8 385.5L255.0 383.7z" fill="#111"/>
<text x="256.2" y="355.6" font-size="3" text-anchor="end" fill="#222">Cytokine</text>
<path d="M244.0 297.575L247.85 304.4L244.0 311.22499999999997L240.15 304.4z" fill="#b6b6f6" stroke="#6868a8" stroke-width="0.4"/>
<text x="244.0" y="305.29999999999995" font-size="2.9" text-anchor="middle" fill="#20205a">CXCR3</text>
<path d="M266.3 291.975L270.15000000000003 298.8L266.3 305.625L262.45 298.8z" fill="#b6b6f6" stroke="#6868a8" stroke-width="0.4"/>
<text x="266.3" y="299.7" font-size="2.9" text-anchor="middle" fill="#20205a">CCR5</text>
<ellipse cx="288.7" cy="293.7" rx="4.07" ry="3.36" fill="#ffffb4" stroke="#8a8a60" stroke-width="0.4"/>
<text x="288.7" y="294.59999999999997" font-size="2.9" text-anchor="middle" fill="#1a1600">CXCL9</text>
<rect x="306.97" y="281.96" width="7.26" height="14.07" fill="#7c7cee" stroke="#4040a0" stroke-width="0.4"/>
<text x="310.6" y="289.9" font-size="2.9" text-anchor="middle" fill="#20205a">CCR7</text>
<rect x="323.99" y="288.66" width="6.82" height="14.28" fill="#b6b6f6" stroke="#6868a8" stroke-width="0.4"/>
<text x="327.4" y="296.7" font-size="2.9" text-anchor="middle" fill="#20205a">CCR6</text>
<rect x="301.08" y="302.55" width="7.04" height="6.51" fill="#7c7cee" stroke="#4040a0" stroke-width="0.4"/>
<text x="304.6" y="306.7" font-size="2.9" text-anchor="middle" fill="#20205a">CCL5</text>
<rect x="271.79" y="309.25" width="6.82" height="6.3" fill="#ffffb4" stroke="#8a8a60" stroke-width="0.4"/>
<text x="275.2" y="313.29999999999995" font-size="2.9" text-anchor="middle" fill="#1a1600">CCL2</text>
<path d="M256.5 312.77500000000003L260.35 319.6L256.5 326.425L252.65 319.6z" fill="#b6b6f6" stroke="#6868a8" stroke-width="0.4"/>
<text x="256.5" y="320.5" font-size="2.9" text-anchor="middle" fill="#20205a">IL2RA</text>
<ellipse cx="229.3" cy="320.3" rx="3.3" ry="3.15" fill="#b6b6f6" stroke="#6868a8" stroke-width="0.4"/>
<text x="229.3" y="321.2" font-size="2.9" text-anchor="middle" fill="#20205a">SOCS1</text>
<ellipse cx="339.4" cy="311.0" rx="3.52" ry="7.245" fill="#4646e6" stroke="#2020a0" stroke-width="0.4"/>
<text x="339.4" y="311.9" font-size="2.9" text-anchor="middle" fill="#e8e8ff">STAT1</text>
<ellipse cx="348.0" cy="323.6" rx="3.3" ry="3.15" fill="#7c7cee" stroke="#4040a0" stroke-width="0.4"/>
<text x="348.0" y="324.5" font-size="2.9" text-anchor="middle" fill="#20205a">IRF1</text>
<ellipse cx="314.6" cy="337.3" rx="7.37" ry="3.255" fill="#b6b6f6" stroke="#6868a8" stroke-width="0.4"/>
<text x="314.6" y="338.2" font-size="2.9" text-anchor="middle" fill="#20205a">STAT3</text>
<path d="M214.0 333.77500000000003L217.85 340.6L214.0 347.425L210.15 340.6z" fill="#7c7cee" stroke="#4040a0" stroke-width="0.4"/>
<text x="214.0" y="341.5" font-size="2.9" text-anchor="middle" fill="#20205a">TNFR</text>
<path d="M336.2 338.69L339.71999999999997 345.2L336.2 351.71L332.68 345.2z" fill="#b6b6f6" stroke="#6868a8" stroke-width="0.4"/>
<text x="336.2" y="346.09999999999997" font-size="2.9" text-anchor="middle" fill="#20205a">IL6R</text>
<ellipse cx="288.5" cy="350.8" rx="3.52" ry="6.93" fill="#4646e6" stroke="#2020a0" stroke-width="0.4"/>
<text x="288.5" y="351.7" font-size="2.9" text-anchor="middle" fill="#e8e8ff">JAK</text>
<path d="M305.6 348.975L309.01000000000005 355.8L305.6 362.625L302.19 355.8z" fill="#1212de" stroke="#0a0a90" stroke-width="0.4"/>
<text x="305.6" y="356.7" font-size="2.9" text-anchor="middle" fill="#e8e8ff">TLR4</text>
<ellipse cx="352.7" cy="357.4" rx="3.52" ry="6.825" fill="#1212de" stroke="#0a0a90" stroke-width="0.4"/>
<text x="352.7" y="358.29999999999995" font-size="2.9" text-anchor="middle" fill="#e8e8ff">JAK2</text>
<rect x="208.59" y="357.45" width="6.82" height="6.3" fill="#b6b6f6" stroke="#6868a8" stroke-width="0.4"/>
<text x="212.0" y="361.5" font-size="2.9" text-anchor="middle" fill="#20205a">CCL4</text>
<ellipse cx="291.8" cy="363.3" rx="3.3" ry="3.15" fill="#ffffb4" stroke="#8a8a60" stroke-width="0.4"/>
<text x="291.8" y="364.2" font-size="2.9" text-anchor="middle" fill="#1a1600">FAS</text>
<ellipse cx="299.0" cy="372.6" rx="3.3" ry="3.15" fill="#7c7cee" stroke="#4040a0" stroke-width="0.4"/>
<text x="299.0" y="373.5" font-size="2.9" text-anchor="middle" fill="#20205a">PIM</text>
<ellipse cx="334.6" cy="371.2" rx="3.52" ry="7.35" fill="#4646e6" stroke="#2020a0" stroke-width="0.4"/>
<text x="334.6" y="372.09999999999997" font-size="2.9" text-anchor="middle" fill="#e8e8ff">JAK1</text>
<ellipse cx="318.3" cy="374.4" rx="6.82" ry="3.045" fill="#4646e6" stroke="#2020a0" stroke-width="0.4"/>
<text x="318.3" y="375.29999999999995" font-size="2.9" text-anchor="middle" fill="#e8e8ff">NFKBIA</text>
<rect x="208.88" y="376.05" width="7.04" height="6.3" fill="#1212de" stroke="#0a0a90" stroke-width="0.4"/>
<text x="212.4" y="380.09999999999997" font-size="2.9" text-anchor="middle" fill="#e8e8ff">CCL3</text>
<ellipse cx="264.0" cy="385.8" rx="7.37" ry="3.045" fill="#7c7cee" stroke="#4040a0" stroke-width="0.4"/>
<text x="264.0" y="386.7" font-size="2.9" text-anchor="middle" fill="#20205a">TP53</text>
<ellipse cx="335.8" cy="395.0" rx="3.63" ry="6.93" fill="#1212de" stroke="#0a0a90" stroke-width="0.4"/>
<text x="335.8" y="395.9" font-size="2.9" text-anchor="middle" fill="#e8e8ff">JAK3</text>
<rect x="232.21" y="391.65" width="6.38" height="6.09" fill="#b6b6f6" stroke="#6868a8" stroke-width="0.4"/>
<text x="235.4" y="395.59999999999997" font-size="2.9" text-anchor="middle" fill="#20205a">MYC</text>
<path d="M312.3 397.675L315.71000000000004 404.5L312.3 411.325L308.89 404.5z" fill="#b6b6f6" stroke="#6868a8" stroke-width="0.4"/>
<text x="312.3" y="405.4" font-size="2.9" text-anchor="middle" fill="#20205a">IL4R</text>
<ellipse cx="211.9" cy="404.6" rx="3.3" ry="3.15" fill="#7c7cee" stroke="#4040a0" stroke-width="0.4"/>
<text x="211.9" y="405.5" font-size="2.9" text-anchor="middle" fill="#20205a">TUBA</text>
<ellipse cx="245.2" cy="414.0" rx="3.3" ry="3.15" fill="#7c7cee" stroke="#4040a0" stroke-width="0.4"/>
<text x="245.2" y="414.9" font-size="2.9" text-anchor="middle" fill="#20205a">CDK</text>
<path d="M270.88 411.57H277.91999999999996L274.4 417.03000000000003z" fill="#7c7cee" stroke="#4040a0" stroke-width="0.4"/>
<text x="274.4" y="415.2" font-size="2.9" text-anchor="middle" fill="#20205a">AURKA</text>
<ellipse cx="229.7" cy="422.7" rx="3.3" ry="3.15" fill="#7c7cee" stroke="#4040a0" stroke-width="0.4"/>
<text x="229.7" y="423.59999999999997" font-size="2.9" text-anchor="middle" fill="#20205a">PLK1</text>
<path d="M293.2 415.875L296.61 422.7L293.2 429.525L289.78999999999996 422.7z" fill="#1212de" stroke="#0a0a90" stroke-width="0.4"/>
<text x="293.2" y="423.59999999999997" font-size="2.9" text-anchor="middle" fill="#e8e8ff">TGFBR</text>
<ellipse cx="256.3" cy="428.6" rx="3.3" ry="3.15" fill="#4646e6" stroke="#2020a0" stroke-width="0.4"/>
<text x="256.3" y="429.5" font-size="2.9" text-anchor="middle" fill="#e8e8ff">MKI67</text>
</g>
<text x="283.6"  y="450.8" font-size="9.4" text-anchor="middle" fill="#222">D30/D0</text>
<g transform="translate(155 170)">
<path d="M245.3 308.9L258.1 352.9M265.6 304.3L259.0 352.8M287.1 296.9L259.7 353.0M307.1 293.4L260.1 353.3M324.1 298.7L260.4 353.6M301.5 309.1L260.2 353.4M336.0 312.8L260.6 353.9M344.9 324.7L260.8 354.3M217.3 341.7L256.6 354.3M332.9 345.6L260.9 354.7M302.2 355.7L260.9 355.0M349.2 357.3L260.9 355.1M215.4 360.2L256.5 355.3M288.6 362.5L260.8 355.5M296.0 371.3L260.7 355.9M331.1 370.5L260.9 355.5M312.9 372.7L260.8 355.7M215.9 377.4L256.8 356.0M332.3 393.2L260.7 356.0M237.3 391.5L257.6 356.9M309.9 402.3L260.3 356.5M214.2 402.2L257.2 356.6M245.9 410.8L258.2 357.1M273.6 411.4L259.3 357.1M231.0 419.7L257.8 357.0M291.5 419.3L259.7 357.0M256.4 425.3L258.6 357.2M288.7 297.2L288.5 344.2M349.5 355.0L338.5 346.9" fill="none" stroke="#1e1e1e" stroke-width="0.5" stroke-dasharray="2.1 1.3"/>
<path d="M259.5 352.9L273.9 315.7M258.6 352.8L256.9 325.7M257.3 353.3L231.4 322.8M260.8 354.3L308.8 339.1M260.9 354.7L285.0 351.3M259.1 357.2L263.5 382.6M309.9 335.1L247.1 305.8M311.2 334.6L269.0 300.9M312.8 334.3L290.5 296.8M314.3 334.2L311.2 296.0M315.5 334.2L325.2 302.9M313.6 334.2L305.7 309.2M310.6 334.8L278.6 314.5M309.0 335.6L259.8 320.6M317.3 334.5L336.3 314.3M319.6 335.2L344.9 324.9M319.9 339.2L333.2 344.1M310.1 339.6L291.9 349.1M313.1 340.3L307.3 352.3M319.0 339.6L349.3 355.6M316.4 340.3L331.9 366.7M314.9 340.4L318.0 371.2M315.7 340.4L333.7 389.4M314.5 340.4L312.5 398.1M311.7 340.1L267.0 382.9M261.1 383.2L216.6 342.9M257.6 385.0L215.9 379.6M258.6 387.5L238.6 393.7M262.1 388.6L247.0 411.3M265.0 388.7L273.3 411.4M261.5 388.5L231.9 420.3M263.5 388.7L256.9 425.4M266.2 388.5L291.1 420.0M269.0 387.7L309.4 403.4M270.4 386.6L332.2 394.5M270.0 384.5L312.4 375.6M265.9 383.0L285.7 354.8M267.4 383.3L303.1 357.6M267.2 383.2L289.2 365.4M269.1 383.9L295.9 373.8M263.7 382.9L257.1 325.3M264.4 382.9L274.7 315.7M265.4 383.0L302.9 309.2M264.8 382.9L287.8 297.1M316.4 371.6L277.5 315.6M317.7 371.5L305.3 309.2M324.0 373.3L331.1 371.9M320.6 377.1L332.8 391.4M317.7 377.3L313.3 399.6M322.6 372.3L349.3 359.1M320.0 371.6L334.3 348.3M319.3 371.5L337.4 316.9M318.0 371.5L311.2 296.0M349.7 359.7L337.9 368.7M337.6 368.9L349.5 359.9M350.5 362.2L338.1 389.8M338.0 390.1L350.4 362.5M335.0 378.2L335.5 388.1M335.5 388.4L335.0 378.5M214.0 406.7L227.4 420.3M232.6 422.1L270.9 415.0M216.4 342.7L260.9 383.0M215.6 379.6L257.3 384.9" fill="none" stroke="#151515" stroke-width="0.5"/>
<path d="M245.3 308.9L246.8 311.0L245.1 311.5zM265.6 304.3L266.1 306.8L264.3 306.6zM287.1 296.9L286.9 299.5L285.3 298.7zM307.1 293.4L306.3 295.9L304.9 294.8zM324.1 298.7L322.8 300.9L321.7 299.6zM301.5 309.1L300.5 311.5L299.2 310.3zM273.9 315.7L273.9 318.2L272.2 317.6zM256.9 325.7L257.9 328.1L256.1 328.2zM231.4 322.8L233.7 324.1L232.3 325.2zM336.0 312.8L334.4 314.8L333.5 313.2zM344.9 324.7L342.9 326.3L342.3 324.6zM308.8 339.1L306.8 340.7L306.2 339.0zM217.3 341.7L219.8 341.5L219.3 343.2zM332.9 345.6L330.6 346.8L330.4 345.0zM285.0 351.3L282.8 352.5L282.5 350.7zM302.2 355.7L299.8 356.6L299.8 354.8zM349.2 357.3L346.8 358.1L346.8 356.3zM215.4 360.2L217.7 359.0L217.9 360.8zM288.6 362.5L286.1 362.8L286.5 361.0zM296.0 371.3L293.4 371.1L294.1 369.5zM331.1 370.5L328.6 370.8L329.0 369.1zM312.9 372.7L310.4 372.8L310.9 371.1zM215.9 377.4L217.6 375.5L218.4 377.1zM263.5 382.6L262.2 380.4L263.9 380.1zM332.3 393.2L329.8 392.9L330.6 391.3zM237.3 391.5L237.7 389.0L239.2 389.9zM309.9 402.3L307.6 401.3L308.8 400.0zM214.2 402.2L215.2 399.8L216.5 401.1zM245.9 410.8L245.6 408.2L247.3 408.6zM273.6 411.4L272.2 409.3L273.9 408.9zM231.0 419.7L231.1 417.1L232.8 417.8zM291.5 419.3L289.6 417.6L291.2 416.7zM256.4 425.3L255.6 422.9L257.4 422.9zM247.1 305.8L249.6 306.0L248.9 307.7zM269.0 300.9L271.4 301.7L270.3 303.1zM290.5 296.8L292.5 298.4L291.0 299.3zM311.2 296.0L312.3 298.3L310.5 298.5zM325.2 302.9L325.4 305.4L323.6 304.9zM305.7 309.2L307.3 311.2L305.5 311.7zM278.6 314.5L281.1 315.0L280.1 316.6zM259.8 320.6L262.4 320.4L261.8 322.2zM336.3 314.3L335.3 316.6L334.0 315.4zM344.9 324.9L343.1 326.6L342.4 324.9zM333.2 344.1L330.7 344.1L331.3 342.4zM291.9 349.1L293.6 347.2L294.4 348.8zM307.3 352.3L307.5 349.8L309.2 350.5zM349.3 355.6L346.8 355.3L347.6 353.7zM331.9 366.7L329.9 365.0L331.5 364.1zM318.0 371.2L316.8 368.9L318.6 368.7zM333.7 389.4L332.1 387.5L333.8 386.8zM312.5 398.1L311.7 395.7L313.5 395.8zM267.0 382.9L268.1 380.6L269.3 381.9zM216.6 342.9L219.0 343.9L217.8 345.2zM215.9 379.6L218.4 379.1L218.2 380.8zM238.6 393.7L240.6 392.1L241.1 393.9zM247.0 411.3L247.6 408.8L249.1 409.8zM273.3 411.4L271.7 409.5L273.4 408.9zM231.9 420.3L232.9 417.9L234.2 419.1zM256.9 425.4L256.4 422.8L258.2 423.1zM291.1 420.0L288.9 418.7L290.3 417.6zM309.4 403.4L306.8 403.4L307.5 401.7zM332.2 394.5L329.7 395.1L329.9 393.3zM312.4 375.6L310.2 377.0L309.8 375.3zM285.7 354.8L285.1 357.3L283.6 356.3zM303.1 357.6L301.6 359.8L300.6 358.3zM289.2 365.4L287.9 367.6L286.8 366.2zM295.9 373.8L294.0 375.5L293.3 373.8zM257.1 325.3L258.3 327.6L256.5 327.8zM274.7 315.7L275.2 318.2L273.4 317.9zM302.9 309.2L302.6 311.7L301.0 310.9zM287.8 297.1L288.0 299.7L286.3 299.2zM277.5 315.6L279.6 317.1L278.1 318.1zM305.3 309.2L306.6 311.4L304.9 311.7zM331.1 371.9L328.9 373.2L328.6 371.5zM332.8 391.4L330.5 390.2L331.9 389.0zM313.3 399.6L312.9 397.1L314.6 397.4zM349.3 359.1L347.6 360.9L346.8 359.3zM334.3 348.3L333.8 350.8L332.3 349.9zM337.4 316.9L337.5 319.5L335.8 318.9zM311.2 296.0L312.3 298.3L310.6 298.5zM337.9 368.7L339.2 366.5L340.3 368.0zM349.5 359.9L348.1 362.0L347.0 360.6zM338.1 389.8L338.3 387.3L339.9 388.0zM350.4 362.5L350.3 365.0L348.6 364.3zM335.5 388.1L334.4 385.8L336.2 385.7zM335.0 378.5L336.0 380.8L334.2 380.9zM227.4 420.3L225.1 419.3L226.3 418.0zM270.9 415.0L268.7 416.3L268.4 414.5zM288.7 297.2L289.6 299.6L287.8 299.6zM349.5 355.0L347.0 354.3L348.1 352.8zM260.9 383.0L258.5 382.0L259.7 380.7zM257.3 384.9L254.8 385.5L255.0 383.7z" fill="#111"/>
<text x="256.2" y="355.6" font-size="3" text-anchor="end" fill="#222">Cytokine</text>
<path d="M244.0 297.575L247.85 304.4L244.0 311.22499999999997L240.15 304.4z" fill="#1212de" stroke="#0a0a90" stroke-width="0.4"/>
<text x="244.0" y="305.29999999999995" font-size="2.9" text-anchor="middle" fill="#e8e8ff">CXCR3</text>
<path d="M266.3 291.975L270.15000000000003 298.8L266.3 305.625L262.45 298.8z" fill="#b6b6f6" stroke="#6868a8" stroke-width="0.4"/>
<text x="266.3" y="299.7" font-size="2.9" text-anchor="middle" fill="#20205a">CCR5</text>
<ellipse cx="288.7" cy="293.7" rx="4.07" ry="3.36" fill="#4646e6" stroke="#2020a0" stroke-width="0.4"/>
<text x="288.7" y="294.59999999999997" font-size="2.9" text-anchor="middle" fill="#e8e8ff">CXCL9</text>
<rect x="306.97" y="281.96" width="7.26" height="14.07" fill="#1212de" stroke="#0a0a90" stroke-width="0.4"/>
<text x="310.6" y="289.9" font-size="2.9" text-anchor="middle" fill="#e8e8ff">CCR7</text>
<rect x="323.99" y="288.66" width="6.82" height="14.28" fill="#7c7cee" stroke="#4040a0" stroke-width="0.4"/>
<text x="327.4" y="296.7" font-size="2.9" text-anchor="middle" fill="#20205a">CCR6</text>
<rect x="301.08" y="302.55" width="7.04" height="6.51" fill="#1212de" stroke="#0a0a90" stroke-width="0.4"/>
<text x="304.6" y="306.7" font-size="2.9" text-anchor="middle" fill="#e8e8ff">CCL5</text>
<rect x="271.79" y="309.25" width="6.82" height="6.3" fill="#1212de" stroke="#0a0a90" stroke-width="0.4"/>
<text x="275.2" y="313.29999999999995" font-size="2.9" text-anchor="middle" fill="#e8e8ff">CCL2</text>
<path d="M256.5 312.77500000000003L260.35 319.6L256.5 326.425L252.65 319.6z" fill="#b6b6f6" stroke="#6868a8" stroke-width="0.4"/>
<text x="256.5" y="320.5" font-size="2.9" text-anchor="middle" fill="#20205a">IL2RA</text>
<ellipse cx="229.3" cy="320.3" rx="3.3" ry="3.15" fill="#7c7cee" stroke="#4040a0" stroke-width="0.4"/>
<text x="229.3" y="321.2" font-size="2.9" text-anchor="middle" fill="#20205a">SOCS1</text>
<ellipse cx="339.4" cy="311.0" rx="3.52" ry="7.245" fill="#4646e6" stroke="#2020a0" stroke-width="0.4"/>
<text x="339.4" y="311.9" font-size="2.9" text-anchor="middle" fill="#e8e8ff">STAT1</text>
<ellipse cx="348.0" cy="323.6" rx="3.3" ry="3.15" fill="#1212de" stroke="#0a0a90" stroke-width="0.4"/>
<text x="348.0" y="324.5" font-size="2.9" text-anchor="middle" fill="#e8e8ff">IRF1</text>
<ellipse cx="314.6" cy="337.3" rx="7.37" ry="3.255" fill="#4646e6" stroke="#2020a0" stroke-width="0.4"/>
<text x="314.6" y="338.2" font-size="2.9" text-anchor="middle" fill="#e8e8ff">STAT3</text>
<path d="M214.0 333.77500000000003L217.85 340.6L214.0 347.425L210.15 340.6z" fill="#b6b6f6" stroke="#6868a8" stroke-width="0.4"/>
<text x="214.0" y="341.5" font-size="2.9" text-anchor="middle" fill="#20205a">TNFR</text>
<path d="M336.2 338.69L339.71999999999997 345.2L336.2 351.71L332.68 345.2z" fill="#1212de" stroke="#0a0a90" stroke-width="0.4"/>
<text x="336.2" y="346.09999999999997" font-size="2.9" text-anchor="middle" fill="#e8e8ff">IL6R</text>
<ellipse cx="288.5" cy="350.8" rx="3.52" ry="6.93" fill="#1212de" stroke="#0a0a90" stroke-width="0.4"/>
<text x="288.5" y="351.7" font-size="2.9" text-anchor="middle" fill="#e8e8ff">JAK</text>
<path d="M305.6 348.975L309.01000000000005 355.8L305.6 362.625L302.19 355.8z" fill="#1212de" stroke="#0a0a90" stroke-width="0.4"/>
<text x="305.6" y="356.7" font-size="2.9" text-anchor="middle" fill="#e8e8ff">TLR4</text>
<ellipse cx="352.7" cy="357.4" rx="3.52" ry="6.825" fill="#1212de" stroke="#0a0a90" stroke-width="0.4"/>
<text x="352.7" y="358.29999999999995" font-size="2.9" text-anchor="middle" fill="#e8e8ff">JAK2</text>
<rect x="208.59" y="357.45" width="6.82" height="6.3" fill="#7c7cee" stroke="#4040a0" stroke-width="0.4"/>
<text x="212.0" y="361.5" font-size="2.9" text-anchor="middle" fill="#20205a">CCL4</text>
<ellipse cx="291.8" cy="363.3" rx="3.3" ry="3.15" fill="#b6b6f6" stroke="#6868a8" stroke-width="0.4"/>
<text x="291.8" y="364.2" font-size="2.9" text-anchor="middle" fill="#20205a">FAS</text>
<ellipse cx="299.0" cy="372.6" rx="3.3" ry="3.15" fill="#7c7cee" stroke="#4040a0" stroke-width="0.4"/>
<text x="299.0" y="373.5" font-size="2.9" text-anchor="middle" fill="#20205a">PIM</text>
<ellipse cx="334.6" cy="371.2" rx="3.52" ry="7.35" fill="#1212de" stroke="#0a0a90" stroke-width="0.4"/>
<text x="334.6" y="372.09999999999997" font-size="2.9" text-anchor="middle" fill="#e8e8ff">JAK1</text>
<ellipse cx="318.3" cy="374.4" rx="6.82" ry="3.045" fill="#4646e6" stroke="#2020a0" stroke-width="0.4"/>
<text x="318.3" y="375.29999999999995" font-size="2.9" text-anchor="middle" fill="#e8e8ff">NFKBIA</text>
<rect x="208.88" y="376.05" width="7.04" height="6.3" fill="#1212de" stroke="#0a0a90" stroke-width="0.4"/>
<text x="212.4" y="380.09999999999997" font-size="2.9" text-anchor="middle" fill="#e8e8ff">CCL3</text>
<ellipse cx="264.0" cy="385.8" rx="7.37" ry="3.045" fill="#b6b6f6" stroke="#6868a8" stroke-width="0.4"/>
<text x="264.0" y="386.7" font-size="2.9" text-anchor="middle" fill="#20205a">TP53</text>
<ellipse cx="335.8" cy="395.0" rx="3.63" ry="6.93" fill="#1212de" stroke="#0a0a90" stroke-width="0.4"/>
<text x="335.8" y="395.9" font-size="2.9" text-anchor="middle" fill="#e8e8ff">JAK3</text>
<rect x="232.21" y="391.65" width="6.38" height="6.09" fill="#4646e6" stroke="#2020a0" stroke-width="0.4"/>
<text x="235.4" y="395.59999999999997" font-size="2.9" text-anchor="middle" fill="#e8e8ff">MYC</text>
<path d="M312.3 397.675L315.71000000000004 404.5L312.3 411.325L308.89 404.5z" fill="#1212de" stroke="#0a0a90" stroke-width="0.4"/>
<text x="312.3" y="405.4" font-size="2.9" text-anchor="middle" fill="#e8e8ff">IL4R</text>
<ellipse cx="211.9" cy="404.6" rx="3.3" ry="3.15" fill="#b6b6f6" stroke="#6868a8" stroke-width="0.4"/>
<text x="211.9" y="405.5" font-size="2.9" text-anchor="middle" fill="#20205a">TUBA</text>
<ellipse cx="245.2" cy="414.0" rx="3.3" ry="3.15" fill="#7c7cee" stroke="#4040a0" stroke-width="0.4"/>
<text x="245.2" y="414.9" font-size="2.9" text-anchor="middle" fill="#20205a">CDK</text>
<path d="M270.88 411.57H277.91999999999996L274.4 417.03000000000003z" fill="#b6b6f6" stroke="#6868a8" stroke-width="0.4"/>
<text x="274.4" y="415.2" font-size="2.9" text-anchor="middle" fill="#20205a">AURKA</text>
<ellipse cx="229.7" cy="422.7" rx="3.3" ry="3.15" fill="#b6b6f6" stroke="#6868a8" stroke-width="0.4"/>
<text x="229.7" y="423.59999999999997" font-size="2.9" text-anchor="middle" fill="#20205a">PLK1</text>
<path d="M293.2 415.875L296.61 422.7L293.2 429.525L289.78999999999996 422.7z" fill="#1212de" stroke="#0a0a90" stroke-width="0.4"/>
<text x="293.2" y="423.59999999999997" font-size="2.9" text-anchor="middle" fill="#e8e8ff">TGFBR</text>
<ellipse cx="256.3" cy="428.6" rx="3.3" ry="3.15" fill="#1212de" stroke="#0a0a90" stroke-width="0.4"/>
<text x="256.3" y="429.5" font-size="2.9" text-anchor="middle" fill="#e8e8ff">MKI67</text>
</g>
<text x="440.0"  y="450.8" font-size="9.4" text-anchor="middle" fill="#222">D60/D0</text>
<path d="M0.6 0V711" stroke="#000" stroke-width="1.3"/><path d="M0 0.6H520" stroke="#000" stroke-width="1.3"/>
<path d="M519.3 0V711" stroke="#000" stroke-width="1.5"/><path d="M0 710.2H520" stroke="#000" stroke-width="1.6"/>
</svg>
</body></html>
